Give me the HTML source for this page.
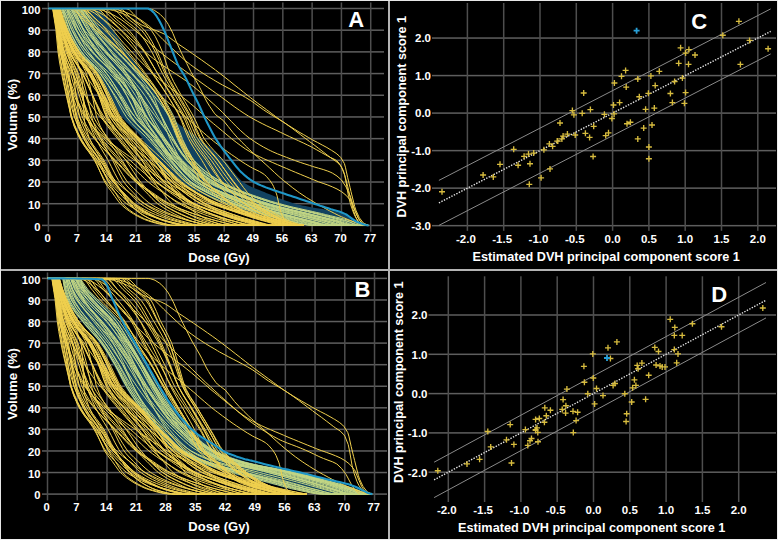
<!DOCTYPE html>
<html><head><meta charset="utf-8"><title>DVH PCA figure</title>
<style>
html,body{margin:0;padding:0;background:#000;width:778px;height:540px;overflow:hidden}
svg{display:block}
.t{font-family:"Liberation Sans",sans-serif;font-weight:bold;font-size:11.2px;fill:#fff}
.ts{font-family:"Liberation Sans",sans-serif;font-weight:bold;font-size:11.5px;fill:#fff}
.ti{font-family:"Liberation Sans",sans-serif;font-weight:bold;font-size:12.6px;fill:#fff}
.L{font-family:"Liberation Sans",sans-serif;font-weight:bold;font-size:22px;fill:#fff}
</style></head><body>
<svg width="778" height="540" viewBox="0 0 778 540">
<rect width="778" height="540" fill="#000"/>
<defs><clipPath id="ca"><rect x="0" y="0" width="388" height="269"/></clipPath><clipPath id="cb"><rect x="0" y="271" width="388" height="269"/></clipPath></defs>
<g clip-path="url(#ca)"><rect x="42" y="224.65" width="342.0" height="1.5" fill="#5e5e5e"/>
<rect x="42" y="202.96" width="342.0" height="1.5" fill="#5e5e5e"/>
<rect x="42" y="181.27" width="342.0" height="1.5" fill="#5e5e5e"/>
<rect x="42" y="159.58" width="342.0" height="1.5" fill="#5e5e5e"/>
<rect x="42" y="137.89" width="342.0" height="1.5" fill="#5e5e5e"/>
<rect x="42" y="116.20" width="342.0" height="1.5" fill="#5e5e5e"/>
<rect x="42" y="94.51" width="342.0" height="1.5" fill="#5e5e5e"/>
<rect x="42" y="72.82" width="342.0" height="1.5" fill="#5e5e5e"/>
<rect x="42" y="51.13" width="342.0" height="1.5" fill="#5e5e5e"/>
<rect x="42" y="29.44" width="342.0" height="1.5" fill="#5e5e5e"/>
<rect x="42" y="7.75" width="342.0" height="1.5" fill="#5e5e5e"/>
<rect x="47.65" y="2.5" width="1.5" height="229.2" fill="#4e4e4e"/>
<rect x="76.95" y="2.5" width="1.5" height="229.2" fill="#4e4e4e"/>
<rect x="106.25" y="2.5" width="1.5" height="229.2" fill="#4e4e4e"/>
<rect x="135.56" y="2.5" width="1.5" height="229.2" fill="#4e4e4e"/>
<rect x="164.86" y="2.5" width="1.5" height="229.2" fill="#4e4e4e"/>
<rect x="194.16" y="2.5" width="1.5" height="229.2" fill="#4e4e4e"/>
<rect x="223.46" y="2.5" width="1.5" height="229.2" fill="#4e4e4e"/>
<rect x="252.76" y="2.5" width="1.5" height="229.2" fill="#4e4e4e"/>
<rect x="282.07" y="2.5" width="1.5" height="229.2" fill="#4e4e4e"/>
<rect x="311.37" y="2.5" width="1.5" height="229.2" fill="#4e4e4e"/>
<rect x="340.67" y="2.5" width="1.5" height="229.2" fill="#4e4e4e"/>
<rect x="369.97" y="2.5" width="1.5" height="229.2" fill="#4e4e4e"/>
<path d="M61.0,8.5 L64.1,16.5 L65.1,19.3 L67.2,25.4 L68.9,30.2 L70.3,33.9 L73.5,42.0 L76.6,49.0 L78.1,51.9 L79.7,54.5 L82.8,58.9 L86.0,62.8 L89.1,66.4 L92.2,70.1 L94.9,73.6 L95.3,74.2 L98.5,78.8 L101.6,83.5 L104.7,88.3 L107.9,93.3 L109.1,95.3 L111.0,98.4 L114.1,103.9 L117.2,109.4 L120.4,114.5 L122.1,117.0 L123.5,118.7 L126.6,122.2 L129.7,125.1 L132.9,127.9 L136.0,130.8 L139.1,134.2 L142.2,138.1 L142.6,138.6 L145.4,143.9 L148.5,151.3 L151.6,158.1 L153.1,160.3 L154.7,162.4 L157.9,166.0 L161.0,169.2 L164.1,172.0 L167.3,174.5 L170.4,176.8 L173.5,179.0 L176.6,181.0 L178.2,182.0 L179.8,183.0 L182.9,184.8 L186.0,186.5 L189.1,188.1 L192.3,189.6 L195.4,191.1 L198.5,192.6 L199.1,192.9 L201.6,194.1 L204.8,195.6 L207.9,197.1 L211.0,198.5 L214.1,199.9 L217.3,201.3 L220.4,202.5 L223.4,203.7 L223.5,203.8 L226.6,204.9 L229.8,206.1 L232.9,207.1 L236.0,208.2 L239.2,209.2 L242.3,210.2 L245.4,211.2 L248.5,212.1 L251.7,213.1 L254.8,214.0 L256.9,214.6 L257.9,214.8 L261.0,215.7 L264.2,216.6 L267.3,217.4 L270.4,218.2 L273.5,219.0 L276.7,219.7 L279.8,220.4 L282.8,221.1 L282.9,221.1 L286.0,221.7 L289.2,222.3 L292.3,222.9 L295.4,223.5 L298.6,224.0 L301.7,224.5 L304.8,225.0 L307.9,225.4 L366.5,225.4 L363.1,223.6 L359.8,221.9 L358.2,221.1 L356.4,220.1 L353.0,218.1 L349.6,216.3 L346.2,214.8 L345.6,214.6 L342.8,213.7 L339.4,212.7 L336.0,211.8 L332.6,211.1 L329.2,210.4 L325.8,209.7 L322.5,209.1 L319.1,208.6 L315.7,208.0 L312.3,207.4 L308.9,206.8 L305.5,206.1 L302.1,205.4 L298.7,204.6 L295.4,203.7 L295.3,203.7 L291.9,202.7 L288.5,201.6 L285.1,200.4 L281.8,199.2 L278.4,197.9 L275.0,196.5 L271.6,195.1 L268.2,193.7 L266.1,192.9 L264.8,192.3 L261.4,191.0 L258.0,189.6 L254.6,188.2 L251.2,186.7 L247.8,184.9 L244.5,182.9 L243.0,182.0 L241.1,180.5 L237.7,177.0 L234.3,172.8 L230.9,168.3 L227.5,164.0 L224.2,160.3 L224.1,160.2 L220.7,157.0 L217.3,153.9 L213.9,150.9 L210.5,148.0 L207.2,145.2 L203.8,142.4 L200.4,139.7 L199.1,138.6 L197.0,137.0 L193.6,134.5 L190.2,132.1 L186.8,129.8 L183.4,127.4 L180.0,124.9 L176.6,122.1 L173.2,118.8 L171.5,117.0 L169.8,115.0 L166.5,109.7 L163.1,103.7 L159.7,97.8 L158.1,95.3 L156.3,92.6 L152.9,87.8 L149.5,83.2 L146.1,78.5 L142.7,73.8 L142.6,73.6 L139.3,68.8 L135.9,63.8 L132.5,58.7 L129.2,53.7 L127.9,51.9 L125.8,48.7 L122.4,43.8 L119.0,38.9 L115.6,33.8 L113.3,30.2 L112.2,28.4 L108.8,22.3 L107.0,19.3 L105.4,17.0 L102.0,12.4 L98.6,8.5Z" fill="#124260"/>
<g fill="none" stroke="#c2d684" stroke-width="1.0" stroke-linejoin="round">
<path d="M48.4,8.5 L53.0,8.5 L57.7,8.5 L62.3,8.5 L64.3,8.5 L66.9,13.0 L69.2,19.3 L71.5,25.3 L73.6,30.2 L76.2,35.2 L80.8,43.2 L85.4,50.1 L86.7,51.9 L90.1,56.0 L94.7,61.0 L99.3,65.7 L103.9,70.6 L106.4,73.6 L108.6,76.3 L113.2,82.9 L117.8,89.9 L121.3,95.3 L122.5,97.0 L127.1,104.7 L131.7,112.3 L134.9,117.0 L136.3,118.8 L141.0,124.1 L145.6,128.9 L150.2,133.6 L154.9,138.6 L154.9,138.6 L159.5,144.0 L164.1,149.6 L168.8,155.1 L173.4,160.1 L173.6,160.3 L178.0,164.8 L182.6,169.4 L187.3,173.8 L191.9,177.7 L196.5,181.2 L197.7,182.0 L201.2,184.2 L205.8,186.8 L210.4,189.2 L215.0,191.3 L218.4,192.9 L219.7,193.4 L224.3,195.4 L228.9,197.2 L233.6,199.0 L238.2,200.7 L242.8,202.3 L247.1,203.7 L247.4,203.8 L252.1,205.3 L256.7,206.6 L261.3,208.0 L266.0,209.2 L270.6,210.5 L275.2,211.7 L279.8,212.9 L284.5,214.1 L286.3,214.6 L289.1,215.3 L293.7,216.5 L298.4,217.7 L303.0,218.9 L307.6,220.0 L312.1,221.1 L312.2,221.1 L316.9,222.3 L321.5,223.6 L326.1,224.7 L330.8,225.4 L332.2,225.4 L335.4,225.4 L340.0,225.4 L344.6,225.4 L349.3,225.4 L353.9,225.4 L358.5,225.4 L363.2,225.4 L367.8,225.4"/>
<path d="M48.4,8.5 L53.0,8.5 L57.7,8.5 L62.3,8.5 L63.4,8.5 L66.9,16.9 L67.7,19.3 L71.5,29.6 L71.8,30.2 L76.2,38.9 L80.8,46.7 L84.4,51.9 L85.4,53.2 L90.1,58.6 L94.7,63.3 L99.3,67.9 L103.9,73.2 L104.2,73.6 L108.6,79.6 L113.2,86.6 L117.8,94.0 L118.6,95.3 L122.5,102.1 L127.1,110.7 L131.0,117.0 L131.7,117.9 L136.3,123.6 L141.0,128.5 L145.6,133.2 L150.2,138.1 L150.7,138.6 L154.9,143.6 L159.5,149.2 L164.1,154.8 L168.8,160.1 L169.0,160.3 L173.4,165.0 L178.0,170.0 L182.6,174.7 L187.3,178.9 L191.3,182.0 L191.9,182.4 L196.5,185.4 L201.2,188.0 L205.8,190.3 L210.4,192.5 L211.2,192.9 L215.0,194.6 L219.7,196.5 L224.3,198.4 L228.9,200.1 L233.6,201.7 L238.2,203.3 L239.5,203.7 L242.8,204.8 L247.4,206.2 L252.1,207.5 L256.7,208.8 L261.3,210.1 L266.0,211.3 L270.6,212.5 L275.2,213.7 L278.6,214.6 L279.8,214.9 L284.5,216.1 L289.1,217.2 L293.7,218.3 L298.4,219.4 L303.0,220.5 L305.5,221.1 L307.6,221.5 L312.2,222.7 L316.9,223.9 L321.5,224.9 L326.1,225.4 L327.3,225.4 L330.8,225.4 L335.4,225.4 L340.0,225.4 L344.6,225.4 L349.3,225.4 L353.9,225.4 L358.5,225.4 L363.2,225.4 L367.8,225.4"/>
<path d="M48.4,8.5 L53.0,8.5 L57.7,8.5 L62.3,8.5 L66.9,8.5 L71.5,8.5 L76.2,8.5 L78.2,8.5 L80.8,9.8 L85.4,16.0 L87.8,19.3 L90.1,22.3 L94.7,28.7 L95.9,30.2 L99.3,34.2 L103.9,39.2 L108.6,43.9 L113.2,48.6 L116.5,51.9 L117.8,53.3 L122.5,57.8 L127.1,62.4 L131.7,66.9 L136.3,71.6 L138.2,73.6 L141.0,76.5 L145.6,81.4 L150.2,86.5 L154.9,92.2 L157.1,95.3 L159.5,98.7 L164.1,106.5 L168.8,115.3 L169.5,117.0 L173.4,126.1 L178.0,137.5 L178.5,138.6 L182.6,146.7 L187.3,154.9 L191.3,160.3 L191.9,161.0 L196.5,165.8 L201.2,169.9 L205.8,173.5 L210.4,176.7 L215.0,179.6 L219.2,182.0 L219.7,182.3 L224.3,184.7 L228.9,186.9 L233.6,188.9 L238.2,190.8 L242.8,192.6 L243.5,192.9 L247.4,194.3 L252.1,196.0 L256.7,197.6 L261.3,199.1 L266.0,200.6 L270.6,202.0 L275.2,203.4 L276.4,203.7 L279.8,204.6 L284.5,205.8 L289.1,207.0 L293.7,208.1 L298.4,209.2 L303.0,210.2 L307.6,211.2 L312.2,212.3 L316.9,213.4 L321.5,214.5 L321.8,214.6 L326.1,215.6 L330.8,216.8 L335.4,217.9 L340.0,219.1 L344.6,220.3 L347.3,221.1 L349.3,221.7 L353.9,223.6 L358.5,225.1 L361.2,225.4 L363.2,225.4 L367.8,225.4"/>
<path d="M48.4,8.5 L53.0,8.5 L57.7,8.5 L62.3,8.5 L65.7,8.5 L66.9,9.3 L71.4,19.3 L71.5,19.7 L76.2,29.2 L76.7,30.2 L80.8,36.7 L85.4,43.2 L90.1,49.0 L92.5,51.9 L94.7,54.4 L99.3,59.1 L103.9,63.4 L108.6,67.7 L113.2,72.4 L114.3,73.6 L117.8,77.5 L122.5,83.1 L127.1,88.9 L131.7,95.1 L131.8,95.3 L136.3,101.9 L141.0,109.2 L145.6,116.2 L146.1,117.0 L150.2,122.5 L154.9,128.4 L159.5,134.1 L163.1,138.6 L164.1,139.9 L168.8,146.1 L173.4,152.2 L178.0,157.8 L180.4,160.3 L182.6,162.6 L187.3,166.9 L191.9,170.9 L196.5,174.6 L201.2,178.0 L205.8,181.0 L207.4,182.0 L210.4,183.7 L215.0,186.1 L219.7,188.2 L224.3,190.2 L228.9,192.1 L230.9,192.9 L233.6,193.9 L238.2,195.6 L242.8,197.3 L247.4,198.9 L252.1,200.4 L256.7,201.8 L261.3,203.2 L263.1,203.7 L266.0,204.5 L270.6,205.7 L275.2,206.9 L279.8,208.1 L284.5,209.2 L289.1,210.3 L293.7,211.3 L298.4,212.4 L303.0,213.5 L307.4,214.6 L307.6,214.6 L312.2,215.7 L316.9,216.9 L321.5,218.0 L326.1,219.1 L330.8,220.2 L334.0,221.1 L335.4,221.4 L340.0,223.0 L344.6,224.5 L349.3,225.3 L350.7,225.4 L353.9,225.4 L358.5,225.4 L363.2,225.4 L367.8,225.4"/>
<path d="M48.4,8.5 L53.0,8.5 L57.7,8.5 L62.3,8.5 L66.9,8.5 L69.8,8.5 L71.5,9.9 L76.1,19.3 L76.2,19.5 L80.8,29.1 L81.4,30.2 L85.4,36.8 L90.1,43.7 L94.7,49.9 L96.2,51.9 L99.3,55.6 L103.9,60.6 L108.6,65.4 L113.2,70.5 L115.8,73.6 L117.8,76.3 L122.5,82.7 L127.1,89.6 L130.6,95.3 L131.7,97.3 L136.3,106.4 L141.0,115.4 L141.9,117.0 L145.6,122.5 L150.2,128.8 L154.9,134.7 L157.8,138.6 L159.5,140.9 L164.1,147.3 L168.8,153.6 L173.4,159.4 L174.2,160.3 L178.0,164.6 L182.6,169.5 L187.3,174.0 L191.9,178.2 L196.5,181.7 L197.0,182.0 L201.2,184.7 L205.8,187.3 L210.4,189.7 L215.0,191.9 L217.2,192.9 L219.7,194.0 L224.3,195.9 L228.9,197.8 L233.6,199.5 L238.2,201.2 L242.8,202.8 L245.6,203.7 L247.4,204.3 L252.1,205.7 L256.7,207.1 L261.3,208.4 L266.0,209.7 L270.6,210.9 L275.2,212.1 L279.8,213.3 L284.5,214.5 L284.7,214.6 L289.1,215.7 L293.7,216.9 L298.4,218.1 L303.0,219.2 L307.6,220.3 L310.8,221.1 L312.2,221.4 L316.9,222.7 L321.5,223.9 L326.1,224.9 L330.8,225.4 L331.2,225.4 L335.4,225.4 L340.0,225.4 L344.6,225.4 L349.3,225.4 L353.9,225.4 L358.5,225.4 L363.2,225.4 L367.8,225.4"/>
<path d="M48.4,8.5 L53.0,8.5 L57.7,8.5 L62.3,8.5 L66.5,8.5 L66.9,8.6 L71.5,16.5 L73.0,19.3 L76.2,25.2 L79.2,30.2 L80.8,32.6 L85.4,38.8 L90.1,44.4 L94.7,49.6 L96.8,51.9 L99.3,54.5 L103.9,58.9 L108.6,63.0 L113.2,67.2 L117.8,71.5 L119.9,73.6 L122.5,76.2 L127.1,81.0 L131.7,86.1 L136.3,91.4 L139.6,95.3 L141.0,97.0 L145.6,103.0 L150.2,109.3 L154.9,115.6 L155.9,117.0 L159.5,121.8 L164.1,128.1 L168.8,134.4 L171.9,138.6 L173.4,140.6 L178.0,147.1 L182.6,153.5 L187.3,159.0 L188.6,160.3 L191.9,163.4 L196.5,167.4 L201.2,171.1 L205.8,174.4 L210.4,177.5 L215.0,180.3 L218.2,182.0 L219.7,182.8 L224.3,185.1 L228.9,187.2 L233.6,189.2 L238.2,191.0 L242.8,192.8 L243.1,192.9 L247.4,194.5 L252.1,196.1 L256.7,197.7 L261.3,199.3 L266.0,200.7 L270.6,202.1 L275.2,203.5 L276.1,203.7 L279.8,204.7 L284.5,205.9 L289.1,207.1 L293.7,208.2 L298.4,209.3 L303.0,210.3 L307.6,211.4 L312.2,212.4 L316.9,213.5 L321.0,214.6 L321.5,214.7 L326.1,215.8 L330.8,217.0 L335.4,218.2 L340.0,219.4 L344.6,220.6 L346.2,221.1 L349.3,222.1 L353.9,224.0 L358.5,225.3 L360.1,225.4 L363.2,225.4 L367.8,225.4"/>
<path d="M48.4,8.5 L53.0,8.5 L57.7,8.5 L62.3,8.5 L66.9,8.5 L68.9,8.5 L71.5,10.5 L76.2,18.3 L76.9,19.3 L80.8,25.1 L84.5,30.2 L85.4,31.3 L90.1,36.5 L94.7,41.3 L99.3,45.7 L103.9,50.1 L105.9,51.9 L108.6,54.3 L113.2,58.3 L117.8,62.2 L122.5,66.0 L127.1,69.8 L131.3,73.6 L131.7,73.9 L136.3,78.1 L141.0,82.4 L145.6,86.8 L150.2,91.6 L153.6,95.3 L154.9,96.8 L159.5,102.5 L164.1,108.8 L168.8,115.9 L169.4,117.0 L173.4,124.5 L178.0,134.4 L180.2,138.6 L182.6,143.2 L187.3,151.6 L191.9,158.7 L193.3,160.3 L196.5,163.7 L201.2,168.0 L205.8,171.7 L210.4,175.1 L215.0,178.1 L219.7,180.8 L221.9,182.0 L224.3,183.3 L228.9,185.6 L233.6,187.7 L238.2,189.6 L242.8,191.5 L246.5,192.9 L247.4,193.2 L252.1,194.9 L256.7,196.5 L261.3,198.1 L266.0,199.6 L270.6,201.1 L275.2,202.4 L279.7,203.7 L279.8,203.7 L284.5,205.0 L289.1,206.2 L293.7,207.3 L298.4,208.3 L303.0,209.4 L307.6,210.4 L312.2,211.4 L316.9,212.5 L321.5,213.5 L325.7,214.6 L326.1,214.7 L330.8,215.8 L335.4,216.9 L340.0,218.0 L344.6,219.2 L349.3,220.5 L351.4,221.1 L353.9,222.0 L358.5,223.9 L363.2,225.3 L364.7,225.4 L367.8,225.4"/>
<path d="M48.4,8.5 L53.0,8.5 L57.7,8.5 L61.4,8.5 L62.3,9.4 L65.4,19.3 L66.9,23.7 L69.3,30.2 L71.5,35.0 L76.2,43.6 L80.8,50.7 L81.7,51.9 L85.4,56.5 L90.1,61.3 L94.7,65.7 L99.3,70.2 L102.4,73.6 L103.9,75.5 L108.6,81.4 L113.2,87.6 L117.8,93.9 L118.9,95.3 L122.5,100.2 L127.1,106.8 L131.7,113.1 L134.9,117.0 L136.3,118.6 L141.0,123.5 L145.6,128.0 L150.2,132.4 L154.9,137.0 L156.5,138.6 L159.5,142.0 L164.1,147.3 L168.8,152.8 L173.4,157.9 L175.8,160.3 L178.0,162.5 L182.6,166.9 L187.3,171.1 L191.9,175.0 L196.5,178.6 L201.2,181.7 L201.6,182.0 L205.8,184.5 L210.4,186.9 L215.0,189.1 L219.7,191.1 L223.8,192.9 L224.3,193.1 L228.9,194.9 L233.6,196.7 L238.2,198.4 L242.8,200.0 L247.4,201.5 L252.1,203.0 L254.4,203.7 L256.7,204.4 L261.3,205.7 L266.0,207.0 L270.6,208.2 L275.2,209.3 L279.8,210.5 L284.5,211.6 L289.1,212.7 L293.7,213.8 L296.7,214.6 L298.4,215.0 L303.0,216.1 L307.6,217.2 L312.2,218.3 L316.9,219.5 L321.5,220.6 L323.7,221.1 L326.1,221.7 L330.8,223.1 L335.4,224.4 L340.0,225.3 L342.4,225.4 L344.6,225.4 L349.3,225.4 L353.9,225.4 L358.5,225.4 L363.2,225.4 L367.8,225.4"/>
<path d="M48.4,8.5 L53.0,8.5 L57.7,8.5 L62.3,8.5 L66.9,8.5 L71.5,8.5 L71.6,8.5 L76.2,15.2 L78.2,19.3 L80.8,24.7 L83.5,30.2 L85.4,33.5 L90.1,40.9 L94.7,47.5 L97.9,51.9 L99.3,53.6 L103.9,59.0 L108.6,64.0 L113.2,69.1 L116.9,73.6 L117.8,74.8 L122.5,81.1 L127.1,87.8 L131.7,95.1 L131.8,95.3 L136.3,103.7 L141.0,112.7 L143.4,117.0 L145.6,120.4 L150.2,127.1 L154.9,133.4 L158.7,138.6 L159.5,139.8 L164.1,146.6 L168.8,153.4 L173.4,159.6 L174.0,160.3 L178.0,165.2 L182.6,170.6 L187.3,175.5 L191.9,179.9 L194.6,182.0 L196.5,183.4 L201.2,186.5 L205.8,189.2 L210.4,191.6 L213.0,192.9 L215.0,193.9 L219.7,196.0 L224.3,198.0 L228.9,199.9 L233.6,201.7 L238.2,203.4 L239.2,203.7 L242.8,205.0 L247.4,206.5 L252.1,207.9 L256.7,209.3 L261.3,210.6 L266.0,211.9 L270.6,213.2 L275.2,214.4 L275.7,214.6 L279.8,215.7 L284.5,216.9 L289.1,218.1 L293.7,219.3 L298.4,220.4 L301.5,221.1 L303.0,221.4 L307.6,222.6 L312.2,223.8 L316.9,224.8 L321.5,225.3 L323.4,225.4 L326.1,225.4 L330.8,225.4 L335.4,225.4 L340.0,225.4 L344.6,225.4 L349.3,225.4 L353.9,225.4 L358.5,225.4 L363.2,225.4 L367.8,225.4"/>
<path d="M48.4,8.5 L53.0,8.5 L57.7,8.5 L62.3,8.5 L62.7,8.5 L66.9,18.1 L67.4,19.3 L71.5,29.1 L72.1,30.2 L76.2,37.2 L80.8,44.2 L85.4,50.1 L86.9,51.9 L90.1,55.4 L94.7,59.9 L99.3,64.0 L103.9,68.0 L108.6,72.3 L109.8,73.6 L113.2,77.1 L117.8,82.2 L122.5,87.4 L127.1,92.8 L129.1,95.3 L131.7,98.4 L136.3,104.3 L141.0,110.3 L145.6,116.2 L146.2,117.0 L150.2,121.7 L154.9,127.0 L159.5,132.3 L164.1,137.7 L164.9,138.6 L168.8,143.5 L173.4,149.6 L178.0,155.4 L182.5,160.3 L182.6,160.5 L187.3,164.9 L191.9,168.9 L196.5,172.7 L201.2,176.2 L205.8,179.3 L210.2,182.0 L210.4,182.1 L215.0,184.6 L219.7,186.9 L224.3,188.9 L228.9,190.8 L233.6,192.6 L234.1,192.9 L238.2,194.4 L242.8,196.1 L247.4,197.7 L252.1,199.2 L256.7,200.7 L261.3,202.1 L266.0,203.4 L266.9,203.7 L270.6,204.7 L275.2,205.9 L279.8,207.1 L284.5,208.2 L289.1,209.3 L293.7,210.3 L298.4,211.4 L303.0,212.4 L307.6,213.5 L312.2,214.6 L312.2,214.6 L316.9,215.7 L321.5,216.8 L326.1,217.9 L330.8,219.0 L335.4,220.1 L339.2,221.1 L340.0,221.3 L344.6,222.8 L349.3,224.4 L353.9,225.3 L355.3,225.4 L358.5,225.4 L363.2,225.4 L367.8,225.4"/>
<path d="M48.4,8.5 L53.0,8.5 L57.7,8.5 L62.3,8.5 L66.9,8.5 L71.5,8.5 L76.2,8.5 L76.7,8.5 L80.8,11.9 L85.4,19.1 L85.6,19.3 L90.1,26.0 L92.9,30.2 L94.7,32.6 L99.3,38.3 L103.9,43.6 L108.6,48.8 L111.3,51.9 L113.2,54.0 L117.8,58.9 L122.5,63.7 L127.1,68.6 L131.5,73.6 L131.7,73.8 L136.3,79.2 L141.0,84.8 L145.6,90.8 L148.8,95.3 L150.2,97.4 L154.9,105.1 L159.5,113.4 L161.5,117.0 L164.1,121.8 L168.8,130.5 L173.3,138.6 L173.4,138.8 L178.0,146.7 L182.6,154.2 L187.2,160.3 L187.3,160.4 L191.9,165.3 L196.5,169.8 L201.2,173.7 L205.8,177.3 L210.4,180.5 L212.9,182.0 L215.0,183.3 L219.7,185.9 L224.3,188.2 L228.9,190.4 L233.6,192.4 L234.6,192.9 L238.2,194.4 L242.8,196.2 L247.4,198.0 L252.1,199.7 L256.7,201.3 L261.3,202.9 L263.9,203.7 L266.0,204.3 L270.6,205.7 L275.2,207.0 L279.8,208.3 L284.5,209.5 L289.1,210.7 L293.7,211.9 L298.4,213.1 L303.0,214.3 L304.0,214.6 L307.6,215.5 L312.2,216.8 L316.9,218.0 L321.5,219.3 L326.1,220.5 L328.2,221.1 L330.8,221.8 L335.4,223.4 L340.0,224.8 L344.6,225.4 L344.7,225.4 L349.3,225.4 L353.9,225.4 L358.5,225.4 L363.2,225.4 L367.8,225.4"/>
<path d="M48.4,8.5 L53.0,8.5 L57.7,8.5 L62.3,8.5 L66.9,8.5 L71.5,8.5 L72.9,8.5 L76.2,11.3 L80.8,19.2 L80.9,19.3 L85.4,26.6 L87.8,30.2 L90.1,33.2 L94.7,39.0 L99.3,44.4 L103.9,49.6 L106.1,51.9 L108.6,54.6 L113.2,59.3 L117.8,63.9 L122.5,68.6 L127.1,73.5 L127.1,73.6 L131.7,78.8 L136.3,84.4 L141.0,90.2 L144.6,95.3 L145.6,96.6 L150.2,104.0 L154.9,111.8 L157.9,117.0 L159.5,119.5 L164.1,127.1 L168.8,134.5 L171.4,138.6 L173.4,141.6 L178.0,148.8 L182.6,155.4 L186.8,160.3 L187.3,160.8 L191.9,165.4 L196.5,169.5 L201.2,173.2 L205.8,176.6 L210.4,179.6 L214.4,182.0 L215.0,182.4 L219.7,184.9 L224.3,187.1 L228.9,189.2 L233.6,191.1 L237.9,192.9 L238.2,193.0 L242.8,194.8 L247.4,196.5 L252.1,198.2 L256.7,199.7 L261.3,201.3 L266.0,202.7 L269.3,203.7 L270.6,204.1 L275.2,205.4 L279.8,206.6 L284.5,207.8 L289.1,208.9 L293.7,210.1 L298.4,211.2 L303.0,212.3 L307.6,213.4 L312.1,214.6 L312.2,214.6 L316.9,215.8 L321.5,217.0 L326.1,218.2 L330.8,219.4 L335.4,220.6 L336.9,221.1 L340.0,222.1 L344.6,223.8 L349.3,225.1 L352.2,225.4 L353.9,225.4 L358.5,225.4 L363.2,225.4 L367.8,225.4"/>
<path d="M48.4,8.5 L53.0,8.5 L57.7,8.5 L62.3,8.5 L66.9,8.5 L71.5,8.5 L73.7,8.5 L76.2,10.3 L80.8,18.4 L81.4,19.3 L85.4,26.5 L87.7,30.2 L90.1,33.7 L94.7,40.0 L99.3,45.8 L103.9,51.3 L104.5,51.9 L108.6,56.5 L113.2,61.3 L117.8,66.1 L122.5,71.1 L124.6,73.6 L127.1,76.6 L131.7,82.4 L136.3,88.6 L140.8,95.3 L141.0,95.5 L145.6,103.9 L150.2,113.1 L152.3,117.0 L154.9,121.4 L159.5,129.4 L164.1,137.0 L165.2,138.6 L168.8,144.5 L173.4,151.9 L178.0,158.5 L179.5,160.3 L182.6,163.9 L187.3,168.9 L191.9,173.4 L196.5,177.4 L201.2,181.0 L202.7,182.0 L205.8,184.0 L210.4,186.7 L215.0,189.0 L219.7,191.2 L223.3,192.9 L224.3,193.3 L228.9,195.3 L233.6,197.2 L238.2,198.9 L242.8,200.6 L247.4,202.2 L252.0,203.7 L252.1,203.7 L256.7,205.2 L261.3,206.5 L266.0,207.8 L270.6,209.1 L275.2,210.3 L279.8,211.5 L284.5,212.6 L289.1,213.8 L291.9,214.6 L293.7,215.0 L298.4,216.2 L303.0,217.4 L307.6,218.6 L312.2,219.7 L316.9,220.9 L317.7,221.1 L321.5,222.1 L326.1,223.5 L330.8,224.7 L335.4,225.4 L336.8,225.4 L340.0,225.4 L344.6,225.4 L349.3,225.4 L353.9,225.4 L358.5,225.4 L363.2,225.4 L367.8,225.4"/>
<path d="M48.4,8.5 L53.0,8.5 L57.7,8.5 L62.3,8.5 L66.9,8.5 L71.5,8.5 L76.2,8.5 L80.1,8.5 L80.8,8.6 L85.4,12.9 L90.0,19.3 L90.1,19.5 L94.7,25.9 L97.9,30.2 L99.3,32.0 L103.9,37.3 L108.6,42.2 L113.2,47.0 L117.8,51.8 L117.9,51.9 L122.5,56.7 L127.1,61.4 L131.7,66.1 L136.3,71.0 L138.7,73.6 L141.0,76.0 L145.6,81.1 L150.2,86.3 L154.9,92.2 L157.0,95.3 L159.5,99.1 L164.1,107.3 L168.8,116.7 L168.9,117.0 L173.4,128.5 L177.4,138.6 L178.0,140.1 L182.6,149.6 L187.3,157.7 L189.2,160.3 L191.9,163.5 L196.5,168.3 L201.2,172.5 L205.8,176.2 L210.4,179.4 L214.5,182.0 L215.0,182.4 L219.7,185.1 L224.3,187.4 L228.9,189.6 L233.6,191.6 L236.5,192.9 L238.2,193.6 L242.8,195.5 L247.4,197.2 L252.1,198.9 L256.7,200.6 L261.3,202.1 L266.0,203.6 L266.4,203.7 L270.6,205.0 L275.2,206.3 L279.8,207.5 L284.5,208.7 L289.1,209.9 L293.7,211.0 L298.4,212.2 L303.0,213.3 L307.6,214.5 L307.8,214.6 L312.2,215.7 L316.9,216.9 L321.5,218.2 L326.1,219.4 L330.8,220.6 L332.5,221.1 L335.4,222.0 L340.0,223.6 L344.6,225.0 L348.5,225.4 L349.3,225.4 L353.9,225.4 L358.5,225.4 L363.2,225.4 L367.8,225.4"/>
<path d="M48.4,8.5 L53.0,8.5 L57.7,8.5 L62.3,8.5 L65.1,8.5 L66.9,10.4 L70.6,19.3 L71.5,21.2 L75.9,30.2 L76.2,30.6 L80.8,37.9 L85.4,44.2 L90.1,50.0 L91.7,51.9 L94.7,55.1 L99.3,59.7 L103.9,63.9 L108.6,68.2 L113.2,72.8 L113.9,73.6 L117.8,77.9 L122.5,83.4 L127.1,89.1 L131.7,95.1 L131.8,95.3 L136.3,101.7 L141.0,108.8 L145.6,115.6 L146.6,117.0 L150.2,121.8 L154.9,127.6 L159.5,133.3 L163.8,138.6 L164.1,139.0 L168.8,145.1 L173.4,151.3 L178.0,157.0 L181.1,160.3 L182.6,161.8 L187.3,166.1 L191.9,170.1 L196.5,173.8 L201.2,177.2 L205.8,180.3 L208.7,182.0 L210.4,183.0 L215.0,185.4 L219.7,187.6 L224.3,189.6 L228.9,191.4 L232.6,192.9 L233.6,193.2 L238.2,195.0 L242.8,196.6 L247.4,198.2 L252.1,199.7 L256.7,201.2 L261.3,202.6 L265.3,203.7 L266.0,203.9 L270.6,205.2 L275.2,206.4 L279.8,207.5 L284.5,208.6 L289.1,209.7 L293.7,210.7 L298.4,211.8 L303.0,212.9 L307.6,213.9 L310.1,214.6 L312.2,215.1 L316.9,216.2 L321.5,217.3 L326.1,218.4 L330.8,219.5 L335.4,220.7 L336.8,221.1 L340.0,222.0 L344.6,223.6 L349.3,225.0 L353.1,225.4 L353.9,225.4 L358.5,225.4 L363.2,225.4 L367.8,225.4"/>
<path d="M48.4,8.5 L53.0,8.5 L57.7,8.5 L62.3,8.5 L66.9,8.5 L67.7,8.5 L71.5,16.1 L72.7,19.3 L76.2,28.7 L76.8,30.2 L80.8,38.6 L85.4,46.9 L88.7,51.9 L90.1,53.8 L94.7,59.5 L99.3,64.5 L103.9,69.7 L106.9,73.6 L108.6,75.9 L113.2,83.1 L117.8,90.9 L120.3,95.3 L122.5,99.3 L127.1,108.8 L131.6,117.0 L131.7,117.1 L136.3,123.3 L141.0,128.6 L145.6,133.7 L149.9,138.6 L150.2,139.0 L154.9,144.9 L159.5,151.0 L164.1,157.0 L166.8,160.3 L168.8,162.7 L173.4,168.6 L178.0,174.2 L182.6,179.3 L185.7,182.0 L187.3,183.3 L191.9,186.6 L196.5,189.4 L201.2,192.0 L202.8,192.9 L205.8,194.4 L210.4,196.6 L215.0,198.6 L219.7,200.6 L224.3,202.4 L227.9,203.7 L228.9,204.1 L233.6,205.7 L238.2,207.3 L242.8,208.7 L247.4,210.1 L252.1,211.5 L256.7,212.8 L261.3,214.1 L262.9,214.6 L266.0,215.4 L270.6,216.6 L275.2,217.8 L279.8,218.9 L284.5,220.0 L289.1,221.0 L289.3,221.1 L293.7,222.1 L298.4,223.2 L303.0,224.2 L307.6,225.0 L312.2,225.4 L313.6,225.4 L316.9,225.4 L321.5,225.4 L326.1,225.4 L330.8,225.4 L335.4,225.4 L340.0,225.4 L344.6,225.4 L349.3,225.4 L353.9,225.4 L358.5,225.4 L363.2,225.4 L367.8,225.4"/>
<path d="M48.4,8.5 L53.0,8.5 L57.7,8.5 L60.7,8.5 L62.3,11.8 L64.3,19.3 L66.9,27.1 L68.1,30.2 L71.5,37.7 L76.2,46.1 L80.0,51.9 L80.8,53.0 L85.4,58.5 L90.1,63.1 L94.7,67.6 L99.3,72.7 L100.1,73.6 L103.9,78.8 L108.6,85.6 L113.2,92.6 L115.0,95.3 L117.8,99.6 L122.5,106.8 L127.1,113.6 L129.7,117.0 L131.7,119.3 L136.3,124.0 L141.0,128.2 L145.6,132.3 L150.2,136.5 L152.4,138.6 L154.9,141.1 L159.5,146.1 L164.1,151.1 L168.8,156.0 L173.2,160.3 L173.4,160.5 L178.0,164.6 L182.6,168.7 L187.3,172.6 L191.9,176.3 L196.5,179.6 L200.4,182.0 L201.2,182.4 L205.8,184.9 L210.4,187.2 L215.0,189.3 L219.7,191.2 L223.8,192.9 L224.3,193.0 L228.9,194.8 L233.6,196.5 L238.2,198.1 L242.8,199.7 L247.4,201.1 L252.1,202.5 L256.1,203.7 L256.7,203.9 L261.3,205.2 L266.0,206.4 L270.6,207.6 L275.2,208.7 L279.8,209.8 L284.5,210.9 L289.1,212.0 L293.7,213.0 L298.4,214.1 L300.1,214.6 L303.0,215.2 L307.6,216.3 L312.2,217.4 L316.9,218.5 L321.5,219.6 L326.1,220.7 L327.5,221.1 L330.8,221.9 L335.4,223.4 L340.0,224.7 L344.6,225.4 L345.7,225.4 L349.3,225.4 L353.9,225.4 L358.5,225.4 L363.2,225.4 L367.8,225.4"/>
<path d="M48.4,8.5 L53.0,8.5 L57.7,8.5 L62.3,8.5 L66.9,8.5 L71.5,8.5 L76.2,8.5 L80.6,8.5 L80.8,8.5 L85.4,12.3 L90.1,18.9 L90.4,19.3 L94.7,25.4 L98.1,30.2 L99.3,31.7 L103.9,37.2 L108.6,42.3 L113.2,47.3 L117.4,51.9 L117.8,52.4 L122.5,57.4 L127.1,62.4 L131.7,67.5 L136.3,72.9 L136.9,73.6 L141.0,78.6 L145.6,84.4 L150.2,91.1 L152.7,95.3 L154.9,99.7 L159.5,111.3 L161.7,117.0 L164.1,123.6 L168.8,136.1 L169.8,138.6 L173.4,146.3 L178.0,155.1 L181.4,160.3 L182.6,162.0 L187.3,167.8 L191.9,172.8 L196.5,177.2 L201.2,181.0 L202.5,182.0 L205.8,184.3 L210.4,187.2 L215.0,189.7 L219.7,192.1 L221.3,192.9 L224.3,194.3 L228.9,196.4 L233.6,198.3 L238.2,200.2 L242.8,202.0 L247.4,203.6 L247.7,203.7 L252.1,205.2 L256.7,206.7 L261.3,208.1 L266.0,209.5 L270.6,210.8 L275.2,212.1 L279.8,213.3 L284.2,214.6 L284.5,214.6 L289.1,215.9 L293.7,217.2 L298.4,218.5 L303.0,219.7 L307.6,220.8 L308.7,221.1 L312.2,222.0 L316.9,223.3 L321.5,224.5 L326.1,225.3 L328.6,225.4 L330.8,225.4 L335.4,225.4 L340.0,225.4 L344.6,225.4 L349.3,225.4 L353.9,225.4 L358.5,225.4 L363.2,225.4 L367.8,225.4"/>
<path d="M48.4,8.5 L53.0,8.5 L57.7,8.5 L62.3,8.5 L66.9,8.5 L71.5,8.5 L76.2,8.5 L80.8,8.5 L81.7,8.5 L85.4,10.7 L90.1,16.8 L92.1,19.3 L94.7,22.7 L99.3,29.0 L100.3,30.2 L103.9,34.3 L108.6,39.3 L113.2,44.0 L117.8,48.7 L120.9,51.9 L122.5,53.5 L127.1,58.2 L131.7,62.9 L136.3,67.7 L141.0,72.6 L141.9,73.6 L145.6,77.5 L150.2,82.4 L154.9,87.5 L159.5,93.1 L161.1,95.3 L164.1,99.6 L168.8,107.0 L173.4,115.7 L174.0,117.0 L178.0,127.3 L182.4,138.6 L182.6,139.3 L187.3,149.0 L191.9,157.2 L194.2,160.3 L196.5,162.9 L201.2,167.6 L205.8,171.5 L210.4,175.0 L215.0,178.1 L219.7,180.9 L221.5,182.0 L224.3,183.6 L228.9,186.0 L233.6,188.1 L238.2,190.1 L242.8,192.0 L244.8,192.9 L247.4,193.9 L252.1,195.7 L256.7,197.4 L261.3,199.0 L266.0,200.6 L270.6,202.1 L275.2,203.5 L275.9,203.7 L279.8,204.8 L284.5,206.1 L289.1,207.3 L293.7,208.5 L298.4,209.6 L303.0,210.7 L307.6,211.8 L312.2,212.9 L316.9,214.1 L318.6,214.6 L321.5,215.3 L326.1,216.5 L330.8,217.7 L335.4,219.0 L340.0,220.3 L342.8,221.1 L344.6,221.7 L349.3,223.6 L353.9,225.1 L356.7,225.4 L358.5,225.4 L363.2,225.4 L367.8,225.4"/>
<path d="M48.4,8.5 L53.0,8.5 L57.7,8.5 L62.3,8.5 L66.9,8.5 L71.5,8.5 L74.6,8.5 L76.2,9.4 L80.8,17.5 L81.8,19.3 L85.4,26.5 L87.3,30.2 L90.1,34.8 L94.7,41.9 L99.3,48.6 L101.7,51.9 L103.9,54.9 L108.6,60.5 L113.2,66.0 L117.8,72.0 L118.9,73.6 L122.5,79.1 L127.1,87.1 L131.2,95.3 L131.7,96.3 L136.3,108.4 L139.9,117.0 L141.0,118.9 L145.6,126.3 L150.2,132.6 L154.6,138.6 L154.9,139.0 L159.5,145.7 L164.1,152.3 L168.8,158.4 L170.3,160.3 L173.4,164.1 L178.0,169.7 L182.6,174.9 L187.3,179.5 L190.3,182.0 L191.9,183.2 L196.5,186.3 L201.2,189.1 L205.8,191.5 L208.4,192.9 L210.4,193.8 L215.0,196.0 L219.7,198.0 L224.3,199.9 L228.9,201.7 L233.6,203.4 L234.3,203.7 L238.2,205.1 L242.8,206.6 L247.4,208.1 L252.1,209.5 L256.7,210.8 L261.3,212.1 L266.0,213.4 L270.0,214.6 L270.6,214.7 L275.2,216.0 L279.8,217.2 L284.5,218.4 L289.1,219.6 L293.7,220.6 L295.7,221.1 L298.4,221.7 L303.0,222.8 L307.6,224.0 L312.2,224.9 L316.9,225.4 L318.4,225.4 L321.5,225.4 L326.1,225.4 L330.8,225.4 L335.4,225.4 L340.0,225.4 L344.6,225.4 L349.3,225.4 L353.9,225.4 L358.5,225.4 L363.2,225.4 L367.8,225.4"/>
<path d="M48.4,8.5 L53.0,8.5 L57.7,8.5 L62.3,8.5 L66.9,8.5 L71.5,8.5 L72.3,8.5 L76.2,13.6 L78.8,19.3 L80.8,23.6 L83.8,30.2 L85.4,33.3 L90.1,41.4 L94.7,48.8 L96.8,51.9 L99.3,55.4 L103.9,61.1 L108.6,66.6 L113.2,72.6 L113.9,73.6 L117.8,79.7 L122.5,87.6 L126.7,95.3 L127.1,96.0 L131.7,105.7 L136.3,115.1 L137.4,117.0 L141.0,122.1 L145.6,128.0 L150.2,133.5 L154.4,138.6 L154.9,139.2 L159.5,145.4 L164.1,151.7 L168.8,157.8 L170.8,160.3 L173.4,163.4 L178.0,169.1 L182.6,174.4 L187.3,179.2 L190.5,182.0 L191.9,183.1 L196.5,186.4 L201.2,189.2 L205.8,191.8 L207.8,192.9 L210.4,194.2 L215.0,196.5 L219.7,198.6 L224.3,200.6 L228.9,202.5 L232.2,203.7 L233.6,204.2 L238.2,205.9 L242.8,207.5 L247.4,209.0 L252.1,210.5 L256.7,211.9 L261.3,213.2 L265.9,214.6 L266.0,214.6 L270.6,215.9 L275.2,217.2 L279.8,218.4 L284.5,219.6 L289.1,220.7 L290.8,221.1 L293.7,221.7 L298.4,222.9 L303.0,224.0 L307.6,224.9 L312.2,225.4 L314.1,225.4 L316.9,225.4 L321.5,225.4 L326.1,225.4 L330.8,225.4 L335.4,225.4 L340.0,225.4 L344.6,225.4 L349.3,225.4 L353.9,225.4 L358.5,225.4 L363.2,225.4 L367.8,225.4"/>
<path d="M48.4,8.5 L53.0,8.5 L57.7,8.5 L62.3,8.5 L66.9,8.5 L71.5,8.5 L76.2,8.5 L77.8,8.5 L80.8,10.4 L85.4,17.2 L86.9,19.3 L90.1,24.0 L94.2,30.2 L94.7,30.8 L99.3,36.6 L103.9,42.0 L108.6,47.2 L112.7,51.9 L113.2,52.4 L117.8,57.5 L122.5,62.4 L127.1,67.3 L131.7,72.5 L132.7,73.6 L136.3,77.9 L141.0,83.4 L145.6,89.4 L149.8,95.3 L150.2,95.9 L154.9,103.6 L159.5,112.1 L162.1,117.0 L164.1,120.8 L168.8,130.0 L173.3,138.6 L173.4,138.8 L178.0,147.0 L182.6,154.8 L186.7,160.3 L187.3,161.0 L191.9,166.0 L196.5,170.5 L201.2,174.5 L205.8,178.1 L210.4,181.3 L211.5,182.0 L215.0,184.2 L219.7,186.8 L224.3,189.1 L228.9,191.2 L232.6,192.9 L233.6,193.3 L238.2,195.3 L242.8,197.1 L247.4,198.9 L252.1,200.6 L256.7,202.3 L261.1,203.7 L261.3,203.8 L266.0,205.2 L270.6,206.6 L275.2,207.9 L279.8,209.2 L284.5,210.4 L289.1,211.6 L293.7,212.8 L298.4,214.1 L300.2,214.6 L303.0,215.3 L307.6,216.6 L312.2,217.9 L316.9,219.1 L321.5,220.3 L324.3,221.1 L326.1,221.6 L330.8,223.1 L335.4,224.5 L340.0,225.4 L341.3,225.4 L344.6,225.4 L349.3,225.4 L353.9,225.4 L358.5,225.4 L363.2,225.4 L367.8,225.4"/>
<path d="M48.4,8.5 L53.0,8.5 L57.7,8.5 L62.3,8.5 L66.9,8.5 L70.8,8.5 L71.5,8.7 L76.2,16.5 L77.6,19.3 L80.8,25.3 L83.5,30.2 L85.4,33.3 L90.1,40.0 L94.7,46.0 L99.3,51.7 L99.4,51.9 L103.9,57.0 L108.6,61.8 L113.2,66.5 L117.8,71.5 L119.6,73.6 L122.5,77.1 L127.1,83.2 L131.7,89.7 L135.3,95.3 L136.3,96.9 L141.0,105.6 L145.6,114.4 L147.1,117.0 L150.2,121.9 L154.9,128.7 L159.5,135.2 L161.9,138.6 L164.1,141.8 L168.8,148.6 L173.4,155.0 L177.7,160.3 L178.0,160.6 L182.6,165.6 L187.3,170.2 L191.9,174.4 L196.5,178.3 L201.2,181.6 L201.8,182.0 L205.8,184.5 L210.4,187.0 L215.0,189.3 L219.7,191.4 L223.0,192.9 L224.3,193.4 L228.9,195.3 L233.6,197.1 L238.2,198.9 L242.8,200.5 L247.4,202.1 L252.1,203.6 L252.5,203.7 L256.7,205.0 L261.3,206.3 L266.0,207.6 L270.6,208.8 L275.2,210.0 L279.8,211.2 L284.5,212.4 L289.1,213.5 L293.1,214.6 L293.7,214.7 L298.4,215.9 L303.0,217.1 L307.6,218.2 L312.2,219.4 L316.9,220.5 L319.1,221.1 L321.5,221.7 L326.1,223.1 L330.8,224.4 L335.4,225.2 L338.0,225.4 L340.0,225.4 L344.6,225.4 L349.3,225.4 L353.9,225.4 L358.5,225.4 L363.2,225.4 L367.8,225.4"/>
<path d="M48.4,8.5 L53.0,8.5 L57.7,8.5 L62.3,8.5 L66.9,8.5 L71.5,8.5 L75.1,8.5 L76.2,8.9 L80.8,15.5 L83.0,19.3 L85.4,23.4 L89.3,30.2 L90.1,31.3 L94.7,38.0 L99.3,44.2 L103.9,50.0 L105.4,51.9 L108.6,55.7 L113.2,60.9 L117.8,66.1 L122.5,71.6 L124.0,73.6 L127.1,77.7 L131.7,84.2 L136.3,91.3 L138.8,95.3 L141.0,99.2 L145.6,108.5 L150.0,117.0 L150.2,117.4 L154.9,124.9 L159.5,132.0 L164.0,138.6 L164.1,138.9 L168.8,146.0 L173.4,152.9 L178.0,159.2 L179.0,160.3 L182.6,164.5 L187.3,169.5 L191.9,174.1 L196.5,178.2 L201.2,181.7 L201.6,182.0 L205.8,184.8 L210.4,187.5 L215.0,190.0 L219.7,192.2 L221.0,192.9 L224.3,194.4 L228.9,196.5 L233.6,198.4 L238.2,200.3 L242.8,202.0 L247.4,203.6 L247.6,203.7 L252.1,205.2 L256.7,206.7 L261.3,208.1 L266.0,209.5 L270.6,210.8 L275.2,212.1 L279.8,213.4 L284.1,214.6 L284.5,214.7 L289.1,216.0 L293.7,217.2 L298.4,218.5 L303.0,219.7 L307.6,220.9 L308.4,221.1 L312.2,222.1 L316.9,223.4 L321.5,224.6 L326.1,225.3 L328.3,225.4 L330.8,225.4 L335.4,225.4 L340.0,225.4 L344.6,225.4 L349.3,225.4 L353.9,225.4 L358.5,225.4 L363.2,225.4 L367.8,225.4"/>
<path d="M48.4,8.5 L53.0,8.5 L57.7,8.5 L62.3,8.5 L66.9,8.5 L71.5,8.5 L76.2,8.5 L79.3,8.5 L80.8,9.1 L85.4,15.1 L88.2,19.3 L90.1,22.2 L94.7,29.9 L94.9,30.2 L99.3,36.6 L103.9,42.8 L108.6,48.9 L110.8,51.9 L113.2,55.0 L117.8,60.9 L122.5,67.0 L126.8,73.6 L127.1,74.0 L131.7,82.0 L136.3,91.4 L138.0,95.3 L141.0,104.8 L144.8,117.0 L145.6,118.8 L150.2,127.6 L154.9,134.9 L157.2,138.6 L159.5,142.2 L164.1,149.5 L168.8,156.3 L171.7,160.3 L173.4,162.4 L178.0,168.3 L182.6,173.8 L187.3,178.7 L191.0,182.0 L191.9,182.7 L196.5,186.1 L201.2,189.0 L205.8,191.6 L208.2,192.9 L210.4,194.0 L215.0,196.3 L219.7,198.4 L224.3,200.4 L228.9,202.3 L232.6,203.7 L233.6,204.1 L238.2,205.8 L242.8,207.4 L247.4,208.9 L252.1,210.4 L256.7,211.8 L261.3,213.2 L266.0,214.5 L266.0,214.6 L270.6,215.9 L275.2,217.2 L279.8,218.4 L284.5,219.6 L289.1,220.7 L290.7,221.1 L293.7,221.8 L298.4,222.9 L303.0,224.0 L307.6,224.9 L312.2,225.4 L313.7,225.4 L316.9,225.4 L321.5,225.4 L326.1,225.4 L330.8,225.4 L335.4,225.4 L340.0,225.4 L344.6,225.4 L349.3,225.4 L353.9,225.4 L358.5,225.4 L363.2,225.4 L367.8,225.4"/>
<path d="M48.4,8.5 L53.0,8.5 L57.7,8.5 L62.3,8.5 L66.9,8.5 L68.4,8.5 L71.5,13.1 L74.2,19.3 L76.2,23.6 L79.2,30.2 L80.8,33.0 L85.4,40.7 L90.1,47.6 L93.2,51.9 L94.7,53.7 L99.3,59.1 L103.9,64.0 L108.6,69.0 L112.3,73.6 L113.2,74.8 L117.8,81.4 L122.5,88.7 L126.5,95.3 L127.1,96.3 L131.7,104.9 L136.3,113.6 L138.4,117.0 L141.0,120.5 L145.6,126.3 L150.2,131.6 L154.9,137.0 L156.2,138.6 L159.5,142.7 L164.1,148.7 L168.8,154.6 L173.4,160.0 L173.7,160.3 L178.0,164.9 L182.6,169.7 L187.3,174.2 L191.9,178.2 L196.5,181.7 L196.9,182.0 L201.2,184.7 L205.8,187.4 L210.4,189.7 L215.0,192.0 L217.0,192.9 L219.7,194.1 L224.3,196.0 L228.9,197.9 L233.6,199.7 L238.2,201.4 L242.8,203.0 L244.9,203.7 L247.4,204.6 L252.1,206.0 L256.7,207.4 L261.3,208.7 L266.0,210.0 L270.6,211.3 L275.2,212.5 L279.8,213.8 L282.8,214.6 L284.5,215.0 L289.1,216.2 L293.7,217.5 L298.4,218.6 L303.0,219.8 L307.6,220.9 L308.3,221.1 L312.2,222.1 L316.9,223.4 L321.5,224.5 L326.1,225.3 L328.8,225.4 L330.8,225.4 L335.4,225.4 L340.0,225.4 L344.6,225.4 L349.3,225.4 L353.9,225.4 L358.5,225.4 L363.2,225.4 L367.8,225.4"/>
<path d="M48.4,8.5 L53.0,8.5 L57.7,8.5 L62.1,8.5 L62.3,8.6 L66.0,19.3 L66.9,22.1 L69.7,30.2 L71.5,34.3 L76.2,43.4 L80.8,50.9 L81.5,51.9 L85.4,57.0 L90.1,61.9 L94.7,66.6 L99.3,71.8 L100.7,73.6 L103.9,78.3 L108.6,85.8 L113.2,93.7 L114.1,95.3 L117.8,102.0 L122.5,110.7 L126.4,117.0 L127.1,117.9 L131.7,123.3 L136.3,127.9 L141.0,132.2 L145.6,136.6 L147.5,138.6 L150.2,141.6 L154.9,146.9 L159.5,152.2 L164.1,157.5 L166.8,160.3 L168.8,162.5 L173.4,167.5 L178.0,172.5 L182.6,177.1 L187.3,181.1 L188.5,182.0 L191.9,184.3 L196.5,187.1 L201.2,189.6 L205.8,191.9 L207.7,192.9 L210.4,194.1 L215.0,196.2 L219.7,198.1 L224.3,199.9 L228.9,201.6 L233.6,203.2 L235.0,203.7 L238.2,204.8 L242.8,206.3 L247.4,207.7 L252.1,209.0 L256.7,210.3 L261.3,211.6 L266.0,212.9 L270.6,214.1 L272.4,214.6 L275.2,215.3 L279.8,216.5 L284.5,217.7 L289.1,218.8 L293.7,219.9 L298.4,221.0 L298.9,221.1 L303.0,222.0 L307.6,223.2 L312.2,224.3 L316.9,225.1 L321.5,225.4 L321.5,225.4 L326.1,225.4 L330.8,225.4 L335.4,225.4 L340.0,225.4 L344.6,225.4 L349.3,225.4 L353.9,225.4 L358.5,225.4 L363.2,225.4 L367.8,225.4"/>
<path d="M48.4,8.5 L53.0,8.5 L57.7,8.5 L62.3,8.5 L66.9,8.5 L71.5,8.5 L76.1,8.5 L76.2,8.5 L80.8,13.5 L84.2,19.3 L85.4,21.4 L90.1,29.4 L90.6,30.2 L94.7,36.1 L99.3,42.3 L103.9,48.1 L107.1,51.9 L108.6,53.7 L113.2,59.0 L117.8,64.0 L122.5,69.3 L125.9,73.6 L127.1,75.1 L131.7,81.3 L136.3,88.1 L140.6,95.3 L141.0,95.9 L145.6,106.1 L150.2,116.7 L150.4,117.0 L154.9,125.5 L159.5,133.6 L162.5,138.6 L164.1,141.4 L168.8,149.1 L173.4,156.3 L176.4,160.3 L178.0,162.3 L182.6,167.8 L187.3,172.9 L191.9,177.4 L196.5,181.2 L197.6,182.0 L201.2,184.5 L205.8,187.3 L210.4,189.8 L215.0,192.1 L216.6,192.9 L219.7,194.3 L224.3,196.4 L228.9,198.3 L233.6,200.1 L238.2,201.8 L242.8,203.5 L243.5,203.7 L247.4,205.0 L252.1,206.5 L256.7,207.9 L261.3,209.2 L266.0,210.5 L270.6,211.8 L275.2,213.0 L279.8,214.3 L280.9,214.6 L284.5,215.5 L289.1,216.8 L293.7,218.0 L298.4,219.1 L303.0,220.3 L306.4,221.1 L307.6,221.4 L312.2,222.6 L316.9,223.8 L321.5,224.9 L326.1,225.4 L327.3,225.4 L330.8,225.4 L335.4,225.4 L340.0,225.4 L344.6,225.4 L349.3,225.4 L353.9,225.4 L358.5,225.4 L363.2,225.4 L367.8,225.4"/>
</g>
<g fill="none" stroke="#f0d04e" stroke-width="1.0" stroke-linejoin="round">
<path d="M48.4,8.5 L52.1,8.5 L55.8,8.5 L56.3,8.5 L59.3,19.3 L59.5,20.1 L63.0,30.2 L63.2,30.8 L66.9,39.4 L70.6,47.0 L73.5,51.9 L74.3,53.2 L78.0,58.1 L81.7,62.3 L85.4,66.3 L89.1,70.6 L91.3,73.6 L92.8,75.8 L96.5,81.6 L100.2,87.9 L103.9,94.4 L104.4,95.3 L107.6,101.2 L111.3,108.4 L115.0,115.0 L116.3,117.0 L118.7,120.1 L122.4,124.4 L126.1,128.4 L129.8,132.1 L133.5,135.7 L136.3,138.6 L137.2,139.6 L140.9,143.7 L144.6,147.7 L148.3,151.7 L152.0,155.7 L155.7,159.5 L156.5,160.3 L159.4,163.2 L163.1,167.0 L166.8,170.7 L170.5,174.2 L174.2,177.6 L177.9,180.7 L179.7,182.0 L181.6,183.4 L185.3,185.9 L189.0,188.2 L192.7,190.4 L196.4,192.4 L197.2,192.9 L200.1,194.5 L203.8,196.4 L207.5,198.3 L211.2,200.2 L214.9,201.8 L218.6,203.4 L219.4,203.7 L222.3,204.8 L226.0,206.1 L229.7,207.3 L233.4,208.5 L237.1,209.6 L240.8,210.7 L244.5,211.7 L248.2,212.7 L251.9,213.7 L254.9,214.6 L255.6,214.7 L259.3,215.7 L263.0,216.7 L266.7,217.6 L270.4,218.5 L274.1,219.4 L277.8,220.2 L281.5,221.0 L281.6,221.1 L285.2,221.8 L288.9,222.6 L292.6,223.3 L296.3,224.1 L300.0,224.7 L303.7,225.4"/>
<path d="M48.4,8.5 L52.1,8.5 L55.6,8.5 L55.8,8.6 L58.3,19.3 L59.5,23.9 L61.4,30.2 L63.2,35.9 L66.9,46.4 L69.2,51.9 L70.6,54.7 L74.3,61.0 L78.0,66.6 L81.7,72.7 L82.2,73.6 L85.4,80.0 L89.1,88.1 L92.6,95.3 L92.8,95.8 L96.5,103.3 L100.2,110.6 L103.9,116.6 L104.1,117.0 L107.6,121.4 L111.3,125.5 L115.0,129.2 L118.7,132.6 L122.4,136.0 L125.2,138.6 L126.1,139.5 L129.8,143.1 L133.5,146.5 L137.2,149.9 L140.9,153.3 L144.6,156.7 L148.3,160.1 L148.6,160.3 L152.0,163.6 L155.7,167.2 L159.4,170.8 L163.1,174.3 L166.8,177.7 L170.5,180.9 L171.9,182.0 L174.2,183.8 L177.9,186.5 L181.6,189.1 L185.3,191.5 L187.3,192.9 L189.0,194.0 L192.7,196.4 L196.4,198.7 L200.1,201.0 L203.8,203.0 L205.3,203.7 L207.5,204.7 L211.2,206.4 L214.9,207.9 L218.6,209.3 L222.3,210.7 L226.0,212.0 L229.7,213.2 L233.4,214.5 L233.7,214.6 L237.1,215.7 L240.8,216.9 L244.5,218.1 L248.2,219.1 L251.9,220.2 L255.3,221.1 L255.6,221.1 L259.3,222.2 L263.0,223.2 L266.7,224.2 L270.4,225.0 L274.1,225.4 L275.3,225.4 L277.8,225.4 L281.5,225.4 L285.2,225.4 L288.9,225.4 L292.6,225.4 L296.3,225.4 L300.0,225.4 L303.7,225.4"/>
<path d="M48.4,8.5 L52.1,8.5 L55.3,8.5 L55.8,9.5 L57.6,19.3 L59.5,27.5 L60.2,30.2 L63.2,42.2 L66.0,51.9 L66.9,54.3 L70.6,62.7 L74.3,70.9 L75.3,73.6 L78.0,82.0 L81.7,94.9 L81.8,95.3 L85.4,108.7 L88.0,117.0 L89.1,119.5 L92.8,126.8 L96.5,132.8 L100.2,138.2 L100.5,138.6 L103.9,143.2 L107.6,147.8 L111.3,152.1 L115.0,156.2 L118.7,160.3 L118.7,160.4 L122.4,164.7 L126.1,169.1 L129.8,173.4 L133.5,177.4 L137.2,181.1 L138.3,182.0 L140.9,184.3 L144.6,187.1 L148.3,189.8 L152.0,192.4 L152.8,192.9 L155.7,194.9 L159.4,197.5 L163.1,200.0 L166.8,202.2 L169.6,203.7 L170.5,204.2 L174.2,206.0 L177.9,207.6 L181.6,209.2 L185.3,210.6 L189.0,212.0 L192.7,213.3 L196.3,214.6 L196.4,214.6 L200.1,215.9 L203.8,217.1 L207.5,218.2 L211.2,219.3 L214.9,220.3 L217.8,221.1 L218.6,221.3 L222.3,222.2 L226.0,223.2 L229.7,224.1 L233.4,224.8 L237.1,225.3 L239.7,225.4 L240.8,225.4 L244.5,225.4 L248.2,225.4 L251.9,225.4 L255.6,225.4 L259.3,225.4 L263.0,225.4 L266.7,225.4 L270.4,225.4 L274.1,225.4 L277.8,225.4 L281.5,225.4 L285.2,225.4 L288.9,225.4 L292.6,225.4 L296.3,225.4 L300.0,225.4 L303.7,225.4"/>
<path d="M48.4,8.5 L52.1,8.5 L55.8,8.5 L57.4,8.5 L59.5,15.4 L60.5,19.3 L63.2,27.5 L64.2,30.2 L66.9,36.6 L70.6,44.7 L74.3,51.5 L74.5,51.9 L78.0,57.1 L81.7,61.7 L85.4,66.1 L89.1,70.9 L90.9,73.6 L92.8,76.7 L96.5,83.6 L100.2,90.9 L102.5,95.3 L103.9,97.9 L107.6,105.1 L111.3,111.9 L114.6,117.0 L115.0,117.5 L118.7,121.9 L122.4,125.7 L126.1,129.1 L129.8,132.4 L133.5,135.7 L136.7,138.6 L137.2,139.2 L140.9,142.8 L144.6,146.3 L148.3,149.9 L152.0,153.4 L155.7,156.9 L159.3,160.3 L159.4,160.5 L163.1,164.1 L166.8,167.8 L170.5,171.5 L174.2,175.1 L177.9,178.6 L181.6,181.8 L181.9,182.0 L185.3,184.7 L189.0,187.4 L192.7,189.9 L196.4,192.4 L197.2,192.9 L200.1,194.8 L203.8,197.2 L207.5,199.5 L211.2,201.6 L214.9,203.5 L215.3,203.7 L218.6,205.2 L222.3,206.8 L226.0,208.3 L229.7,209.6 L233.4,211.0 L237.1,212.2 L240.8,213.5 L244.1,214.6 L244.5,214.7 L248.2,215.9 L251.9,217.1 L255.6,218.2 L259.3,219.3 L263.0,220.3 L265.9,221.1 L266.7,221.3 L270.4,222.3 L274.1,223.4 L277.8,224.4 L281.5,225.1 L285.2,225.4 L285.4,225.4 L288.9,225.4 L292.6,225.4 L296.3,225.4 L300.0,225.4 L303.7,225.4"/>
<path d="M48.4,8.5 L52.1,8.5 L55.8,8.5 L59.5,8.5 L59.7,8.5 L63.0,19.3 L63.2,19.9 L66.9,29.7 L67.1,30.2 L70.6,37.6 L74.3,44.6 L78.0,50.8 L78.7,51.9 L81.7,56.0 L85.4,60.3 L89.1,64.4 L92.8,68.7 L96.3,73.6 L96.5,73.9 L100.2,80.8 L103.9,88.7 L107.0,95.3 L107.6,96.5 L111.3,104.5 L115.0,112.2 L117.8,117.0 L118.7,118.2 L122.4,122.9 L126.1,126.9 L129.8,130.4 L133.5,133.9 L137.2,137.6 L138.3,138.6 L140.9,141.5 L144.6,145.4 L148.3,149.3 L152.0,153.3 L155.7,157.3 L158.5,160.3 L159.4,161.3 L163.1,165.6 L166.8,169.9 L170.5,174.3 L174.2,178.4 L177.8,182.0 L177.9,182.2 L181.6,185.6 L185.3,188.7 L189.0,191.8 L190.4,192.9 L192.7,194.8 L196.4,197.8 L200.1,200.7 L203.8,203.2 L204.6,203.7 L207.5,205.4 L211.2,207.3 L214.9,209.1 L218.6,210.8 L222.3,212.4 L226.0,214.0 L227.5,214.6 L229.7,215.5 L233.4,217.0 L237.1,218.4 L240.8,219.8 L244.5,221.0 L244.9,221.1 L248.2,222.1 L251.9,223.4 L255.6,224.4 L259.3,225.2 L262.4,225.4 L263.0,225.4 L266.7,225.4 L270.4,225.4 L274.1,225.4 L277.8,225.4 L281.5,225.4 L285.2,225.4 L288.9,225.4 L292.6,225.4 L296.3,225.4 L300.0,225.4 L303.7,225.4"/>
<path d="M48.4,8.5 L52.1,8.5 L55.8,8.5 L58.7,8.5 L59.5,10.2 L61.4,19.3 L63.2,25.7 L64.6,30.2 L66.9,37.3 L70.6,47.9 L72.1,51.9 L74.3,56.6 L78.0,63.4 L81.2,73.6 L81.7,76.0 L83.4,95.3 L84.0,117.0 L85.4,126.8 L89.1,137.4 L89.7,138.6 L92.8,145.6 L96.5,152.0 L100.2,157.8 L101.7,160.3 L103.9,164.4 L107.6,171.5 L111.3,178.2 L113.8,182.0 L115.0,183.6 L118.7,187.9 L122.4,191.9 L123.3,192.9 L126.1,196.2 L129.8,200.6 L133.0,203.7 L133.5,204.2 L137.2,207.1 L140.9,209.6 L144.6,211.9 L148.3,214.0 L149.4,214.6 L152.0,215.9 L155.7,217.7 L159.4,219.3 L163.1,220.6 L164.5,221.1 L166.8,221.7 L170.5,222.8 L174.2,223.9 L177.9,224.7 L181.6,225.2 L184.9,225.4 L185.3,225.4 L189.0,225.4 L192.7,225.4 L196.4,225.4 L200.1,225.4 L203.8,225.4 L207.5,225.4 L211.2,225.4 L214.9,225.4 L218.6,225.4 L222.3,225.4 L226.0,225.4 L229.7,225.4 L233.4,225.4 L237.1,225.4 L240.8,225.4 L244.5,225.4 L248.2,225.4 L251.9,225.4 L255.6,225.4 L259.3,225.4 L263.0,225.4 L266.7,225.4 L270.4,225.4 L274.1,225.4 L277.8,225.4 L281.5,225.4 L285.2,225.4 L288.9,225.4 L292.6,225.4 L296.3,225.4 L300.0,225.4 L303.7,225.4"/>
<path d="M48.4,8.5 L52.1,8.5 L55.8,8.5 L55.8,8.5 L57.8,19.3 L59.5,27.7 L60.0,30.2 L63.2,48.4 L63.9,51.9 L66.9,64.4 L69.0,73.6 L70.6,83.1 L72.6,95.3 L74.3,104.5 L77.2,117.0 L78.0,119.4 L81.7,128.3 L85.4,135.1 L87.5,138.6 L89.1,141.3 L92.8,146.6 L96.5,151.4 L100.2,156.4 L102.8,160.3 L103.9,162.3 L107.6,169.4 L111.3,176.8 L114.2,182.0 L115.0,183.2 L118.7,188.4 L121.9,192.9 L122.4,193.6 L126.1,199.6 L129.0,203.7 L129.8,204.6 L133.5,208.1 L137.2,211.1 L140.9,213.7 L142.3,214.6 L144.6,215.9 L148.3,217.9 L152.0,219.7 L155.7,221.0 L155.8,221.1 L159.4,222.2 L163.1,223.3 L166.8,224.2 L170.5,225.0 L174.2,225.4 L175.9,225.4 L177.9,225.4 L181.6,225.4 L185.3,225.4 L189.0,225.4 L192.7,225.4 L196.4,225.4 L200.1,225.4 L203.8,225.4 L207.5,225.4 L211.2,225.4 L214.9,225.4 L218.6,225.4 L222.3,225.4 L226.0,225.4 L229.7,225.4 L233.4,225.4 L237.1,225.4 L240.8,225.4 L244.5,225.4 L248.2,225.4 L251.9,225.4 L255.6,225.4 L259.3,225.4 L263.0,225.4 L266.7,225.4 L270.4,225.4 L274.1,225.4 L277.8,225.4 L281.5,225.4 L285.2,225.4 L288.9,225.4 L292.6,225.4 L296.3,225.4 L300.0,225.4 L303.7,225.4"/>
<path d="M48.4,8.5 L52.1,8.5 L55.8,8.5 L59.4,8.5 L59.5,8.5 L62.7,19.3 L63.2,20.8 L66.8,30.2 L66.9,30.3 L70.6,37.9 L74.3,44.7 L78.0,50.6 L78.9,51.9 L81.7,55.5 L85.4,59.6 L89.1,63.4 L92.8,67.2 L96.5,71.5 L98.0,73.6 L100.2,76.9 L103.9,83.5 L107.6,90.6 L110.0,95.3 L111.3,97.9 L115.0,105.9 L118.7,113.6 L120.7,117.0 L122.4,119.5 L126.1,124.2 L129.8,128.3 L133.5,132.1 L137.2,135.9 L139.7,138.6 L140.9,140.0 L144.6,144.3 L148.3,148.7 L152.0,153.0 L155.7,157.1 L158.7,160.3 L159.4,161.1 L163.1,165.1 L166.8,169.1 L170.5,172.9 L174.2,176.6 L177.9,179.9 L180.5,182.0 L181.6,182.9 L185.3,185.5 L189.0,188.0 L192.7,190.2 L196.4,192.4 L197.3,192.9 L200.1,194.5 L203.8,196.6 L207.5,198.6 L211.2,200.5 L214.9,202.2 L218.5,203.7 L218.6,203.8 L222.3,205.2 L226.0,206.5 L229.7,207.8 L233.4,209.0 L237.1,210.1 L240.8,211.2 L244.5,212.3 L248.2,213.4 L251.9,214.4 L252.5,214.6 L255.6,215.4 L259.3,216.4 L263.0,217.4 L266.7,218.3 L270.4,219.3 L274.1,220.1 L277.8,221.0 L278.1,221.1 L281.5,221.9 L285.2,222.9 L288.9,223.9 L292.6,224.7 L296.3,225.2 L299.6,225.4 L300.0,225.4 L303.7,225.4"/>
<path d="M48.4,8.5 L52.1,8.5 L53.6,8.5 L55.2,19.3 L55.8,22.9 L56.9,30.2 L59.0,51.9 L59.5,55.8 L62.4,73.6 L63.2,77.9 L66.6,95.3 L66.9,96.4 L70.6,112.8 L71.8,117.0 L74.3,124.0 L78.0,132.5 L81.1,138.6 L81.7,139.7 L85.4,145.7 L89.1,150.9 L92.8,156.4 L95.1,160.3 L96.5,163.2 L100.2,172.1 L103.9,180.6 L104.7,182.0 L107.6,186.5 L111.3,191.3 L112.4,192.9 L115.0,196.6 L118.7,201.8 L120.4,203.7 L122.4,205.7 L126.1,208.8 L129.8,211.5 L133.5,213.9 L134.6,214.6 L137.2,216.0 L140.9,217.9 L144.6,219.6 L148.3,220.9 L148.9,221.1 L152.0,222.0 L155.7,223.1 L159.4,224.0 L163.1,224.8 L166.8,225.3 L169.8,225.4 L170.5,225.4 L174.2,225.4 L177.9,225.4 L181.6,225.4 L185.3,225.4 L189.0,225.4 L192.7,225.4 L196.4,225.4 L200.1,225.4 L203.8,225.4 L207.5,225.4 L211.2,225.4 L214.9,225.4 L218.6,225.4 L222.3,225.4 L226.0,225.4 L229.7,225.4 L233.4,225.4 L237.1,225.4 L240.8,225.4 L244.5,225.4 L248.2,225.4 L251.9,225.4 L255.6,225.4 L259.3,225.4 L263.0,225.4 L266.7,225.4 L270.4,225.4 L274.1,225.4 L277.8,225.4 L281.5,225.4 L285.2,225.4 L288.9,225.4 L292.6,225.4 L296.3,225.4 L300.0,225.4 L303.7,225.4"/>
<path d="M48.4,8.5 L52.1,8.5 L55.8,8.5 L59.5,8.5 L59.5,8.5 L62.8,19.3 L63.2,20.6 L66.8,30.2 L66.9,30.4 L70.6,38.3 L74.3,45.2 L78.0,51.3 L78.4,51.9 L81.7,56.3 L85.4,60.5 L89.1,64.3 L92.8,68.4 L96.5,73.2 L96.8,73.6 L100.2,79.1 L103.9,86.0 L107.6,93.2 L108.7,95.3 L111.3,100.6 L115.0,108.5 L118.7,115.6 L119.6,117.0 L122.4,120.9 L126.1,125.4 L129.8,129.4 L133.5,133.3 L137.2,137.5 L138.2,138.6 L140.9,142.0 L144.6,146.7 L148.3,151.6 L152.0,156.4 L155.0,160.3 L155.7,161.2 L159.4,166.2 L163.1,171.4 L166.8,176.3 L170.5,180.7 L171.8,182.0 L174.2,184.4 L177.9,187.6 L181.6,190.6 L184.6,192.9 L185.3,193.4 L189.0,196.2 L192.7,198.9 L196.4,201.4 L200.1,203.5 L200.4,203.7 L203.8,205.4 L207.5,207.1 L211.2,208.7 L214.9,210.1 L218.6,211.5 L222.3,212.8 L226.0,214.1 L227.3,214.6 L229.7,215.4 L233.4,216.6 L237.1,217.8 L240.8,219.0 L244.5,220.0 L248.2,221.0 L248.5,221.1 L251.9,222.0 L255.6,223.1 L259.3,224.1 L263.0,224.9 L266.7,225.3 L268.6,225.4 L270.4,225.4 L274.1,225.4 L277.8,225.4 L281.5,225.4 L285.2,225.4 L288.9,225.4 L292.6,225.4 L296.3,225.4 L300.0,225.4 L303.7,225.4"/>
<path d="M48.4,8.5 L52.1,8.5 L55.8,8.5 L57.9,8.5 L59.5,13.5 L60.8,19.3 L63.2,26.8 L64.4,30.2 L66.9,36.4 L70.6,44.8 L74.3,51.9 L74.3,51.9 L78.0,57.6 L81.7,62.3 L85.4,66.9 L89.1,72.4 L89.8,73.6 L92.8,79.5 L96.5,88.0 L99.5,95.3 L100.2,96.9 L103.9,107.1 L107.6,116.2 L108.0,117.0 L111.3,122.5 L115.0,127.7 L118.7,132.4 L122.4,136.9 L123.8,138.6 L126.1,141.6 L129.8,146.3 L133.5,150.8 L137.2,155.3 L140.9,159.6 L141.5,160.3 L144.6,164.0 L148.3,168.4 L152.0,172.7 L155.7,176.7 L159.4,180.4 L161.2,182.0 L163.1,183.7 L166.8,186.5 L170.5,189.2 L174.2,191.7 L176.0,192.9 L177.9,194.1 L181.6,196.6 L185.3,198.9 L189.0,201.1 L192.7,203.1 L193.9,203.7 L196.4,204.9 L200.1,206.5 L203.8,208.0 L207.5,209.4 L211.2,210.7 L214.9,212.0 L218.6,213.2 L222.3,214.4 L222.7,214.6 L226.0,215.6 L229.7,216.8 L233.4,217.9 L237.1,219.0 L240.8,220.0 L244.5,221.0 L244.9,221.1 L248.2,221.9 L251.9,222.9 L255.6,223.9 L259.3,224.7 L263.0,225.3 L265.8,225.4 L266.7,225.4 L270.4,225.4 L274.1,225.4 L277.8,225.4 L281.5,225.4 L285.2,225.4 L288.9,225.4 L292.6,225.4 L296.3,225.4 L300.0,225.4 L303.7,225.4"/>
<path d="M48.4,8.5 L52.1,8.5 L55.8,8.5 L56.6,8.5 L59.2,19.3 L59.5,20.5 L62.3,30.2 L63.2,33.0 L66.9,43.9 L70.2,51.9 L70.6,52.8 L74.3,59.5 L78.0,65.2 L81.7,71.2 L83.0,73.6 L85.4,78.5 L89.1,86.9 L92.8,95.3 L92.8,95.4 L96.5,104.1 L100.2,112.5 L102.5,117.0 L103.9,119.2 L107.6,124.6 L111.3,129.2 L115.0,133.7 L118.7,138.2 L119.1,138.6 L122.4,142.9 L126.1,147.5 L129.8,152.1 L133.5,156.8 L136.3,160.3 L137.2,161.5 L140.9,166.7 L144.6,172.0 L148.3,177.1 L152.0,181.6 L152.4,182.0 L155.7,185.3 L159.4,188.6 L163.1,191.7 L164.5,192.9 L166.8,194.7 L170.5,197.7 L174.2,200.5 L177.9,203.0 L179.2,203.7 L181.6,205.0 L185.3,206.9 L189.0,208.6 L192.7,210.2 L196.4,211.6 L200.1,213.0 L203.8,214.4 L204.3,214.6 L207.5,215.7 L211.2,217.0 L214.9,218.2 L218.6,219.3 L222.3,220.3 L225.3,221.1 L226.0,221.3 L229.7,222.2 L233.4,223.2 L237.1,224.2 L240.8,224.9 L244.5,225.3 L246.8,225.4 L248.2,225.4 L251.9,225.4 L255.6,225.4 L259.3,225.4 L263.0,225.4 L266.7,225.4 L270.4,225.4 L274.1,225.4 L277.8,225.4 L281.5,225.4 L285.2,225.4 L288.9,225.4 L292.6,225.4 L296.3,225.4 L300.0,225.4 L303.7,225.4"/>
<path d="M48.4,8.5 L52.1,8.5 L55.8,8.5 L56.4,8.5 L58.9,19.3 L59.5,21.8 L61.7,30.2 L63.2,35.4 L66.9,47.8 L68.3,51.9 L70.6,57.3 L74.3,64.7 L78.0,72.7 L78.4,73.6 L81.7,83.2 L85.4,94.7 L85.6,95.3 L89.1,105.7 L92.8,115.4 L93.5,117.0 L96.5,122.3 L100.2,127.8 L103.9,132.7 L107.6,137.5 L108.5,138.6 L111.3,142.3 L115.0,146.9 L118.7,151.3 L122.4,155.8 L125.9,160.3 L126.1,160.7 L129.8,166.1 L133.5,171.8 L137.2,177.4 L140.6,182.0 L140.9,182.4 L144.6,186.6 L148.3,190.4 L150.8,192.9 L152.0,194.1 L155.7,198.1 L159.4,201.7 L161.9,203.7 L163.1,204.6 L166.8,207.1 L170.5,209.2 L174.2,211.2 L177.9,213.0 L181.2,214.6 L181.6,214.7 L185.3,216.4 L189.0,217.9 L192.7,219.3 L196.4,220.5 L198.2,221.1 L200.1,221.6 L203.8,222.7 L207.5,223.7 L211.2,224.6 L214.9,225.2 L218.4,225.4 L218.6,225.4 L222.3,225.4 L226.0,225.4 L229.7,225.4 L233.4,225.4 L237.1,225.4 L240.8,225.4 L244.5,225.4 L248.2,225.4 L251.9,225.4 L255.6,225.4 L259.3,225.4 L263.0,225.4 L266.7,225.4 L270.4,225.4 L274.1,225.4 L277.8,225.4 L281.5,225.4 L285.2,225.4 L288.9,225.4 L292.6,225.4 L296.3,225.4 L300.0,225.4 L303.7,225.4"/>
<path d="M48.4,8.5 L52.1,8.5 L55.8,8.5 L58.9,8.5 L59.5,9.2 L62.1,19.3 L63.2,22.8 L65.9,30.2 L66.9,32.4 L70.6,40.5 L74.3,47.5 L76.9,51.9 L78.0,53.5 L81.7,58.4 L85.4,62.6 L89.1,66.8 L92.8,71.7 L94.0,73.6 L96.5,78.1 L100.2,85.9 L103.9,94.4 L104.3,95.3 L107.6,103.9 L111.3,113.5 L112.9,117.0 L115.0,120.5 L118.7,125.9 L122.4,130.6 L126.1,135.1 L128.9,138.6 L129.8,139.9 L133.5,144.8 L137.2,149.7 L140.9,154.5 L144.6,159.2 L145.5,160.3 L148.3,163.9 L152.0,168.7 L155.7,173.3 L159.4,177.7 L163.1,181.6 L163.6,182.0 L166.8,184.9 L170.5,187.8 L174.2,190.6 L177.5,192.9 L177.9,193.2 L181.6,195.8 L185.3,198.4 L189.0,200.7 L192.7,202.9 L194.3,203.7 L196.4,204.7 L200.1,206.4 L203.8,208.0 L207.5,209.5 L211.2,210.9 L214.9,212.2 L218.6,213.5 L221.7,214.6 L222.3,214.8 L226.0,216.0 L229.7,217.2 L233.4,218.4 L237.1,219.5 L240.8,220.5 L243.0,221.1 L244.5,221.5 L248.2,222.5 L251.9,223.6 L255.6,224.5 L259.3,225.1 L263.0,225.4 L263.3,225.4 L266.7,225.4 L270.4,225.4 L274.1,225.4 L277.8,225.4 L281.5,225.4 L285.2,225.4 L288.9,225.4 L292.6,225.4 L296.3,225.4 L300.0,225.4 L303.7,225.4"/>
<path d="M48.4,8.5 L52.1,8.5 L54.3,8.5 L55.8,16.0 L56.3,19.3 L58.6,30.2 L59.5,34.4 L63.2,51.6 L63.3,51.9 L66.9,62.9 L70.6,73.5 L70.6,73.6 L74.3,87.3 L76.4,95.3 L78.0,101.5 L81.7,115.0 L82.4,117.0 L85.4,123.5 L89.1,130.0 L92.8,135.5 L95.1,138.6 L96.5,140.6 L100.2,145.1 L103.9,149.2 L107.6,153.1 L111.3,156.8 L114.7,160.3 L115.0,160.7 L118.7,164.7 L122.4,168.7 L126.1,172.7 L129.8,176.5 L133.5,180.0 L135.8,182.0 L137.2,183.2 L140.9,186.0 L144.6,188.6 L148.3,191.1 L151.0,192.9 L152.0,193.5 L155.7,196.0 L159.4,198.5 L163.1,200.8 L166.8,202.9 L168.4,203.7 L170.5,204.7 L174.2,206.4 L177.9,208.0 L181.6,209.5 L185.3,210.9 L189.0,212.3 L192.7,213.5 L195.7,214.6 L196.4,214.8 L200.1,216.0 L203.8,217.2 L207.5,218.4 L211.2,219.4 L214.9,220.4 L217.5,221.1 L218.6,221.3 L222.3,222.3 L226.0,223.3 L229.7,224.2 L233.4,224.9 L237.1,225.3 L239.6,225.4 L240.8,225.4 L244.5,225.4 L248.2,225.4 L251.9,225.4 L255.6,225.4 L259.3,225.4 L263.0,225.4 L266.7,225.4 L270.4,225.4 L274.1,225.4 L277.8,225.4 L281.5,225.4 L285.2,225.4 L288.9,225.4 L292.6,225.4 L296.3,225.4 L300.0,225.4 L303.7,225.4"/>
<path d="M48.4,8.5 L52.1,8.5 L54.0,8.5 L55.8,19.3 L55.8,19.3 L57.7,30.2 L59.5,44.2 L60.5,51.9 L63.2,66.5 L64.4,73.6 L66.9,91.5 L67.5,95.3 L70.6,114.8 L71.1,117.0 L74.3,126.6 L78.0,134.5 L80.4,138.6 L81.7,140.8 L85.4,146.0 L89.1,150.5 L92.8,154.7 L96.5,159.1 L97.4,160.3 L100.2,164.2 L103.9,169.5 L107.6,174.9 L111.3,179.9 L113.0,182.0 L115.0,184.2 L118.7,188.0 L122.4,191.6 L123.7,192.9 L126.1,195.5 L129.8,199.6 L133.5,203.2 L134.1,203.7 L137.2,206.1 L140.9,208.6 L144.6,211.0 L148.3,213.1 L151.2,214.6 L152.0,215.0 L155.7,216.8 L159.4,218.4 L163.1,219.9 L166.7,221.1 L166.8,221.1 L170.5,222.2 L174.2,223.2 L177.9,224.2 L181.6,224.9 L185.3,225.3 L187.3,225.4 L189.0,225.4 L192.7,225.4 L196.4,225.4 L200.1,225.4 L203.8,225.4 L207.5,225.4 L211.2,225.4 L214.9,225.4 L218.6,225.4 L222.3,225.4 L226.0,225.4 L229.7,225.4 L233.4,225.4 L237.1,225.4 L240.8,225.4 L244.5,225.4 L248.2,225.4 L251.9,225.4 L255.6,225.4 L259.3,225.4 L263.0,225.4 L266.7,225.4 L270.4,225.4 L274.1,225.4 L277.8,225.4 L281.5,225.4 L285.2,225.4 L288.9,225.4 L292.6,225.4 L296.3,225.4 L300.0,225.4 L303.7,225.4"/>
<path d="M48.4,8.5 L52.1,8.5 L52.8,8.5 L54.7,19.3 L55.8,25.6 L56.6,30.2 L59.5,49.3 L60.0,51.9 L63.2,63.9 L66.4,73.6 L66.9,75.2 L70.6,86.1 L74.1,95.3 L74.3,95.8 L78.0,104.3 L81.7,111.8 L84.8,117.0 L85.4,117.7 L89.1,122.5 L92.8,126.6 L96.5,130.3 L100.2,133.7 L103.9,136.9 L105.9,138.6 L107.6,140.1 L111.3,143.1 L115.0,146.0 L118.7,148.8 L122.4,151.5 L126.1,154.1 L129.8,156.7 L133.5,159.3 L135.0,160.3 L137.2,161.9 L140.9,164.6 L144.6,167.3 L148.3,170.0 L152.0,172.6 L155.7,175.2 L159.4,177.6 L163.1,180.0 L166.4,182.0 L166.8,182.3 L170.5,184.4 L174.2,186.4 L177.9,188.3 L181.6,190.2 L185.3,192.1 L187.0,192.9 L189.0,193.9 L192.7,195.7 L196.4,197.5 L200.1,199.2 L203.8,200.9 L207.5,202.5 L210.8,203.7 L211.2,203.9 L214.9,205.2 L218.6,206.5 L222.3,207.7 L226.0,208.8 L229.7,210.0 L233.4,211.0 L237.1,212.1 L240.8,213.1 L244.5,214.2 L246.0,214.6 L248.2,215.2 L251.9,216.2 L255.6,217.1 L259.3,218.1 L263.0,219.0 L266.7,219.9 L270.4,220.8 L271.8,221.1 L274.1,221.6 L277.8,222.6 L281.5,223.6 L285.2,224.4 L288.9,225.1 L292.6,225.4 L293.5,225.4 L296.3,225.4 L300.0,225.4 L303.7,225.4"/>
<path d="M48.4,8.5 L52.1,8.5 L55.8,8.5 L57.1,8.5 L59.4,19.3 L59.5,19.8 L61.9,30.2 L63.2,35.7 L66.9,51.4 L67.0,51.9 L70.6,63.3 L73.2,73.6 L74.3,80.8 L76.1,95.3 L78.0,108.1 L79.7,117.0 L81.7,123.2 L85.4,131.7 L89.1,138.4 L89.2,138.6 L92.8,144.4 L96.5,149.6 L100.2,154.6 L103.9,160.2 L104.0,160.3 L107.6,167.1 L111.3,174.6 L115.0,181.5 L115.3,182.0 L118.7,187.0 L122.4,192.2 L122.9,192.9 L126.1,198.3 L129.7,203.7 L129.8,203.8 L133.5,207.7 L137.2,210.9 L140.9,213.6 L142.4,214.6 L144.6,216.0 L148.3,218.1 L152.0,219.9 L155.2,221.1 L155.7,221.2 L159.4,222.4 L163.1,223.5 L166.8,224.4 L170.5,225.1 L174.2,225.4 L174.8,225.4 L177.9,225.4 L181.6,225.4 L185.3,225.4 L189.0,225.4 L192.7,225.4 L196.4,225.4 L200.1,225.4 L203.8,225.4 L207.5,225.4 L211.2,225.4 L214.9,225.4 L218.6,225.4 L222.3,225.4 L226.0,225.4 L229.7,225.4 L233.4,225.4 L237.1,225.4 L240.8,225.4 L244.5,225.4 L248.2,225.4 L251.9,225.4 L255.6,225.4 L259.3,225.4 L263.0,225.4 L266.7,225.4 L270.4,225.4 L274.1,225.4 L277.8,225.4 L281.5,225.4 L285.2,225.4 L288.9,225.4 L292.6,225.4 L296.3,225.4 L300.0,225.4 L303.7,225.4"/>
<path d="M48.4,8.5 L52.1,8.5 L55.8,8.5 L56.0,8.5 L58.6,19.3 L59.5,22.9 L61.6,30.2 L63.2,35.1 L66.9,45.7 L69.5,51.9 L70.6,54.1 L74.3,60.4 L78.0,65.9 L81.7,71.8 L82.6,73.6 L85.4,79.2 L89.1,87.7 L92.4,95.3 L92.8,96.3 L96.5,105.6 L100.2,114.5 L101.5,117.0 L103.9,121.0 L107.6,126.3 L111.3,131.0 L115.0,135.5 L117.6,138.6 L118.7,140.0 L122.4,144.5 L126.1,148.8 L129.8,153.0 L133.5,157.1 L136.5,160.3 L137.2,161.2 L140.9,165.3 L144.6,169.4 L148.3,173.5 L152.0,177.3 L155.7,180.7 L157.2,182.0 L159.4,183.8 L163.1,186.5 L166.8,189.0 L170.5,191.3 L173.0,192.9 L174.2,193.7 L177.9,195.9 L181.6,198.2 L185.3,200.3 L189.0,202.2 L192.2,203.7 L192.7,203.9 L196.4,205.5 L200.1,207.0 L203.8,208.3 L207.5,209.6 L211.2,210.9 L214.9,212.1 L218.6,213.2 L222.3,214.3 L223.1,214.6 L226.0,215.5 L229.7,216.5 L233.4,217.6 L237.1,218.6 L240.8,219.5 L244.5,220.5 L247.2,221.1 L248.2,221.3 L251.9,222.2 L255.6,223.2 L259.3,224.1 L263.0,224.8 L266.7,225.3 L269.3,225.4 L270.4,225.4 L274.1,225.4 L277.8,225.4 L281.5,225.4 L285.2,225.4 L288.9,225.4 L292.6,225.4 L296.3,225.4 L300.0,225.4 L303.7,225.4"/>
<path d="M48.4,8.5 L52.1,8.5 L55.8,8.5 L59.5,8.5 L59.9,8.5 L63.2,19.2 L63.2,19.3 L66.9,29.1 L67.4,30.2 L70.6,36.9 L74.3,43.9 L78.0,50.0 L79.2,51.9 L81.7,55.3 L85.4,59.6 L89.1,63.5 L92.8,67.7 L96.5,72.8 L97.0,73.6 L100.2,79.7 L103.9,88.2 L106.9,95.3 L107.6,96.9 L111.3,106.5 L115.0,115.3 L115.9,117.0 L118.7,121.3 L122.4,126.1 L126.1,130.3 L129.8,134.3 L133.5,138.5 L133.6,138.6 L137.2,143.0 L140.9,147.4 L144.6,151.9 L148.3,156.3 L151.6,160.3 L152.0,160.9 L155.7,165.6 L159.4,170.6 L163.1,175.4 L166.8,179.9 L168.7,182.0 L170.5,183.9 L174.2,187.5 L177.9,190.9 L180.1,192.9 L181.6,194.3 L185.3,197.7 L189.0,201.1 L192.5,203.7 L192.7,203.9 L196.4,206.3 L200.1,208.4 L203.8,210.4 L207.5,212.3 L211.2,214.0 L212.3,214.6 L214.9,215.8 L218.6,217.5 L222.3,219.1 L226.0,220.5 L227.6,221.1 L229.7,221.8 L233.4,223.1 L237.1,224.2 L240.8,225.1 L244.4,225.4 L244.5,225.4 L248.2,225.4 L251.9,225.4 L255.6,225.4 L259.3,225.4 L263.0,225.4 L266.7,225.4 L270.4,225.4 L274.1,225.4 L277.8,225.4 L281.5,225.4 L285.2,225.4 L288.9,225.4 L292.6,225.4 L296.3,225.4 L300.0,225.4 L303.7,225.4"/>
<path d="M48.4,8.5 L52.1,8.5 L54.6,8.5 L55.8,14.5 L56.5,19.3 L58.4,30.2 L59.5,37.5 L61.6,51.9 L63.2,60.0 L65.9,73.6 L66.9,80.7 L68.7,95.3 L70.6,110.4 L71.7,117.0 L74.3,126.3 L78.0,135.2 L79.8,138.6 L81.7,142.0 L85.4,147.5 L89.1,152.1 L92.8,156.5 L95.7,160.3 L96.5,161.5 L100.2,167.0 L103.9,172.6 L107.6,177.9 L110.8,182.0 L111.3,182.6 L115.0,186.5 L118.7,190.1 L121.6,192.9 L122.4,193.7 L126.1,197.7 L129.8,201.5 L132.4,203.7 L133.5,204.6 L137.2,207.2 L140.9,209.6 L144.6,211.8 L148.3,213.7 L150.0,214.6 L152.0,215.5 L155.7,217.3 L159.4,218.8 L163.1,220.2 L165.9,221.1 L166.8,221.3 L170.5,222.4 L174.2,223.4 L177.9,224.3 L181.6,225.0 L185.3,225.4 L186.8,225.4 L189.0,225.4 L192.7,225.4 L196.4,225.4 L200.1,225.4 L203.8,225.4 L207.5,225.4 L211.2,225.4 L214.9,225.4 L218.6,225.4 L222.3,225.4 L226.0,225.4 L229.7,225.4 L233.4,225.4 L237.1,225.4 L240.8,225.4 L244.5,225.4 L248.2,225.4 L251.9,225.4 L255.6,225.4 L259.3,225.4 L263.0,225.4 L266.7,225.4 L270.4,225.4 L274.1,225.4 L277.8,225.4 L281.5,225.4 L285.2,225.4 L288.9,225.4 L292.6,225.4 L296.3,225.4 L300.0,225.4 L303.7,225.4"/>
<path d="M48.4,8.5 L52.1,8.5 L54.9,8.5 L55.8,10.2 L57.8,19.3 L59.5,24.7 L61.4,30.2 L63.2,34.6 L66.9,43.0 L70.6,50.1 L71.7,51.9 L74.3,55.7 L78.0,60.3 L81.7,64.4 L85.4,68.4 L89.1,73.0 L89.5,73.6 L92.8,78.4 L96.5,84.3 L100.2,90.3 L103.2,95.3 L103.9,96.3 L107.6,102.6 L111.3,109.0 L115.0,114.7 L116.7,117.0 L118.7,119.3 L122.4,123.2 L126.1,126.7 L129.8,129.9 L133.5,133.0 L137.2,136.2 L139.9,138.6 L140.9,139.6 L144.6,143.0 L148.3,146.4 L152.0,149.7 L155.7,153.1 L159.4,156.5 L163.1,160.0 L163.5,160.3 L166.8,163.5 L170.5,167.2 L174.2,170.9 L177.9,174.5 L181.6,177.9 L185.3,181.1 L186.5,182.0 L189.0,183.9 L192.7,186.4 L196.4,188.8 L200.1,191.0 L203.3,192.9 L203.8,193.2 L207.5,195.3 L211.2,197.4 L214.9,199.4 L218.6,201.2 L222.3,202.9 L224.2,203.7 L226.0,204.4 L229.7,205.8 L233.4,207.2 L237.1,208.4 L240.8,209.6 L244.5,210.7 L248.2,211.8 L251.9,212.9 L255.6,214.0 L257.7,214.6 L259.3,215.0 L263.0,216.1 L266.7,217.1 L270.4,218.0 L274.1,219.0 L277.8,219.9 L281.5,220.8 L282.8,221.1 L285.2,221.6 L288.9,222.4 L292.6,223.2 L296.3,224.0 L300.0,224.7 L303.7,225.4"/>
<path d="M48.4,8.5 L52.1,8.5 L55.8,8.5 L58.6,8.5 L59.5,10.4 L61.5,19.3 L63.2,25.0 L64.9,30.2 L66.9,35.5 L70.6,44.6 L73.9,51.9 L74.3,52.6 L78.0,58.9 L81.7,64.3 L85.4,71.2 L86.4,73.6 L89.1,82.4 L92.2,95.3 L92.8,98.3 L96.5,116.8 L96.6,117.0 L100.2,126.1 L103.9,132.9 L107.4,138.6 L107.6,139.0 L111.3,144.9 L115.0,150.3 L118.7,155.5 L122.1,160.3 L122.4,160.8 L126.1,166.7 L129.8,172.6 L133.5,178.3 L136.3,182.0 L137.2,183.1 L140.9,187.1 L144.6,190.8 L146.7,192.9 L148.3,194.5 L152.0,198.5 L155.7,202.1 L157.7,203.7 L159.4,205.0 L163.1,207.5 L166.8,209.8 L170.5,211.8 L174.2,213.8 L175.8,214.6 L177.9,215.6 L181.6,217.3 L185.3,218.9 L189.0,220.3 L191.3,221.1 L192.7,221.5 L196.4,222.6 L200.1,223.7 L203.8,224.6 L207.5,225.2 L210.5,225.4 L211.2,225.4 L214.9,225.4 L218.6,225.4 L222.3,225.4 L226.0,225.4 L229.7,225.4 L233.4,225.4 L237.1,225.4 L240.8,225.4 L244.5,225.4 L248.2,225.4 L251.9,225.4 L255.6,225.4 L259.3,225.4 L263.0,225.4 L266.7,225.4 L270.4,225.4 L274.1,225.4 L277.8,225.4 L281.5,225.4 L285.2,225.4 L288.9,225.4 L292.6,225.4 L296.3,225.4 L300.0,225.4 L303.7,225.4"/>
<path d="M48.4,8.5 L52.1,8.5 L52.6,8.5 L54.3,19.3 L55.8,29.2 L55.9,30.2 L58.0,51.9 L59.5,62.0 L61.6,73.6 L63.2,81.6 L66.2,95.3 L66.9,98.3 L70.6,114.3 L71.4,117.0 L74.3,125.4 L78.0,134.1 L80.3,138.6 L81.7,141.3 L85.4,147.2 L89.1,152.5 L92.8,157.9 L94.3,160.3 L96.5,164.4 L100.2,171.8 L103.9,178.9 L105.9,182.0 L107.6,184.3 L111.3,188.5 L115.0,192.4 L115.5,192.9 L118.7,196.4 L122.4,200.2 L126.1,203.4 L126.5,203.7 L129.8,205.9 L133.5,208.1 L137.2,210.1 L140.9,211.9 L144.6,213.5 L147.2,214.6 L148.3,215.0 L152.0,216.4 L155.7,217.7 L159.4,218.9 L163.1,220.0 L166.8,221.0 L167.2,221.1 L170.5,221.9 L174.2,222.8 L177.9,223.6 L181.6,224.4 L185.3,224.9 L189.0,225.3 L191.8,225.4 L192.7,225.4 L196.4,225.4 L200.1,225.4 L203.8,225.4 L207.5,225.4 L211.2,225.4 L214.9,225.4 L218.6,225.4 L222.3,225.4 L226.0,225.4 L229.7,225.4 L233.4,225.4 L237.1,225.4 L240.8,225.4 L244.5,225.4 L248.2,225.4 L251.9,225.4 L255.6,225.4 L259.3,225.4 L263.0,225.4 L266.7,225.4 L270.4,225.4 L274.1,225.4 L277.8,225.4 L281.5,225.4 L285.2,225.4 L288.9,225.4 L292.6,225.4 L296.3,225.4 L300.0,225.4 L303.7,225.4"/>
<path d="M48.4,8.5 L52.1,8.5 L55.2,8.5 L55.8,10.2 L57.3,19.3 L59.5,29.5 L59.6,30.2 L63.2,46.5 L64.6,51.9 L66.9,58.8 L70.6,68.1 L72.6,73.6 L74.3,78.7 L78.0,90.9 L79.3,95.3 L81.7,103.0 L85.4,114.6 L86.3,117.0 L89.1,122.8 L92.8,129.5 L96.5,135.4 L98.6,138.6 L100.2,141.1 L103.9,146.4 L107.6,151.4 L111.3,156.4 L114.0,160.3 L115.0,161.9 L118.7,168.0 L122.4,174.3 L126.1,180.1 L127.6,182.0 L129.8,184.6 L133.5,188.5 L137.2,192.0 L138.1,192.9 L140.9,195.6 L144.6,199.2 L148.3,202.3 L150.2,203.7 L152.0,204.9 L155.7,207.1 L159.4,209.0 L163.1,210.8 L166.8,212.5 L170.5,214.0 L171.8,214.6 L174.2,215.5 L177.9,216.9 L181.6,218.2 L185.3,219.5 L189.0,220.5 L191.1,221.1 L192.7,221.5 L196.4,222.5 L200.1,223.4 L203.8,224.3 L207.5,224.9 L211.2,225.3 L213.5,225.4 L214.9,225.4 L218.6,225.4 L222.3,225.4 L226.0,225.4 L229.7,225.4 L233.4,225.4 L237.1,225.4 L240.8,225.4 L244.5,225.4 L248.2,225.4 L251.9,225.4 L255.6,225.4 L259.3,225.4 L263.0,225.4 L266.7,225.4 L270.4,225.4 L274.1,225.4 L277.8,225.4 L281.5,225.4 L285.2,225.4 L288.9,225.4 L292.6,225.4 L296.3,225.4 L300.0,225.4 L303.7,225.4"/>
<path d="M48.4,8.5 L52.1,8.5 L55.8,8.5 L56.8,8.5 L59.5,18.6 L59.7,19.3 L63.2,30.0 L63.3,30.2 L66.9,39.2 L70.6,47.3 L73.0,51.9 L74.3,54.0 L78.0,59.3 L81.7,63.9 L85.4,68.7 L88.7,73.6 L89.1,74.3 L92.8,81.4 L96.5,89.2 L99.4,95.3 L100.2,96.9 L103.9,105.0 L107.6,112.8 L110.1,117.0 L111.3,118.7 L115.0,123.4 L118.7,127.5 L122.4,131.1 L126.1,134.7 L129.8,138.3 L130.2,138.6 L133.5,142.0 L137.2,145.6 L140.9,149.1 L144.6,152.6 L148.3,156.1 L152.0,159.4 L153.0,160.3 L155.7,162.8 L159.4,166.2 L163.1,169.6 L166.8,173.0 L170.5,176.2 L174.2,179.2 L177.9,182.0 L178.0,182.0 L181.6,184.6 L185.3,187.0 L189.0,189.2 L192.7,191.4 L195.2,192.9 L196.4,193.5 L200.1,195.7 L203.8,197.8 L207.5,199.8 L211.2,201.6 L214.9,203.3 L215.8,203.7 L218.6,204.9 L222.3,206.3 L226.0,207.7 L229.7,209.0 L233.4,210.2 L237.1,211.4 L240.8,212.5 L244.5,213.7 L247.4,214.6 L248.2,214.8 L251.9,215.9 L255.6,217.0 L259.3,218.1 L263.0,219.1 L266.7,220.0 L270.4,221.0 L270.8,221.1 L274.1,221.9 L277.8,223.0 L281.5,224.0 L285.2,224.8 L288.9,225.3 L290.9,225.4 L292.6,225.4 L296.3,225.4 L300.0,225.4 L303.7,225.4"/>
<path d="M48.4,8.5 L52.1,8.5 L55.8,8.5 L57.3,8.5 L59.5,16.2 L60.3,19.3 L63.2,28.4 L63.9,30.2 L66.9,37.9 L70.6,46.3 L73.5,51.9 L74.3,53.2 L78.0,58.8 L81.7,63.5 L85.4,68.3 L88.9,73.6 L89.1,73.8 L92.8,80.7 L96.5,88.2 L100.1,95.3 L100.2,95.5 L103.9,102.8 L107.6,110.0 L111.3,116.2 L111.9,117.0 L115.0,120.9 L118.7,125.0 L122.4,128.7 L126.1,132.1 L129.8,135.5 L133.0,138.6 L133.5,139.2 L137.2,142.9 L140.9,146.6 L144.6,150.3 L148.3,154.0 L152.0,157.8 L154.5,160.3 L155.7,161.6 L159.4,165.5 L163.1,169.6 L166.8,173.6 L170.5,177.5 L174.2,181.0 L175.3,182.0 L177.9,184.3 L181.6,187.2 L185.3,190.0 L189.0,192.6 L189.4,192.9 L192.7,195.3 L196.4,197.9 L200.1,200.3 L203.8,202.6 L205.9,203.7 L207.5,204.5 L211.2,206.2 L214.9,207.9 L218.6,209.4 L222.3,210.8 L226.0,212.1 L229.7,213.5 L232.9,214.6 L233.4,214.7 L237.1,216.0 L240.8,217.3 L244.5,218.4 L248.2,219.5 L251.9,220.6 L253.8,221.1 L255.6,221.6 L259.3,222.7 L263.0,223.7 L266.7,224.6 L270.4,225.2 L273.4,225.4 L274.1,225.4 L277.8,225.4 L281.5,225.4 L285.2,225.4 L288.9,225.4 L292.6,225.4 L296.3,225.4 L300.0,225.4 L303.7,225.4"/>
<path d="M48.4,8.5 L52.1,8.5 L55.8,8.5 L58.1,8.5 L59.5,12.2 L61.1,19.3 L63.2,25.9 L64.8,30.2 L66.9,35.5 L70.6,43.9 L74.3,51.2 L74.7,51.9 L78.0,57.1 L81.7,61.9 L85.4,66.8 L89.1,72.5 L89.7,73.6 L92.8,80.3 L96.5,89.7 L98.6,95.3 L100.2,99.4 L103.9,109.9 L107.0,117.0 L107.6,118.1 L111.3,123.8 L115.0,128.6 L118.7,132.9 L122.4,137.1 L123.7,138.6 L126.1,141.5 L129.8,145.7 L133.5,149.8 L137.2,153.8 L140.9,157.8 L143.2,160.3 L144.6,161.8 L148.3,165.9 L152.0,170.1 L155.7,174.1 L159.4,177.9 L163.1,181.4 L163.9,182.0 L166.8,184.5 L170.5,187.3 L174.2,190.0 L177.9,192.6 L178.3,192.9 L181.6,195.2 L185.3,197.8 L189.0,200.3 L192.7,202.6 L194.8,203.7 L196.4,204.5 L200.1,206.3 L203.8,208.0 L207.5,209.5 L211.2,211.0 L214.9,212.4 L218.6,213.8 L220.8,214.6 L222.3,215.1 L226.0,216.4 L229.7,217.7 L233.4,218.9 L237.1,220.1 L240.7,221.1 L240.8,221.1 L244.5,222.2 L248.2,223.3 L251.9,224.3 L255.6,225.0 L259.3,225.4 L260.0,225.4 L263.0,225.4 L266.7,225.4 L270.4,225.4 L274.1,225.4 L277.8,225.4 L281.5,225.4 L285.2,225.4 L288.9,225.4 L292.6,225.4 L296.3,225.4 L300.0,225.4 L303.7,225.4"/>
<path d="M48.4,8.5 L52.1,8.5 L55.5,8.5 L55.8,9.2 L57.4,19.3 L59.4,30.2 L59.5,30.9 L62.8,51.9 L63.2,53.9 L66.9,69.9 L67.7,73.6 L70.6,89.4 L71.7,95.3 L74.3,108.4 L76.4,117.0 L78.0,121.8 L81.7,130.8 L85.4,138.3 L85.6,138.6 L89.1,144.8 L92.8,150.3 L96.5,156.0 L98.9,160.3 L100.2,162.9 L103.9,171.9 L107.6,180.5 L108.4,182.0 L111.3,186.8 L115.0,192.1 L115.5,192.9 L118.7,198.3 L122.4,203.7 L122.4,203.7 L126.1,207.3 L129.8,210.3 L133.5,212.9 L136.3,214.6 L137.2,215.1 L140.9,217.0 L144.6,218.8 L148.3,220.2 L150.9,221.1 L152.0,221.4 L155.7,222.5 L159.4,223.5 L163.1,224.3 L166.8,225.0 L170.5,225.4 L172.2,225.4 L174.2,225.4 L177.9,225.4 L181.6,225.4 L185.3,225.4 L189.0,225.4 L192.7,225.4 L196.4,225.4 L200.1,225.4 L203.8,225.4 L207.5,225.4 L211.2,225.4 L214.9,225.4 L218.6,225.4 L222.3,225.4 L226.0,225.4 L229.7,225.4 L233.4,225.4 L237.1,225.4 L240.8,225.4 L244.5,225.4 L248.2,225.4 L251.9,225.4 L255.6,225.4 L259.3,225.4 L263.0,225.4 L266.7,225.4 L270.4,225.4 L274.1,225.4 L277.8,225.4 L281.5,225.4 L285.2,225.4 L288.9,225.4 L292.6,225.4 L296.3,225.4 L300.0,225.4 L303.7,225.4"/>
<path d="M48.4,8.5 L52.1,8.5 L53.5,8.5 L55.3,19.3 L55.8,22.0 L57.2,30.2 L59.5,46.1 L60.4,51.9 L63.2,63.8 L65.7,73.6 L66.9,79.1 L70.3,95.3 L70.6,96.8 L74.3,115.4 L74.7,117.0 L78.0,126.5 L81.7,134.7 L83.8,138.6 L85.4,141.3 L89.1,146.8 L92.8,151.6 L96.5,156.0 L99.9,160.3 L100.2,160.7 L103.9,165.8 L107.6,170.9 L111.3,175.8 L115.0,180.2 L116.7,182.0 L118.7,183.9 L122.4,187.2 L126.1,190.1 L129.7,192.9 L129.8,192.9 L133.5,195.8 L137.2,198.7 L140.9,201.4 L144.6,203.7 L144.7,203.7 L148.3,205.7 L152.0,207.5 L155.7,209.2 L159.4,210.8 L163.1,212.3 L166.8,213.7 L169.2,214.6 L170.5,215.0 L174.2,216.3 L177.9,217.6 L181.6,218.7 L185.3,219.8 L189.0,220.8 L190.3,221.1 L192.7,221.7 L196.4,222.6 L200.1,223.5 L203.8,224.3 L207.5,224.9 L211.2,225.3 L213.7,225.4 L214.9,225.4 L218.6,225.4 L222.3,225.4 L226.0,225.4 L229.7,225.4 L233.4,225.4 L237.1,225.4 L240.8,225.4 L244.5,225.4 L248.2,225.4 L251.9,225.4 L255.6,225.4 L259.3,225.4 L263.0,225.4 L266.7,225.4 L270.4,225.4 L274.1,225.4 L277.8,225.4 L281.5,225.4 L285.2,225.4 L288.9,225.4 L292.6,225.4 L296.3,225.4 L300.0,225.4 L303.7,225.4"/>
<path d="M48.4,8.5 L52.1,8.5 L54.2,8.5 L55.8,16.4 L56.3,19.3 L58.8,30.2 L59.5,33.3 L63.2,48.6 L64.2,51.9 L66.9,59.1 L70.6,67.1 L73.4,73.6 L74.3,75.9 L78.0,86.2 L81.3,95.3 L81.7,96.3 L85.4,106.3 L89.1,115.2 L90.1,117.0 L92.8,121.4 L96.5,126.7 L100.2,131.2 L103.9,135.3 L107.0,138.6 L107.6,139.3 L111.3,143.2 L115.0,146.8 L118.7,150.2 L122.4,153.5 L126.1,156.8 L129.8,160.1 L130.1,160.3 L133.5,163.4 L137.2,166.8 L140.9,170.1 L144.6,173.4 L148.3,176.5 L152.0,179.4 L155.5,182.0 L155.7,182.2 L159.4,184.7 L163.1,187.0 L166.8,189.2 L170.5,191.3 L173.2,192.9 L174.2,193.4 L177.9,195.5 L181.6,197.6 L185.3,199.6 L189.0,201.4 L192.7,203.2 L194.0,203.7 L196.4,204.7 L200.1,206.2 L203.8,207.5 L207.5,208.8 L211.2,210.1 L214.9,211.2 L218.6,212.4 L222.3,213.5 L225.7,214.6 L226.0,214.6 L229.7,215.7 L233.4,216.8 L237.1,217.8 L240.8,218.8 L244.5,219.8 L248.2,220.7 L249.9,221.1 L251.9,221.6 L255.6,222.5 L259.3,223.5 L263.0,224.4 L266.7,225.0 L270.4,225.4 L271.7,225.4 L274.1,225.4 L277.8,225.4 L281.5,225.4 L285.2,225.4 L288.9,225.4 L292.6,225.4 L296.3,225.4 L300.0,225.4 L303.7,225.4"/>
<path d="M48.4,8.5 L52.1,8.5 L55.8,8.5 L59.0,8.5 L59.5,9.0 L62.2,19.3 L63.2,22.3 L66.2,30.2 L66.9,31.9 L70.6,39.8 L74.3,46.8 L77.4,51.9 L78.0,52.8 L81.7,57.6 L85.4,61.8 L89.1,65.8 L92.8,70.1 L95.3,73.6 L96.5,75.4 L100.2,81.8 L103.9,88.9 L107.2,95.3 L107.6,96.0 L111.3,103.6 L115.0,111.3 L118.3,117.0 L118.7,117.6 L122.4,122.6 L126.1,126.8 L129.8,130.8 L133.5,134.7 L137.0,138.6 L137.2,138.9 L140.9,143.4 L144.6,148.1 L148.3,152.8 L152.0,157.5 L154.3,160.3 L155.7,162.1 L159.4,167.0 L163.1,171.9 L166.8,176.6 L170.5,180.8 L171.7,182.0 L174.2,184.4 L177.9,187.5 L181.6,190.4 L185.0,192.9 L185.3,193.1 L189.0,195.8 L192.7,198.3 L196.4,200.8 L200.1,202.9 L201.7,203.7 L203.8,204.8 L207.5,206.4 L211.2,208.0 L214.9,209.4 L218.6,210.8 L222.3,212.1 L226.0,213.3 L229.7,214.6 L229.7,214.6 L233.4,215.8 L237.1,216.9 L240.8,218.1 L244.5,219.1 L248.2,220.1 L251.9,221.1 L251.9,221.1 L255.6,222.1 L259.3,223.1 L263.0,224.1 L266.7,224.9 L270.4,225.3 L272.6,225.4 L274.1,225.4 L277.8,225.4 L281.5,225.4 L285.2,225.4 L288.9,225.4 L292.6,225.4 L296.3,225.4 L300.0,225.4 L303.7,225.4"/>
<path d="M48.4,8.5 L52.1,8.5 L55.8,8.5 L59.2,8.5 L59.5,8.7 L62.3,19.3 L63.2,22.2 L66.1,30.2 L66.9,32.2 L70.6,40.7 L74.3,48.2 L76.4,51.9 L78.0,54.5 L81.7,59.6 L85.4,64.2 L89.1,69.1 L91.9,73.6 L92.8,75.3 L96.5,83.5 L100.2,92.6 L101.3,95.3 L103.9,101.7 L107.6,111.2 L110.4,117.0 L111.3,118.6 L115.0,124.1 L118.7,128.8 L122.4,133.2 L126.1,137.8 L126.7,138.6 L129.8,142.8 L133.5,147.9 L137.2,153.0 L140.9,158.5 L142.1,160.3 L144.6,164.7 L148.3,171.6 L152.0,178.4 L154.3,182.0 L155.7,184.1 L159.4,188.8 L162.8,192.9 L163.1,193.2 L166.8,197.9 L170.5,202.2 L172.2,203.7 L174.2,205.4 L177.9,208.0 L181.6,210.4 L185.3,212.4 L189.0,214.4 L189.4,214.6 L192.7,216.2 L196.4,218.0 L200.1,219.5 L203.8,220.9 L204.5,221.1 L207.5,222.0 L211.2,223.2 L214.9,224.3 L218.6,225.0 L222.3,225.4 L223.0,225.4 L226.0,225.4 L229.7,225.4 L233.4,225.4 L237.1,225.4 L240.8,225.4 L244.5,225.4 L248.2,225.4 L251.9,225.4 L255.6,225.4 L259.3,225.4 L263.0,225.4 L266.7,225.4 L270.4,225.4 L274.1,225.4 L277.8,225.4 L281.5,225.4 L285.2,225.4 L288.9,225.4 L292.6,225.4 L296.3,225.4 L300.0,225.4 L303.7,225.4"/>
<path d="M48.4,8.5 L52.1,8.5 L55.8,8.5 L57.6,8.5 L59.5,16.2 L60.1,19.3 L63.1,30.2 L63.2,30.4 L66.9,42.1 L70.5,51.9 L70.6,52.2 L74.3,59.7 L78.0,66.3 L81.2,73.6 L81.7,74.9 L85.4,88.1 L87.1,95.3 L89.1,105.1 L91.6,117.0 L92.8,120.7 L96.5,130.1 L100.2,137.8 L100.6,138.6 L103.9,145.0 L107.6,151.5 L111.3,158.0 L112.6,160.3 L115.0,165.1 L118.7,172.8 L122.4,179.8 L123.9,182.0 L126.1,184.9 L129.8,189.1 L133.5,192.9 L133.5,192.9 L137.2,196.9 L140.9,200.7 L144.4,203.7 L144.6,203.8 L148.3,206.4 L152.0,208.6 L155.7,210.6 L159.4,212.4 L163.1,214.1 L164.1,214.6 L166.8,215.7 L170.5,217.3 L174.2,218.7 L177.9,219.9 L181.6,221.0 L181.9,221.1 L185.3,222.0 L189.0,223.0 L192.7,224.0 L196.4,224.7 L200.1,225.2 L203.5,225.4 L203.8,225.4 L207.5,225.4 L211.2,225.4 L214.9,225.4 L218.6,225.4 L222.3,225.4 L226.0,225.4 L229.7,225.4 L233.4,225.4 L237.1,225.4 L240.8,225.4 L244.5,225.4 L248.2,225.4 L251.9,225.4 L255.6,225.4 L259.3,225.4 L263.0,225.4 L266.7,225.4 L270.4,225.4 L274.1,225.4 L277.8,225.4 L281.5,225.4 L285.2,225.4 L288.9,225.4 L292.6,225.4 L296.3,225.4 L300.0,225.4 L303.7,225.4"/>
<path d="M48.4,8.5 L52.1,8.5 L54.8,8.5 L55.8,13.3 L56.6,19.3 L58.7,30.2 L59.5,35.2 L62.3,51.9 L63.2,56.0 L66.9,69.7 L67.9,73.6 L70.6,86.9 L72.2,95.3 L74.3,107.6 L76.1,117.0 L78.0,123.5 L81.7,133.7 L83.9,138.6 L85.4,141.6 L89.1,148.0 L92.8,153.6 L96.5,159.4 L97.1,160.3 L100.2,166.1 L103.9,173.3 L107.6,179.8 L109.1,182.0 L111.3,184.8 L115.0,188.8 L118.7,192.6 L119.0,192.9 L122.4,196.5 L126.1,200.4 L129.8,203.6 L129.9,203.7 L133.5,206.2 L137.2,208.5 L140.9,210.6 L144.6,212.5 L148.3,214.2 L149.2,214.6 L152.0,215.8 L155.7,217.3 L159.4,218.7 L163.1,219.9 L166.8,221.0 L167.2,221.1 L170.5,221.9 L174.2,222.9 L177.9,223.8 L181.6,224.6 L185.3,225.1 L189.0,225.4 L189.8,225.4 L192.7,225.4 L196.4,225.4 L200.1,225.4 L203.8,225.4 L207.5,225.4 L211.2,225.4 L214.9,225.4 L218.6,225.4 L222.3,225.4 L226.0,225.4 L229.7,225.4 L233.4,225.4 L237.1,225.4 L240.8,225.4 L244.5,225.4 L248.2,225.4 L251.9,225.4 L255.6,225.4 L259.3,225.4 L263.0,225.4 L266.7,225.4 L270.4,225.4 L274.1,225.4 L277.8,225.4 L281.5,225.4 L285.2,225.4 L288.9,225.4 L292.6,225.4 L296.3,225.4 L300.0,225.4 L303.7,225.4"/>
<path d="M48.4,8.5 L52.1,8.5 L53.8,8.5 L55.7,19.3 L55.8,19.7 L57.8,30.2 L59.5,40.3 L61.6,51.9 L63.2,58.7 L66.9,71.8 L67.4,73.6 L70.6,86.8 L72.8,95.3 L74.3,100.5 L78.0,112.4 L79.8,117.0 L81.7,120.7 L85.4,126.9 L89.1,132.1 L92.8,136.7 L94.4,138.6 L96.5,141.1 L100.2,145.2 L103.9,148.9 L107.6,152.4 L111.3,156.0 L115.0,159.6 L115.7,160.3 L118.7,163.5 L122.4,167.5 L126.1,171.6 L129.8,175.5 L133.5,179.3 L136.5,182.0 L137.2,182.7 L140.9,185.7 L144.6,188.6 L148.3,191.3 L150.4,192.9 L152.0,194.1 L155.7,196.9 L159.4,199.7 L163.1,202.2 L165.6,203.7 L166.8,204.4 L170.5,206.3 L174.2,208.1 L177.9,209.8 L181.6,211.3 L185.3,212.8 L189.0,214.3 L189.8,214.6 L192.7,215.7 L196.4,217.0 L200.1,218.3 L203.8,219.4 L207.5,220.5 L209.6,221.1 L211.2,221.5 L214.9,222.5 L218.6,223.5 L222.3,224.4 L226.0,225.0 L229.7,225.4 L231.0,225.4 L233.4,225.4 L237.1,225.4 L240.8,225.4 L244.5,225.4 L248.2,225.4 L251.9,225.4 L255.6,225.4 L259.3,225.4 L263.0,225.4 L266.7,225.4 L270.4,225.4 L274.1,225.4 L277.8,225.4 L281.5,225.4 L285.2,225.4 L288.9,225.4 L292.6,225.4 L296.3,225.4 L300.0,225.4 L303.7,225.4"/>
<path d="M48.4,8.5 L52.1,8.5 L55.8,8.5 L56.1,8.5 L58.5,19.3 L59.5,23.7 L61.2,30.2 L63.2,37.9 L66.9,50.8 L67.3,51.9 L70.6,60.3 L74.3,68.7 L76.1,73.6 L78.0,80.3 L81.7,94.9 L81.8,95.3 L85.4,108.8 L88.1,117.0 L89.1,119.1 L92.8,126.0 L96.5,131.6 L100.2,136.5 L101.8,138.6 L103.9,141.4 L107.6,145.9 L111.3,150.0 L115.0,154.1 L118.7,158.3 L120.5,160.3 L122.4,162.7 L126.1,167.5 L129.8,172.3 L133.5,176.9 L137.2,181.2 L138.0,182.0 L140.9,185.0 L144.6,188.4 L148.3,191.6 L149.7,192.9 L152.0,195.0 L155.7,198.5 L159.4,201.7 L162.1,203.7 L163.1,204.4 L166.8,206.7 L170.5,208.8 L174.2,210.8 L177.9,212.6 L181.6,214.3 L182.3,214.6 L185.3,215.9 L189.0,217.5 L192.7,218.9 L196.4,220.2 L199.2,221.1 L200.1,221.3 L203.8,222.4 L207.5,223.5 L211.2,224.4 L214.9,225.1 L218.6,225.4 L219.0,225.4 L222.3,225.4 L226.0,225.4 L229.7,225.4 L233.4,225.4 L237.1,225.4 L240.8,225.4 L244.5,225.4 L248.2,225.4 L251.9,225.4 L255.6,225.4 L259.3,225.4 L263.0,225.4 L266.7,225.4 L270.4,225.4 L274.1,225.4 L277.8,225.4 L281.5,225.4 L285.2,225.4 L288.9,225.4 L292.6,225.4 L296.3,225.4 L300.0,225.4 L303.7,225.4"/>
<path d="M48.4,8.5 L52.1,8.5 L55.8,8.5 L59.5,8.5 L60.1,8.5 L63.2,18.7 L63.4,19.3 L66.9,28.7 L67.5,30.2 L70.6,36.7 L74.3,43.7 L78.0,49.9 L79.3,51.9 L81.7,55.1 L85.4,59.5 L89.1,63.5 L92.8,67.6 L96.5,72.4 L97.3,73.6 L100.2,78.6 L103.9,86.0 L107.6,93.8 L108.4,95.3 L111.3,101.5 L115.0,109.4 L118.7,116.2 L119.2,117.0 L122.4,121.3 L126.1,125.6 L129.8,129.4 L133.5,133.1 L137.2,137.0 L138.6,138.6 L140.9,141.4 L144.6,145.8 L148.3,150.4 L152.0,155.3 L155.6,160.3 L155.7,160.5 L159.4,166.6 L163.1,173.2 L166.8,179.6 L168.4,182.0 L170.5,185.1 L174.2,190.1 L176.3,192.9 L177.9,195.3 L181.6,200.7 L184.1,203.7 L185.3,204.9 L189.0,208.1 L192.7,210.8 L196.4,213.2 L198.5,214.6 L200.1,215.5 L203.8,217.7 L207.5,219.7 L210.8,221.1 L211.2,221.2 L214.9,222.6 L218.6,223.9 L222.3,224.9 L226.0,225.4 L226.7,225.4 L229.7,225.4 L233.4,225.4 L237.1,225.4 L240.8,225.4 L244.5,225.4 L248.2,225.4 L251.9,225.4 L255.6,225.4 L259.3,225.4 L263.0,225.4 L266.7,225.4 L270.4,225.4 L274.1,225.4 L277.8,225.4 L281.5,225.4 L285.2,225.4 L288.9,225.4 L292.6,225.4 L296.3,225.4 L300.0,225.4 L303.7,225.4"/>
<path d="M48.4,8.5 L52.1,8.5 L55.8,8.5 L57.7,8.5 L59.5,13.7 L60.8,19.3 L63.2,26.4 L64.6,30.2 L66.9,35.7 L70.6,43.7 L74.3,50.7 L75.0,51.9 L78.0,56.4 L81.7,61.1 L85.4,65.4 L89.1,70.2 L91.3,73.6 L92.8,76.1 L96.5,83.3 L100.2,91.0 L102.3,95.3 L103.9,98.4 L107.6,106.0 L111.3,113.2 L113.7,117.0 L115.0,118.6 L118.7,123.1 L122.4,126.9 L126.1,130.4 L129.8,133.7 L133.5,137.1 L135.1,138.6 L137.2,140.8 L140.9,144.4 L144.6,147.9 L148.3,151.5 L152.0,155.0 L155.7,158.5 L157.6,160.3 L159.4,162.1 L163.1,165.7 L166.8,169.4 L170.5,173.0 L174.2,176.5 L177.9,179.8 L180.5,182.0 L181.6,182.9 L185.3,185.7 L189.0,188.3 L192.7,190.7 L196.0,192.9 L196.4,193.2 L200.1,195.6 L203.8,197.9 L207.5,200.2 L211.2,202.3 L214.1,203.7 L214.9,204.1 L218.6,205.8 L222.3,207.3 L226.0,208.7 L229.7,210.1 L233.4,211.4 L237.1,212.7 L240.8,213.9 L242.7,214.6 L244.5,215.2 L248.2,216.4 L251.9,217.6 L255.6,218.7 L259.3,219.8 L263.0,220.8 L264.1,221.1 L266.7,221.8 L270.4,222.9 L274.1,224.0 L277.8,224.8 L281.5,225.3 L283.3,225.4 L285.2,225.4 L288.9,225.4 L292.6,225.4 L296.3,225.4 L300.0,225.4 L303.7,225.4"/>
<path d="M48.4,8.5 L52.1,8.5 L53.1,8.5 L54.8,19.3 L55.8,25.2 L56.6,30.2 L59.0,51.9 L59.5,55.0 L63.2,73.2 L63.3,73.6 L66.9,89.2 L68.4,95.3 L70.6,103.9 L74.3,116.7 L74.4,117.0 L78.0,125.7 L81.7,133.0 L84.9,138.6 L85.4,139.4 L89.1,145.0 L92.8,150.0 L96.5,154.8 L100.2,160.1 L100.4,160.3 L103.9,166.2 L107.6,172.8 L111.3,179.0 L113.5,182.0 L115.0,183.9 L118.7,188.0 L122.4,191.7 L123.5,192.9 L126.1,195.5 L129.8,199.3 L133.5,202.7 L134.9,203.7 L137.2,205.3 L140.9,207.5 L144.6,209.6 L148.3,211.4 L152.0,213.1 L155.5,214.6 L155.7,214.7 L159.4,216.1 L163.1,217.5 L166.8,218.8 L170.5,219.9 L174.2,220.9 L174.8,221.1 L177.9,221.9 L181.6,222.8 L185.3,223.7 L189.0,224.5 L192.7,225.0 L196.4,225.4 L198.2,225.4 L200.1,225.4 L203.8,225.4 L207.5,225.4 L211.2,225.4 L214.9,225.4 L218.6,225.4 L222.3,225.4 L226.0,225.4 L229.7,225.4 L233.4,225.4 L237.1,225.4 L240.8,225.4 L244.5,225.4 L248.2,225.4 L251.9,225.4 L255.6,225.4 L259.3,225.4 L263.0,225.4 L266.7,225.4 L270.4,225.4 L274.1,225.4 L277.8,225.4 L281.5,225.4 L285.2,225.4 L288.9,225.4 L292.6,225.4 L296.3,225.4 L300.0,225.4 L303.7,225.4"/>
<path d="M48.4,8.5 L52.1,8.5 L54.5,8.5 L55.8,13.0 L57.0,19.3 L59.5,28.3 L60.1,30.2 L63.2,39.2 L66.9,48.5 L68.6,51.9 L70.6,55.4 L74.3,60.7 L78.0,65.3 L81.7,69.8 L84.6,73.6 L85.4,74.8 L89.1,80.2 L92.8,85.7 L96.5,91.2 L99.3,95.3 L100.2,96.7 L103.9,102.3 L107.6,108.0 L111.3,113.3 L114.2,117.0 L115.0,117.9 L118.7,121.8 L122.4,125.4 L126.1,128.7 L129.8,131.9 L133.5,135.2 L137.2,138.6 L137.2,138.7 L140.9,142.3 L144.6,146.0 L148.3,149.8 L152.0,153.6 L155.7,157.3 L158.7,160.3 L159.4,161.1 L163.1,165.0 L166.8,168.9 L170.5,172.9 L174.2,176.6 L177.9,180.1 L180.1,182.0 L181.6,183.2 L185.3,186.0 L189.0,188.6 L192.7,191.0 L195.7,192.9 L196.4,193.3 L200.1,195.5 L203.8,197.7 L207.5,199.8 L211.2,201.7 L214.9,203.5 L215.5,203.7 L218.6,205.0 L222.3,206.4 L226.0,207.8 L229.7,209.0 L233.4,210.2 L237.1,211.4 L240.8,212.5 L244.5,213.5 L248.0,214.6 L248.2,214.6 L251.9,215.7 L255.6,216.7 L259.3,217.7 L263.0,218.6 L266.7,219.5 L270.4,220.4 L273.2,221.1 L274.1,221.3 L277.8,222.2 L281.5,223.2 L285.2,224.1 L288.9,224.9 L292.6,225.3 L295.0,225.4 L296.3,225.4 L300.0,225.4 L303.7,225.4"/>
<path d="M48.4,8.5 L52.1,8.5 L53.0,8.5 L54.9,19.3 L55.8,24.0 L57.0,30.2 L59.5,42.7 L61.7,51.9 L63.2,56.0 L66.9,64.1 L70.6,70.7 L72.2,73.6 L74.3,77.5 L78.0,83.9 L81.7,90.0 L85.0,95.3 L85.4,95.8 L89.1,101.6 L92.8,107.2 L96.5,112.4 L100.2,116.9 L100.2,117.0 L103.9,120.9 L107.6,124.5 L111.3,127.9 L115.0,131.1 L118.7,134.2 L122.4,137.4 L123.8,138.6 L126.1,140.7 L129.8,144.0 L133.5,147.2 L137.2,150.4 L140.9,153.6 L144.6,156.8 L148.3,160.0 L148.7,160.3 L152.0,163.3 L155.7,166.6 L159.4,170.0 L163.1,173.3 L166.8,176.5 L170.5,179.5 L173.9,182.0 L174.2,182.3 L177.9,184.8 L181.6,187.1 L185.3,189.3 L189.0,191.4 L191.6,192.9 L192.7,193.5 L196.4,195.5 L200.1,197.4 L203.8,199.3 L207.5,201.1 L211.2,202.7 L213.7,203.7 L214.9,204.2 L218.6,205.5 L222.3,206.8 L226.0,208.0 L229.7,209.2 L233.4,210.3 L237.1,211.3 L240.8,212.4 L244.5,213.4 L248.2,214.4 L248.9,214.6 L251.9,215.4 L255.6,216.3 L259.3,217.3 L263.0,218.2 L266.7,219.0 L270.4,219.9 L274.1,220.7 L275.8,221.1 L277.8,221.5 L281.5,222.4 L285.2,223.4 L288.9,224.2 L292.6,224.9 L296.3,225.3 L298.5,225.4 L300.0,225.4 L303.7,225.4"/>
<path d="M48.4,8.5 L52.1,8.5 L55.8,8.5 L56.9,8.5 L59.3,19.3 L59.5,20.3 L62.0,30.2 L63.2,34.6 L66.9,47.6 L68.3,51.9 L70.6,57.6 L74.3,65.4 L77.5,73.6 L78.0,75.1 L81.7,89.9 L82.9,95.3 L85.4,108.8 L87.1,117.0 L89.1,123.2 L92.8,132.4 L95.8,138.6 L96.5,140.1 L100.2,146.9 L103.9,153.1 L107.6,159.4 L108.1,160.3 L111.3,166.5 L115.0,173.9 L118.7,180.6 L119.7,182.0 L122.4,185.5 L126.1,189.5 L129.4,192.9 L129.8,193.3 L133.5,197.3 L137.2,201.0 L140.4,203.7 L140.9,204.1 L144.6,206.6 L148.3,208.8 L152.0,210.8 L155.7,212.6 L159.4,214.3 L160.1,214.6 L163.1,215.9 L166.8,217.4 L170.5,218.8 L174.2,220.0 L177.9,221.1 L178.0,221.1 L181.6,222.0 L185.3,223.0 L189.0,224.0 L192.7,224.7 L196.4,225.2 L199.9,225.4 L200.1,225.4 L203.8,225.4 L207.5,225.4 L211.2,225.4 L214.9,225.4 L218.6,225.4 L222.3,225.4 L226.0,225.4 L229.7,225.4 L233.4,225.4 L237.1,225.4 L240.8,225.4 L244.5,225.4 L248.2,225.4 L251.9,225.4 L255.6,225.4 L259.3,225.4 L263.0,225.4 L266.7,225.4 L270.4,225.4 L274.1,225.4 L277.8,225.4 L281.5,225.4 L285.2,225.4 L288.9,225.4 L292.6,225.4 L296.3,225.4 L300.0,225.4 L303.7,225.4"/>
<path d="M48.4,8.5 L52.1,8.5 L55.8,8.5 L58.4,8.5 L59.5,11.1 L61.4,19.3 L63.2,25.0 L65.1,30.2 L66.9,34.7 L70.6,43.1 L74.3,50.4 L75.2,51.9 L78.0,56.3 L81.7,61.1 L85.4,65.6 L89.1,70.6 L91.1,73.6 L92.8,76.6 L96.5,84.0 L100.2,91.8 L101.9,95.3 L103.9,99.5 L107.6,107.6 L111.3,114.9 L112.6,117.0 L115.0,120.4 L118.7,125.1 L122.4,129.2 L126.1,133.1 L129.8,137.2 L131.0,138.6 L133.5,141.6 L137.2,146.2 L140.9,150.7 L144.6,155.4 L148.3,160.1 L148.5,160.3 L152.0,165.2 L155.7,170.6 L159.4,175.9 L163.1,180.7 L164.3,182.0 L166.8,184.7 L170.5,188.3 L174.2,191.5 L175.8,192.9 L177.9,194.7 L181.6,197.9 L185.3,200.9 L189.0,203.4 L189.5,203.7 L192.7,205.5 L196.4,207.4 L200.1,209.2 L203.8,210.8 L207.5,212.3 L211.2,213.7 L213.3,214.6 L214.9,215.2 L218.6,216.5 L222.3,217.8 L226.0,219.1 L229.7,220.2 L232.8,221.1 L233.4,221.2 L237.1,222.3 L240.8,223.3 L244.5,224.3 L248.2,225.0 L251.9,225.4 L252.8,225.4 L255.6,225.4 L259.3,225.4 L263.0,225.4 L266.7,225.4 L270.4,225.4 L274.1,225.4 L277.8,225.4 L281.5,225.4 L285.2,225.4 L288.9,225.4 L292.6,225.4 L296.3,225.4 L300.0,225.4 L303.7,225.4"/>
<path d="M48.4,8.5 L52.1,8.5 L53.3,8.5 L55.2,19.3 L55.8,22.7 L57.2,30.2 L59.5,45.0 L60.8,51.9 L63.2,61.0 L66.9,71.8 L67.5,73.6 L70.6,82.5 L74.3,92.3 L75.5,95.3 L78.0,101.2 L81.7,109.4 L85.4,116.4 L85.8,117.0 L89.1,121.8 L92.8,126.6 L96.5,130.8 L100.2,134.8 L103.9,138.6 L103.9,138.7 L107.6,142.5 L111.3,146.1 L115.0,149.6 L118.7,153.0 L122.4,156.5 L126.1,160.0 L126.5,160.3 L129.8,163.7 L133.5,167.5 L137.2,171.4 L140.9,175.1 L144.6,178.7 L148.3,182.0 L148.4,182.0 L152.0,184.9 L155.7,187.6 L159.4,190.2 L163.1,192.6 L163.5,192.9 L166.8,195.1 L170.5,197.5 L174.2,199.9 L177.9,202.0 L181.3,203.7 L181.6,203.9 L185.3,205.5 L189.0,207.1 L192.7,208.6 L196.4,209.9 L200.1,211.3 L203.8,212.5 L207.5,213.7 L210.2,214.6 L211.2,214.9 L214.9,216.0 L218.6,217.1 L222.3,218.2 L226.0,219.2 L229.7,220.1 L233.4,221.0 L233.6,221.1 L237.1,221.9 L240.8,222.9 L244.5,223.8 L248.2,224.6 L251.9,225.1 L255.6,225.4 L256.4,225.4 L259.3,225.4 L263.0,225.4 L266.7,225.4 L270.4,225.4 L274.1,225.4 L277.8,225.4 L281.5,225.4 L285.2,225.4 L288.9,225.4 L292.6,225.4 L296.3,225.4 L300.0,225.4 L303.7,225.4"/>
<path d="M48.4,8.5 L52.1,8.5 L55.8,8.5 L58.2,8.5 L59.5,11.7 L61.2,19.3 L63.2,25.7 L64.8,30.2 L66.9,35.4 L70.6,43.8 L74.3,51.1 L74.7,51.9 L78.0,57.0 L81.7,61.8 L85.4,66.5 L89.1,72.2 L89.9,73.6 L92.8,79.8 L96.5,89.2 L98.8,95.3 L100.2,99.4 L103.9,110.9 L106.3,117.0 L107.6,119.5 L111.3,125.6 L115.0,130.8 L118.7,135.5 L121.1,138.6 L122.4,140.5 L126.1,145.3 L129.8,150.1 L133.5,154.6 L137.2,159.2 L138.2,160.3 L140.9,163.7 L144.6,168.3 L148.3,172.8 L152.0,177.1 L155.7,181.0 L156.8,182.0 L159.4,184.3 L163.1,187.3 L166.8,190.1 L170.5,192.8 L170.7,192.9 L174.2,195.4 L177.9,198.0 L181.6,200.5 L185.3,202.8 L187.1,203.7 L189.0,204.7 L192.7,206.5 L196.4,208.1 L200.1,209.6 L203.8,211.1 L207.5,212.5 L211.2,213.8 L213.3,214.6 L214.9,215.1 L218.6,216.4 L222.3,217.7 L226.0,218.9 L229.7,220.0 L233.4,221.0 L233.8,221.1 L237.1,222.0 L240.8,223.0 L244.5,224.0 L248.2,224.8 L251.9,225.3 L254.0,225.4 L255.6,225.4 L259.3,225.4 L263.0,225.4 L266.7,225.4 L270.4,225.4 L274.1,225.4 L277.8,225.4 L281.5,225.4 L285.2,225.4 L288.9,225.4 L292.6,225.4 L296.3,225.4 L300.0,225.4 L303.7,225.4"/>
<path d="M48.4,8.5 L52.1,8.5 L55.8,8.5 L59.5,8.5 L63.2,8.5 L66.9,8.5 L70.6,8.5 L74.3,8.5 L78.0,8.5 L81.7,8.5 L85.4,8.5 L89.1,8.5 L92.8,8.5 L96.5,8.5 L99.9,8.5 L100.2,8.5 L103.9,10.2 L107.6,13.8 L111.3,17.8 L113.0,19.3 L115.0,21.0 L118.7,23.9 L122.4,26.9 L126.1,30.2 L126.1,30.2 L129.8,34.1 L133.5,38.2 L137.2,42.7 L140.9,47.5 L144.1,51.9 L144.6,52.5 L148.3,58.1 L152.0,64.1 L155.7,70.2 L157.8,73.6 L159.4,76.0 L163.1,81.6 L166.8,87.3 L170.5,93.0 L172.0,95.3 L174.2,98.8 L177.9,104.7 L181.6,110.8 L185.1,117.0 L185.3,117.4 L189.0,125.5 L192.7,134.0 L195.1,138.6 L196.4,140.7 L200.1,146.1 L203.8,150.9 L207.5,155.5 L211.2,160.3 L211.3,160.3 L214.9,165.6 L218.6,171.0 L222.3,176.3 L226.0,181.2 L226.7,182.0 L229.7,185.6 L233.4,189.7 L236.6,192.9 L237.1,193.4 L240.8,196.8 L244.5,200.0 L248.2,202.9 L249.3,203.7 L251.9,205.5 L255.6,207.9 L259.3,210.1 L263.0,212.2 L266.7,214.1 L267.7,214.6 L270.4,215.9 L274.1,217.5 L277.8,219.1 L281.5,220.5 L283.2,221.1 L285.2,221.8 L288.9,223.2 L292.6,224.5 L296.3,225.3 L298.5,225.4 L300.0,225.4 L303.7,225.4"/>
<path d="M48.4,8.5 L52.1,8.5 L55.8,8.5 L59.5,8.5 L63.2,8.5 L66.9,8.5 L70.6,8.5 L74.3,8.5 L78.0,8.5 L80.5,8.5 L81.7,8.7 L85.4,11.4 L89.1,15.6 L92.5,19.3 L92.8,19.6 L96.5,22.9 L100.2,26.1 L103.9,29.5 L104.6,30.2 L107.6,33.0 L111.3,36.5 L115.0,40.2 L118.7,43.9 L122.4,47.7 L126.1,51.7 L126.3,51.9 L129.8,55.9 L133.5,60.2 L137.2,64.7 L140.9,69.4 L144.2,73.6 L144.6,74.2 L148.3,79.1 L152.0,84.1 L155.7,89.5 L159.4,95.1 L159.5,95.3 L163.1,101.1 L166.8,107.5 L170.5,114.6 L171.6,117.0 L174.2,123.4 L177.9,133.7 L179.9,138.6 L181.6,142.3 L185.3,149.5 L189.0,156.2 L191.4,160.3 L192.7,162.8 L196.4,169.4 L200.1,175.7 L203.8,181.0 L204.7,182.0 L207.5,185.0 L211.2,188.2 L214.9,191.2 L216.9,192.9 L218.6,194.4 L222.3,197.8 L226.0,201.0 L229.6,203.7 L229.7,203.8 L233.4,206.1 L237.1,208.3 L240.8,210.3 L244.5,212.1 L248.2,213.8 L250.1,214.6 L251.9,215.3 L255.6,216.7 L259.3,218.0 L263.0,219.1 L266.7,220.2 L269.8,221.1 L270.4,221.2 L274.1,222.3 L277.8,223.4 L281.5,224.4 L285.2,225.1 L288.9,225.4 L289.5,225.4 L292.6,225.4 L296.3,225.4 L300.0,225.4 L303.7,225.4"/>
<path d="M48.4,8.5 L52.1,8.5 L55.8,8.5 L59.5,8.5 L63.2,8.5 L66.9,8.5 L70.6,8.5 L74.3,8.5 L78.0,8.5 L81.7,8.5 L85.4,8.5 L89.1,8.5 L92.8,8.5 L96.5,8.5 L100.2,8.5 L103.9,8.5 L104.0,8.5 L107.6,10.1 L111.3,13.8 L115.0,18.0 L116.4,19.3 L118.7,21.3 L122.4,24.4 L126.1,27.6 L128.8,30.2 L129.8,31.3 L133.5,35.7 L137.2,40.6 L140.9,45.8 L144.6,51.4 L145.0,51.9 L148.3,57.4 L152.0,63.9 L155.7,70.5 L157.5,73.6 L159.4,76.8 L163.1,82.7 L166.8,88.5 L170.5,94.5 L171.0,95.3 L174.2,100.6 L177.9,106.8 L181.6,113.3 L183.5,117.0 L185.3,120.8 L189.0,129.8 L192.7,138.0 L193.1,138.6 L196.4,144.2 L200.1,149.5 L203.8,154.4 L207.5,159.5 L208.1,160.3 L211.2,165.2 L214.9,171.1 L218.6,176.9 L222.3,182.0 L222.3,182.0 L226.0,186.5 L229.7,190.4 L232.1,192.9 L233.4,194.1 L237.1,197.7 L240.8,201.0 L244.3,203.7 L244.5,203.9 L248.2,206.4 L251.9,208.8 L255.6,210.9 L259.3,212.9 L262.6,214.6 L263.0,214.7 L266.7,216.4 L270.4,218.0 L274.1,219.4 L277.8,220.7 L279.1,221.1 L281.5,221.9 L285.2,223.2 L288.9,224.4 L292.6,225.2 L295.6,225.4 L296.3,225.4 L300.0,225.4 L303.7,225.4"/>
<path d="M48.4,8.5 L52.1,8.5 L55.8,8.5 L59.5,8.5 L63.2,8.5 L66.9,8.5 L70.6,8.5 L74.3,8.5 L78.0,8.5 L81.7,8.5 L85.4,8.5 L89.1,8.5 L92.8,8.5 L96.5,8.5 L100.2,8.5 L103.9,8.5 L107.6,8.5 L111.3,8.5 L115.0,8.5 L118.7,8.5 L119.4,8.5 L122.4,9.6 L126.1,13.0 L129.8,17.2 L132.0,19.3 L133.5,20.6 L137.2,23.5 L140.9,26.6 L144.5,30.2 L144.6,30.3 L148.3,35.4 L152.0,41.6 L155.7,48.7 L157.3,51.9 L159.4,56.5 L163.1,65.8 L166.4,73.6 L166.8,74.3 L170.5,81.4 L174.2,87.8 L177.9,94.1 L178.6,95.3 L181.6,100.4 L185.3,106.6 L189.0,113.0 L191.2,117.0 L192.7,120.2 L196.4,128.8 L200.1,136.9 L201.1,138.6 L203.8,142.8 L207.5,147.6 L211.2,151.9 L214.9,156.2 L218.2,160.3 L218.6,161.0 L222.3,166.2 L226.0,171.6 L229.7,177.0 L233.3,182.0 L233.4,182.1 L237.1,187.0 L240.8,191.5 L242.1,192.9 L244.5,195.3 L248.2,198.8 L251.9,201.9 L254.3,203.7 L255.6,204.7 L259.3,207.3 L263.0,209.6 L266.7,211.9 L270.4,213.9 L271.7,214.6 L274.1,215.8 L277.8,217.7 L281.5,219.3 L285.2,220.8 L285.9,221.1 L288.9,222.3 L292.6,223.7 L296.3,224.9 L300.0,225.4 L300.2,225.4 L303.7,225.4"/>
<path d="M48.4,8.5 L52.1,8.5 L55.8,8.5 L59.5,8.5 L63.2,8.5 L66.9,8.5 L70.6,8.5 L74.3,8.5 L78.0,8.5 L81.7,8.5 L83.7,8.5 L85.4,8.9 L89.1,11.9 L92.8,16.2 L95.7,19.3 L96.5,20.1 L100.2,23.3 L103.9,26.6 L107.6,30.0 L107.8,30.2 L111.3,33.7 L115.0,37.4 L118.7,41.2 L122.4,45.1 L126.1,49.2 L128.4,51.9 L129.8,53.5 L133.5,57.9 L137.2,62.6 L140.9,67.4 L144.6,72.4 L145.5,73.6 L148.3,77.4 L152.0,82.5 L155.7,87.9 L159.4,93.5 L160.6,95.3 L163.1,99.4 L166.8,105.6 L170.5,112.4 L172.8,117.0 L174.2,120.3 L177.9,130.1 L181.4,138.6 L181.6,139.2 L185.3,146.4 L189.0,152.9 L192.7,159.1 L193.4,160.3 L196.4,165.5 L200.1,172.0 L203.8,177.9 L206.9,182.0 L207.5,182.7 L211.2,186.5 L214.9,189.7 L218.6,192.8 L218.7,192.9 L222.3,196.3 L226.0,199.6 L229.7,202.7 L231.1,203.7 L233.4,205.2 L237.1,207.5 L240.8,209.6 L244.5,211.6 L248.2,213.3 L251.1,214.6 L251.9,214.9 L255.6,216.3 L259.3,217.7 L263.0,218.9 L266.7,220.0 L270.4,221.1 L270.4,221.1 L274.1,222.1 L277.8,223.2 L281.5,224.2 L285.2,225.0 L288.9,225.4 L289.9,225.4 L292.6,225.4 L296.3,225.4 L300.0,225.4 L303.7,225.4"/>
<path d="M48.4,8.5 L52.1,8.5 L55.8,8.5 L59.5,8.5 L63.2,8.5 L66.9,8.5 L70.6,8.5 L70.6,8.5 L74.3,10.0 L78.0,13.7 L81.7,17.8 L83.4,19.3 L85.4,21.1 L89.1,24.2 L92.8,27.3 L96.2,30.2 L96.5,30.5 L100.2,33.7 L103.9,36.8 L107.6,40.0 L111.3,43.2 L115.0,46.5 L118.7,50.0 L120.7,51.9 L122.4,53.6 L126.1,57.3 L129.8,61.2 L133.5,65.2 L137.2,69.4 L140.8,73.6 L140.9,73.7 L144.6,78.2 L148.3,82.8 L152.0,87.7 L155.7,92.9 L157.3,95.3 L159.4,98.4 L163.1,104.3 L166.8,110.6 L170.2,117.0 L170.5,117.6 L174.2,126.4 L177.9,135.5 L179.4,138.6 L181.6,143.0 L185.3,149.6 L189.0,155.7 L191.9,160.3 L192.7,161.7 L196.4,167.8 L200.1,173.6 L203.8,178.9 L206.4,182.0 L207.5,183.2 L211.2,186.7 L214.9,189.7 L218.6,192.7 L218.8,192.9 L222.3,195.9 L226.0,199.2 L229.7,202.2 L231.9,203.7 L233.4,204.7 L237.1,207.0 L240.8,209.1 L244.5,211.0 L248.2,212.7 L251.9,214.4 L252.4,214.6 L255.6,215.8 L259.3,217.2 L263.0,218.5 L266.7,219.6 L270.4,220.7 L271.7,221.1 L274.1,221.8 L277.8,222.9 L281.5,224.0 L285.2,224.8 L288.9,225.3 L290.8,225.4 L292.6,225.4 L296.3,225.4 L300.0,225.4 L303.7,225.4"/>
<path d="M48.4,8.5 L52.1,8.5 L55.8,8.5 L59.5,8.5 L63.2,8.5 L66.9,8.5 L70.6,8.5 L74.3,8.5 L75.1,8.5 L78.0,9.6 L81.7,13.2 L85.4,17.6 L87.1,19.3 L89.1,21.1 L92.8,24.5 L96.5,27.8 L99.1,30.2 L100.2,31.2 L103.9,34.6 L107.6,38.1 L111.3,41.5 L115.0,45.1 L118.7,48.7 L121.8,51.9 L122.4,52.5 L126.1,56.4 L129.8,60.5 L133.5,64.6 L137.2,68.9 L140.9,73.4 L141.0,73.6 L144.6,78.0 L148.3,82.8 L152.0,87.8 L155.7,93.0 L157.2,95.3 L159.4,98.7 L163.1,104.6 L166.8,111.2 L169.7,117.0 L170.5,118.7 L174.2,128.3 L177.9,137.9 L178.2,138.6 L181.6,145.9 L185.3,153.2 L189.0,160.2 L189.1,160.3 L192.7,167.4 L196.4,174.4 L200.1,180.4 L201.4,182.0 L203.8,184.7 L207.5,188.0 L211.2,191.0 L213.4,192.9 L214.9,194.2 L218.6,197.7 L222.3,201.1 L225.7,203.7 L226.0,203.9 L229.7,206.3 L233.4,208.5 L237.1,210.4 L240.8,212.2 L244.5,213.8 L246.3,214.6 L248.2,215.3 L251.9,216.6 L255.6,217.9 L259.3,219.0 L263.0,220.1 L266.7,221.0 L266.9,221.1 L270.4,222.0 L274.1,223.1 L277.8,224.0 L281.5,224.8 L285.2,225.3 L287.5,225.4 L288.9,225.4 L292.6,225.4 L296.3,225.4 L300.0,225.4 L303.7,225.4"/>
<path d="M48.4,8.5 L52.1,8.5 L55.8,8.5 L59.5,8.5 L63.2,8.5 L66.9,8.5 L70.6,8.5 L74.3,8.5 L78.0,8.5 L81.7,8.5 L85.4,8.5 L89.1,8.5 L90.4,8.5 L92.8,9.2 L96.5,12.1 L100.2,16.1 L103.4,19.3 L103.9,19.7 L107.6,22.7 L111.3,25.7 L115.0,28.9 L116.5,30.2 L118.7,32.3 L122.4,36.0 L126.1,39.9 L129.8,44.0 L133.5,48.2 L136.6,51.9 L137.2,52.7 L140.9,57.5 L144.6,62.6 L148.3,67.9 L152.0,73.2 L152.3,73.6 L155.7,78.4 L159.4,83.7 L163.1,89.1 L166.8,94.6 L167.2,95.3 L170.5,100.3 L174.2,106.2 L177.9,112.4 L180.4,117.0 L181.6,119.3 L185.3,127.5 L189.0,135.7 L190.6,138.6 L192.7,142.1 L196.4,147.5 L200.1,152.4 L203.8,157.2 L206.1,160.3 L207.5,162.4 L211.2,167.8 L214.9,173.3 L218.6,178.4 L221.5,182.0 L222.3,183.0 L226.0,187.1 L229.7,190.7 L232.0,192.9 L233.4,194.2 L237.1,197.6 L240.8,200.8 L244.5,203.7 L244.6,203.7 L248.2,206.2 L251.9,208.5 L255.6,210.6 L259.3,212.6 L263.0,214.4 L263.3,214.6 L266.7,216.1 L270.4,217.7 L274.1,219.1 L277.8,220.4 L279.8,221.1 L281.5,221.7 L285.2,223.0 L288.9,224.2 L292.6,225.1 L296.1,225.4 L296.3,225.4 L300.0,225.4 L303.7,225.4"/>
<path d="M48.4,8.5 L52.1,8.5 L55.8,8.5 L59.5,8.5 L63.2,8.5 L66.9,8.5 L70.6,8.5 L74.3,8.5 L78.0,8.5 L81.7,8.5 L85.4,8.5 L89.1,8.5 L92.8,8.5 L96.5,8.5 L100.2,8.5 L103.9,8.5 L107.6,8.5 L111.3,8.5 L115.0,8.5 L115.8,8.5 L118.7,9.5 L122.4,12.7 L126.1,16.8 L128.7,19.3 L129.8,20.3 L133.5,23.1 L137.2,26.1 L140.9,29.5 L141.5,30.2 L144.6,34.0 L148.3,39.5 L152.0,45.7 L155.4,51.9 L155.7,52.5 L159.4,60.6 L163.1,69.4 L165.1,73.6 L166.8,76.9 L170.5,83.6 L174.2,89.9 L177.3,95.3 L177.9,96.3 L181.6,102.6 L185.3,108.8 L189.0,115.4 L189.9,117.0 L192.7,123.1 L196.4,131.6 L200.0,138.6 L200.1,138.8 L203.8,144.1 L207.5,148.7 L211.2,152.8 L214.9,157.0 L217.7,160.3 L218.6,161.6 L222.3,166.5 L226.0,171.5 L229.7,176.5 L233.4,181.3 L234.0,182.0 L237.1,186.0 L240.8,190.4 L243.1,192.9 L244.5,194.3 L248.2,197.8 L251.9,200.9 L255.6,203.7 L255.6,203.8 L259.3,206.4 L263.0,208.8 L266.7,211.1 L270.4,213.2 L272.8,214.6 L274.1,215.2 L277.8,217.1 L281.5,218.9 L285.2,220.5 L286.7,221.1 L288.9,221.9 L292.6,223.5 L296.3,224.7 L300.0,225.4 L300.7,225.4 L303.7,225.4"/>
<path d="M48.4,8.5 L52.1,8.5 L55.8,8.5 L59.4,8.5 L63.1,8.5 L66.8,8.5 L70.5,8.5 L74.2,8.5 L77.9,8.5 L81.5,8.5 L85.2,8.5 L88.9,8.5 L92.6,8.5 L96.3,8.5 L100.0,8.5 L103.6,8.5 L107.3,8.5 L111.0,8.5 L114.7,8.5 L118.4,8.5 L122.1,8.5 L125.7,8.5 L125.9,8.5 L129.4,9.9 L133.1,13.5 L136.8,17.6 L138.6,19.3 L140.5,20.9 L144.1,23.7 L147.8,26.7 L151.2,30.2 L151.5,30.6 L155.2,36.3 L158.9,43.8 L162.4,51.9 L162.6,52.2 L166.2,63.1 L169.8,73.6 L169.9,73.8 L173.6,81.6 L177.3,88.3 L181.0,94.8 L181.2,95.3 L184.7,101.3 L188.3,107.4 L192.0,113.8 L193.7,117.0 L195.7,120.9 L199.4,129.1 L203.1,136.7 L204.2,138.6 L206.8,142.2 L210.4,146.7 L214.1,150.7 L217.8,154.6 L221.5,158.6 L222.9,160.3 L225.2,163.1 L228.8,167.9 L232.5,172.8 L236.2,177.7 L239.4,182.0 L239.9,182.6 L243.6,187.7 L247.3,192.3 L247.8,192.9 L250.9,196.1 L254.6,199.4 L258.3,202.4 L260.0,203.7 L262.0,205.2 L265.7,207.8 L269.4,210.2 L273.0,212.5 L276.6,214.6 L276.7,214.6 L280.4,216.7 L284.1,218.6 L287.8,220.4 L289.5,221.1 L291.5,221.8 L295.1,223.2 L298.8,224.4 L302.5,225.4"/>
<path d="M48.4,8.5 L52.1,8.5 L55.8,8.5 L59.5,8.5 L63.2,8.5 L66.9,8.5 L70.6,8.5 L74.3,8.5 L78.0,8.5 L81.7,8.5 L85.4,8.5 L89.1,8.5 L92.8,8.5 L96.5,8.5 L100.2,8.5 L103.9,8.5 L107.6,8.5 L111.3,8.5 L111.6,8.5 L115.0,9.8 L118.7,13.3 L122.4,17.5 L124.4,19.3 L126.1,20.8 L129.8,23.7 L133.5,26.7 L137.1,30.2 L137.2,30.3 L140.9,34.8 L144.6,40.0 L148.3,45.9 L151.8,51.9 L152.0,52.2 L155.7,59.4 L159.4,67.4 L162.5,73.6 L163.1,74.8 L166.8,81.3 L170.5,87.5 L174.2,93.8 L175.1,95.3 L177.9,100.1 L181.6,106.3 L185.3,112.7 L187.6,117.0 L189.0,119.9 L192.7,128.5 L196.4,136.6 L197.6,138.6 L200.1,142.6 L203.8,147.6 L207.5,152.0 L211.2,156.3 L214.4,160.3 L214.9,161.0 L218.6,166.1 L222.3,171.4 L226.0,176.5 L229.7,181.4 L230.2,182.0 L233.4,185.9 L237.1,190.2 L239.6,192.9 L240.8,194.0 L244.5,197.5 L248.2,200.7 L251.9,203.6 L252.1,203.7 L255.6,206.2 L259.3,208.7 L263.0,210.9 L266.7,213.0 L269.7,214.6 L270.4,214.9 L274.1,216.8 L277.8,218.5 L281.5,220.0 L284.3,221.1 L285.2,221.4 L288.9,222.8 L292.6,224.2 L296.3,225.2 L299.1,225.4 L300.0,225.4 L303.7,225.4"/>
<path d="M48.4,8.5 L52.1,8.5 L55.8,8.5 L59.5,8.5 L63.2,8.5 L66.9,8.5 L70.6,8.5 L74.3,8.5 L78.0,8.5 L81.7,8.5 L85.4,8.5 L89.1,8.5 L92.8,8.5 L96.5,8.5 L96.5,8.5 L100.2,10.2 L103.9,14.1 L107.6,18.3 L108.7,19.3 L111.3,21.6 L115.0,24.8 L118.7,28.1 L120.9,30.2 L122.4,31.8 L126.1,35.8 L129.8,40.2 L133.5,44.8 L137.2,49.7 L138.9,51.9 L140.9,54.7 L144.6,60.2 L148.3,65.9 L152.0,71.7 L153.2,73.6 L155.7,77.3 L159.4,82.9 L163.1,88.5 L166.8,94.4 L167.4,95.3 L170.5,100.4 L174.2,106.6 L177.9,113.4 L179.7,117.0 L181.6,121.4 L185.3,131.0 L188.6,138.6 L189.0,139.6 L192.7,146.1 L196.4,151.9 L200.1,157.6 L201.9,160.3 L203.8,163.5 L207.5,169.9 L211.2,176.0 L214.9,181.3 L215.5,182.0 L218.6,185.6 L222.3,189.3 L226.0,192.7 L226.2,192.9 L229.7,196.2 L233.4,199.5 L237.1,202.6 L238.7,203.7 L240.8,205.2 L244.5,207.5 L248.2,209.7 L251.9,211.6 L255.6,213.5 L258.0,214.6 L259.3,215.1 L263.0,216.7 L266.7,218.1 L270.4,219.4 L274.1,220.6 L275.8,221.1 L277.8,221.7 L281.5,222.9 L285.2,224.1 L288.9,224.9 L292.6,225.4 L293.5,225.4 L296.3,225.4 L300.0,225.4 L303.7,225.4"/>
<path d="M48.4,8.5 L53.0,8.5 L57.7,8.5 L62.3,8.5 L67.0,8.6 L71.6,8.6 L76.2,8.7 L80.9,8.7 L85.5,8.8 L90.2,8.9 L94.8,9.0 L99.5,9.1 L104.1,9.3 L107.0,9.4 L108.7,9.5 L113.4,10.4 L118.0,11.8 L122.7,13.5 L123.7,13.9 L127.3,15.6 L131.9,18.6 L136.6,21.8 L141.2,24.7 L142.2,25.2 L145.9,26.8 L150.5,28.6 L155.1,30.2 L159.8,32.0 L164.4,34.1 L164.4,34.1 L169.1,37.2 L173.7,40.7 L175.7,42.1 L178.3,44.0 L183.0,47.2 L187.6,50.3 L189.9,51.9 L192.3,53.5 L196.9,56.8 L201.6,60.0 L206.2,63.3 L210.8,66.6 L215.5,70.0 L215.8,70.3 L220.1,73.6 L224.8,77.2 L229.4,80.8 L234.0,84.6 L238.7,88.3 L240.1,89.4 L243.3,92.0 L248.0,95.7 L250.2,97.4 L252.6,99.3 L257.2,102.8 L261.9,106.3 L266.1,109.4 L266.5,109.7 L271.2,113.2 L275.8,116.7 L280.4,120.1 L282.8,121.7 L285.1,123.2 L289.7,126.2 L294.4,129.1 L299.0,132.0 L303.7,134.7 L308.3,137.4 L310.0,138.4 L312.9,140.1 L317.6,142.5 L322.2,145.0 L326.9,147.5 L330.1,149.5 L331.5,150.3 L336.1,153.3 L339.3,156.0 L340.8,157.6 L344.4,163.6 L345.4,167.2 L347.7,177.7 L350.1,187.6 L351.0,191.6 L354.7,206.5 L356.1,210.7 L359.3,217.7 L363.2,222.8 L364.0,223.4 L368.6,225.4"/>
<path d="M48.4,8.5 L53.0,8.5 L57.6,8.5 L62.1,8.5 L66.7,8.6 L71.3,8.6 L75.9,8.6 L80.5,8.7 L85.0,8.8 L89.6,8.9 L94.2,9.0 L98.8,9.1 L103.4,9.2 L107.9,9.3 L112.5,9.5 L115.4,9.6 L117.1,9.7 L121.7,10.8 L126.3,12.5 L130.8,14.5 L132.1,15.0 L135.4,16.6 L140.0,19.4 L144.6,22.6 L148.9,25.9 L149.2,26.1 L153.7,30.2 L158.3,34.8 L162.9,39.5 L165.6,42.1 L167.5,43.9 L172.1,48.3 L176.6,52.7 L181.2,57.0 L185.8,61.0 L189.9,64.2 L190.4,64.6 L195.0,68.0 L199.6,71.1 L204.1,74.0 L208.7,76.9 L213.3,79.6 L215.8,81.2 L217.9,82.4 L222.5,85.0 L227.0,87.4 L231.6,89.8 L236.2,92.3 L240.8,94.7 L245.4,97.3 L249.9,100.1 L250.2,100.2 L254.5,103.2 L259.1,106.6 L263.7,109.9 L266.1,111.5 L268.3,112.9 L272.8,115.7 L277.4,118.4 L282.0,121.2 L282.8,121.7 L286.6,124.3 L291.2,127.6 L295.7,131.0 L300.3,134.5 L304.9,138.0 L309.5,141.5 L310.0,141.9 L314.1,144.9 L318.6,148.4 L323.2,151.9 L327.8,155.5 L330.1,157.3 L332.4,158.9 L337.0,162.1 L340.6,165.8 L341.5,167.2 L344.8,175.5 L346.1,182.2 L348.5,196.3 L350.7,204.8 L353.6,213.0 L355.3,216.6 L359.9,223.5 L360.7,224.1 L364.4,225.4"/>
<path d="M48.4,8.5 L52.9,8.5 L57.5,8.5 L62.0,8.6 L66.6,8.6 L71.2,8.7 L75.7,8.8 L80.2,8.9 L84.8,9.0 L89.3,9.2 L93.9,9.4 L98.4,9.6 L98.6,9.6 L103.0,10.4 L107.5,12.1 L112.1,14.4 L115.4,16.1 L116.7,16.8 L121.2,19.6 L125.8,23.0 L130.3,26.6 L132.1,28.0 L134.8,30.2 L139.4,34.1 L143.9,38.1 L148.5,42.2 L153.1,46.2 L157.2,49.7 L157.6,50.0 L162.1,53.6 L166.7,57.2 L171.2,60.6 L175.8,64.0 L180.3,67.4 L184.9,70.8 L189.4,74.1 L189.9,74.4 L194.0,77.5 L198.6,80.7 L203.1,84.0 L207.7,87.3 L212.2,90.5 L215.8,93.1 L216.7,93.7 L221.3,97.0 L225.8,100.4 L230.4,103.8 L234.9,107.1 L239.5,110.3 L244.1,113.4 L248.6,116.2 L250.2,117.2 L253.2,118.9 L257.7,121.3 L262.2,123.6 L266.8,125.9 L271.3,128.0 L275.9,130.1 L280.4,132.3 L282.8,133.4 L285.0,134.5 L289.5,136.6 L294.1,138.7 L298.6,140.8 L303.2,142.9 L307.7,145.1 L310.0,146.2 L312.3,147.4 L316.8,149.9 L321.4,152.5 L325.9,155.0 L330.1,157.3 L330.5,157.5 L335.0,159.6 L336.8,160.8 L339.6,163.8 L343.1,170.1 L344.1,172.9 L347.7,186.4 L348.7,190.7 L351.0,201.1 L353.2,209.7 L356.1,218.0 L357.8,221.0 L362.3,225.4"/>
<path d="M48.4,8.5 L53.0,8.5 L57.6,8.5 L62.1,8.6 L66.7,8.7 L71.3,8.8 L75.9,8.9 L80.5,9.1 L85.0,9.3 L89.6,9.5 L90.3,9.6 L94.2,10.3 L98.8,12.3 L103.4,14.9 L107.0,17.2 L107.9,17.8 L112.5,21.4 L117.1,25.9 L121.7,30.4 L123.7,32.4 L126.3,34.6 L130.8,38.8 L135.4,43.1 L140.0,47.3 L144.6,51.4 L149.2,55.3 L153.1,58.4 L153.7,58.9 L158.3,62.3 L162.9,65.5 L167.5,68.5 L172.1,71.5 L176.6,74.5 L181.2,77.5 L185.8,80.7 L189.9,83.8 L190.4,84.2 L195.0,87.8 L199.6,91.6 L204.1,95.6 L208.7,99.7 L213.3,103.8 L215.8,106.1 L217.9,108.0 L222.5,112.4 L227.0,117.0 L231.6,121.7 L236.2,126.4 L240.8,130.8 L245.4,134.9 L249.9,138.5 L250.2,138.6 L254.5,141.6 L259.1,144.5 L263.7,147.2 L268.3,149.6 L270.3,150.6 L272.8,151.8 L277.4,153.8 L282.0,155.6 L286.6,157.4 L291.2,159.1 L294.5,160.3 L295.7,160.8 L300.3,162.4 L304.9,163.9 L309.5,165.4 L312.5,166.4 L314.1,166.9 L318.6,168.2 L323.2,169.5 L327.8,171.1 L330.1,172.0 L332.4,173.1 L337.0,176.0 L341.4,179.9 L341.5,180.0 L346.1,187.0 L349.8,195.0 L350.7,197.5 L354.0,208.0 L355.3,211.6 L358.2,218.0 L359.9,220.7 L364.4,225.4"/>
<path d="M48.4,8.5 L53.0,8.5 L57.6,8.6 L62.1,8.6 L66.7,8.7 L71.3,8.9 L75.9,9.1 L80.5,9.3 L85.0,9.5 L86.1,9.6 L89.6,10.4 L94.2,12.8 L98.8,16.2 L102.8,19.3 L103.4,19.8 L107.9,24.1 L112.5,29.5 L117.1,35.2 L121.7,40.9 L123.7,43.2 L126.3,45.9 L130.8,50.9 L135.4,55.9 L140.0,60.7 L144.6,65.4 L149.2,69.9 L153.1,73.6 L153.7,74.2 L158.3,78.2 L162.9,82.0 L167.5,85.6 L172.1,89.1 L176.6,92.6 L181.2,96.1 L185.8,99.7 L189.9,103.1 L190.4,103.5 L195.0,107.4 L199.6,111.5 L204.1,115.5 L208.7,119.6 L213.3,123.5 L215.8,125.6 L217.9,127.3 L222.5,131.1 L227.0,134.9 L231.6,138.7 L236.2,142.3 L240.8,145.7 L245.4,148.9 L249.9,151.7 L250.2,151.9 L254.5,154.3 L259.1,156.5 L263.7,158.7 L268.3,160.7 L272.8,162.6 L277.4,164.6 L281.1,166.2 L282.0,166.6 L286.6,168.5 L291.2,170.5 L295.7,172.4 L300.3,174.3 L304.9,176.2 L309.5,178.1 L312.5,179.4 L314.1,180.0 L318.6,181.8 L323.2,183.4 L327.8,185.0 L332.4,186.9 L337.0,189.0 L341.4,191.6 L341.5,191.6 L346.1,195.3 L350.7,200.6 L351.0,201.1 L355.3,211.3 L358.2,218.0 L359.9,220.6 L364.4,225.4"/>
<path d="M48.4,8.5 L51.9,8.5 L55.4,8.5 L59.0,8.6 L62.5,8.7 L66.0,8.8 L69.5,8.9 L73.0,9.1 L76.5,9.3 L80.1,9.5 L81.9,9.6 L83.6,9.9 L87.1,11.5 L90.6,14.1 L94.1,17.3 L97.7,20.6 L98.6,21.5 L101.2,24.0 L104.7,28.0 L108.2,32.4 L111.7,37.2 L115.3,41.9 L118.8,46.5 L119.6,47.5 L122.3,51.0 L125.8,55.6 L129.3,60.3 L132.8,64.9 L136.4,69.5 L139.9,74.0 L143.4,78.3 L146.9,82.3 L148.9,84.4 L150.4,86.0 L154.0,89.6 L157.5,92.9 L161.0,96.2 L164.5,99.3 L168.0,102.3 L171.6,105.3 L175.1,108.2 L178.6,111.1 L182.1,114.0 L185.6,117.0 L189.1,120.0 L189.9,120.6 L192.7,123.1 L196.2,126.2 L199.7,129.3 L203.2,132.4 L206.7,135.5 L210.3,138.5 L213.8,141.4 L215.8,143.0 L217.3,144.1 L220.8,146.8 L224.3,149.4 L227.9,152.0 L231.4,154.5 L234.9,156.9 L238.4,159.3 L241.9,161.7 L245.4,163.9 L249.0,166.1 L250.2,166.8 L252.5,168.1 L256.0,169.8 L259.5,171.5 L263.0,173.6 L264.4,174.6 L266.6,176.6 L270.1,180.8 L272.4,184.2 L273.6,186.5 L276.5,193.9 L277.1,195.9 L280.6,211.5 L281.1,213.0 L284.2,220.0 L286.2,222.8 L287.7,224.0 L291.2,225.4"/>
<path d="M48.4,8.5 L53.0,8.5 L57.6,8.5 L62.2,8.5 L66.8,8.5 L71.5,8.5 L76.1,8.5 L80.7,8.5 L85.3,8.5 L89.9,8.5 L94.5,8.5 L99.1,8.5 L103.7,8.5 L108.3,8.5 L112.9,8.5 L117.6,8.5 L122.2,8.5 L126.8,8.5 L131.4,8.5 L136.0,8.5 L140.6,8.5 L145.2,8.5 L147.6,8.5 L149.8,8.8 L153.5,10.0 L154.4,10.4 L159.1,13.5 L160.2,14.4 L163.7,17.9 L166.9,22.2 L168.3,24.4 L172.3,32.1 L172.9,33.4 L176.5,42.1 L177.5,44.4 L181.1,52.1 L182.1,54.2 L184.4,58.8 L186.7,63.4 L190.7,71.4 L191.3,72.5 L195.9,80.6 L198.7,85.5 L200.6,89.2 L205.2,98.6 L207.0,102.0 L209.8,106.5 L214.4,113.2 L215.8,114.8 L219.0,117.3 L223.4,120.6 L223.6,120.9 L228.2,126.5 L232.6,132.1 L232.8,132.4 L237.4,137.5 L242.0,142.3 L246.7,146.9 L249.3,149.5 L251.3,151.3 L255.9,155.6 L260.5,159.7 L265.1,163.8 L266.1,164.7 L269.7,168.0 L274.3,172.3 L278.9,176.5 L282.8,179.9 L283.5,180.5 L288.2,184.2 L292.8,187.9 L297.4,191.3 L299.6,192.9 L302.0,194.5 L306.6,197.6 L311.2,200.4 L315.8,203.2 L320.4,205.8 L320.5,205.9 L325.0,208.4 L329.7,210.9 L334.3,213.3 L338.9,215.6 L341.4,216.7 L343.5,217.6 L348.1,219.6 L352.7,221.4 L357.3,223.0 L358.2,223.2 L361.9,224.3 L366.5,225.4"/>
</g>
<path d="M48.4,8.5 L51.1,8.5 L53.8,8.5 L56.5,8.5 L59.2,8.5 L61.9,8.5 L64.5,8.5 L67.2,8.5 L69.9,8.5 L72.6,8.5 L75.3,8.5 L78.0,8.5 L80.7,8.5 L83.4,8.5 L86.1,8.5 L88.8,8.5 L91.5,8.5 L94.1,8.5 L96.8,8.5 L99.5,8.5 L102.2,8.5 L104.9,8.5 L107.6,8.5 L110.3,8.5 L113.0,8.5 L115.7,8.5 L118.4,8.5 L121.1,8.5 L123.7,8.5 L126.4,8.5 L129.1,8.5 L131.8,8.5 L134.5,8.5 L137.2,8.5 L139.9,8.5 L142.6,8.5 L145.3,8.5 L147.6,8.5 L148.0,8.5 L150.7,9.8 L153.3,12.1 L153.5,12.2 L156.0,15.3 L158.7,19.7 L158.9,20.0 L161.4,24.7 L164.1,30.5 L164.4,31.1 L166.8,36.9 L169.5,43.8 L169.8,44.5 L172.2,50.6 L174.4,56.2 L174.9,57.4 L177.6,64.1 L177.7,64.5 L180.3,69.0 L183.0,73.3 L185.6,77.8 L185.7,77.9 L188.3,83.3 L191.0,89.1 L192.0,91.1 L193.7,94.6 L196.4,99.8 L198.7,104.4 L199.1,105.3 L201.8,111.2 L204.5,117.2 L205.4,119.1 L207.2,122.8 L209.9,128.1 L212.6,133.2 L215.2,137.9 L215.8,138.9 L217.9,142.1 L220.6,146.1 L223.3,149.8 L226.0,153.4 L228.7,156.9 L228.8,157.1 L231.4,160.4 L234.1,163.9 L236.8,167.3 L239.5,170.4 L241.8,172.7 L242.2,173.0 L244.8,175.4 L247.5,177.6 L250.2,179.6 L252.9,181.4 L254.8,182.5 L255.6,182.9 L258.3,184.2 L261.0,185.4 L263.7,186.5 L266.4,187.6 L267.7,188.1 L269.1,188.6 L271.8,189.5 L274.4,190.4 L277.1,191.3 L279.8,192.2 L282.5,193.1 L283.2,193.3 L285.2,194.0 L287.9,194.9 L290.6,195.8 L293.3,196.7 L296.0,197.6 L298.7,198.5 L298.7,198.5 L301.4,199.4 L304.0,200.3 L306.7,201.2 L309.4,202.1 L312.1,203.0 L314.2,203.7 L314.8,203.9 L317.5,204.8 L320.2,205.7 L322.9,206.5 L325.6,207.4 L328.3,208.3 L330.1,208.9 L331.0,209.2 L333.6,210.0 L336.3,210.8 L339.0,211.6 L341.7,212.5 L344.4,213.6 L345.6,214.1 L347.1,215.0 L349.8,217.0 L352.5,219.1 L355.2,221.0 L356.1,221.5 L357.9,222.3 L360.6,223.3 L363.2,224.2 L365.9,224.9 L366.1,225.0 L368.6,225.4" fill="none" stroke="#1f97c8" stroke-width="2.1" stroke-linejoin="round"/>
<text x="40.5" y="230.6" text-anchor="end" class="t">0</text>
<text x="40.5" y="208.9" text-anchor="end" class="t">10</text>
<text x="40.5" y="187.2" text-anchor="end" class="t">20</text>
<text x="40.5" y="165.5" text-anchor="end" class="t">30</text>
<text x="40.5" y="143.8" text-anchor="end" class="t">40</text>
<text x="40.5" y="122.2" text-anchor="end" class="t">50</text>
<text x="40.5" y="100.5" text-anchor="end" class="t">60</text>
<text x="40.5" y="78.8" text-anchor="end" class="t">70</text>
<text x="40.5" y="57.1" text-anchor="end" class="t">80</text>
<text x="40.5" y="35.4" text-anchor="end" class="t">90</text>
<text x="40.5" y="13.7" text-anchor="end" class="t">100</text>
<text x="47.6" y="242.0" text-anchor="middle" class="t">0</text>
<text x="76.9" y="242.0" text-anchor="middle" class="t">7</text>
<text x="106.2" y="242.0" text-anchor="middle" class="t">14</text>
<text x="135.5" y="242.0" text-anchor="middle" class="t">21</text>
<text x="164.8" y="242.0" text-anchor="middle" class="t">28</text>
<text x="194.1" y="242.0" text-anchor="middle" class="t">35</text>
<text x="223.4" y="242.0" text-anchor="middle" class="t">42</text>
<text x="252.7" y="242.0" text-anchor="middle" class="t">49</text>
<text x="282.0" y="242.0" text-anchor="middle" class="t">56</text>
<text x="311.3" y="242.0" text-anchor="middle" class="t">63</text>
<text x="340.6" y="242.0" text-anchor="middle" class="t">70</text>
<text x="369.9" y="242.0" text-anchor="middle" class="t">77</text>
<text x="219" y="262.0" text-anchor="middle" class="ti" style="font-size:13px">Dose (Gy)</text>
<text transform="translate(17.3,114.8) rotate(-90)" text-anchor="middle" class="ti" style="font-size:13.4px">Volume (%)</text></g>
<g clip-path="url(#cb)"><rect x="42" y="493.35" width="345.0" height="1.5" fill="#5e5e5e"/>
<rect x="42" y="471.78" width="345.0" height="1.5" fill="#5e5e5e"/>
<rect x="42" y="450.21" width="345.0" height="1.5" fill="#5e5e5e"/>
<rect x="42" y="428.64" width="345.0" height="1.5" fill="#5e5e5e"/>
<rect x="42" y="407.07" width="345.0" height="1.5" fill="#5e5e5e"/>
<rect x="42" y="385.50" width="345.0" height="1.5" fill="#5e5e5e"/>
<rect x="42" y="363.93" width="345.0" height="1.5" fill="#5e5e5e"/>
<rect x="42" y="342.36" width="345.0" height="1.5" fill="#5e5e5e"/>
<rect x="42" y="320.79" width="345.0" height="1.5" fill="#5e5e5e"/>
<rect x="42" y="299.22" width="345.0" height="1.5" fill="#5e5e5e"/>
<rect x="42" y="277.65" width="345.0" height="1.5" fill="#5e5e5e"/>
<rect x="46.75" y="272.5" width="1.5" height="227.9" fill="#4e4e4e"/>
<rect x="76.48" y="272.5" width="1.5" height="227.9" fill="#4e4e4e"/>
<rect x="106.21" y="272.5" width="1.5" height="227.9" fill="#4e4e4e"/>
<rect x="135.94" y="272.5" width="1.5" height="227.9" fill="#4e4e4e"/>
<rect x="165.67" y="272.5" width="1.5" height="227.9" fill="#4e4e4e"/>
<rect x="195.39" y="272.5" width="1.5" height="227.9" fill="#4e4e4e"/>
<rect x="225.12" y="272.5" width="1.5" height="227.9" fill="#4e4e4e"/>
<rect x="254.85" y="272.5" width="1.5" height="227.9" fill="#4e4e4e"/>
<rect x="284.58" y="272.5" width="1.5" height="227.9" fill="#4e4e4e"/>
<rect x="314.31" y="272.5" width="1.5" height="227.9" fill="#4e4e4e"/>
<rect x="344.04" y="272.5" width="1.5" height="227.9" fill="#4e4e4e"/>
<rect x="373.77" y="272.5" width="1.5" height="227.9" fill="#4e4e4e"/>
<path d="M62.4,278.4 L64.1,289.2 L65.6,295.7 L67.0,300.0 L68.9,303.9 L72.1,309.5 L75.4,314.0 L78.6,318.0 L81.5,321.5 L81.9,322.1 L85.1,326.1 L88.4,329.8 L91.6,333.4 L94.9,337.0 L98.1,341.0 L99.7,343.1 L101.4,345.4 L104.6,350.3 L107.9,355.5 L111.2,360.9 L113.3,364.7 L114.4,366.6 L117.7,372.7 L120.9,379.1 L124.2,385.2 L124.8,386.2 L127.4,390.6 L130.7,395.8 L133.9,400.7 L137.2,405.5 L138.8,407.8 L140.4,410.1 L143.7,414.7 L146.9,419.1 L150.2,423.4 L153.4,427.5 L154.9,429.4 L156.7,431.5 L159.9,435.5 L163.2,439.4 L166.4,443.1 L169.7,446.5 L172.9,449.5 L174.9,451.0 L176.2,451.8 L179.5,453.9 L182.7,455.7 L186.0,457.3 L189.2,458.8 L192.5,460.2 L195.7,461.6 L196.1,461.7 L199.0,462.9 L202.2,464.1 L205.5,465.3 L208.7,466.5 L212.0,467.6 L215.2,468.6 L218.5,469.6 L221.7,470.6 L225.0,471.6 L228.0,472.5 L228.2,472.6 L231.5,473.6 L234.7,474.5 L238.0,475.4 L241.2,476.3 L244.5,477.2 L247.8,478.0 L251.0,478.9 L254.3,479.7 L257.5,480.5 L260.8,481.4 L264.0,482.2 L267.3,483.0 L268.3,483.3 L270.5,483.9 L273.8,484.8 L277.0,485.6 L280.3,486.5 L283.5,487.4 L286.8,488.2 L290.0,489.0 L293.3,489.7 L293.8,489.8 L296.5,490.3 L299.8,491.0 L303.0,491.6 L306.3,492.1 L309.6,492.7 L312.8,493.2 L316.1,493.7 L319.3,494.1 L370.3,494.1 L366.6,492.5 L362.9,491.0 L359.7,489.8 L359.2,489.6 L355.5,488.3 L351.9,487.0 L348.2,485.7 L344.5,484.5 L340.8,483.4 L340.5,483.3 L337.1,482.3 L333.4,481.2 L329.8,480.2 L326.1,479.1 L322.4,478.1 L318.7,477.1 L315.0,476.2 L311.4,475.2 L307.7,474.3 L304.0,473.4 L300.3,472.6 L300.2,472.5 L296.6,471.7 L292.9,471.0 L289.3,470.2 L285.6,469.6 L281.9,468.9 L278.2,468.2 L274.5,467.6 L270.8,466.9 L267.2,466.3 L263.5,465.6 L259.8,464.8 L256.1,464.0 L252.4,463.1 L248.7,462.2 L247.1,461.7 L245.1,461.2 L241.4,460.0 L237.7,458.8 L234.0,457.4 L230.3,455.9 L226.7,454.3 L223.0,452.5 L219.9,451.0 L219.3,450.6 L215.6,448.5 L211.9,446.1 L208.2,443.5 L204.6,440.6 L200.9,437.6 L197.2,434.3 L193.5,430.9 L191.9,429.4 L189.8,427.3 L186.1,423.3 L182.5,418.9 L178.8,414.1 L175.1,409.2 L174.1,407.8 L171.4,404.1 L167.7,398.6 L164.1,392.8 L160.4,386.8 L160.0,386.2 L156.7,380.5 L153.0,373.9 L149.3,367.4 L147.7,364.7 L145.6,361.2 L142.0,355.3 L138.3,349.5 L134.6,343.8 L134.1,343.1 L130.9,338.0 L127.2,332.2 L123.5,326.7 L119.9,321.7 L119.7,321.5 L116.2,317.5 L112.5,313.6 L108.8,309.9 L105.1,306.4 L101.4,302.9 L98.5,300.0 L97.8,299.3 L94.1,295.6 L90.4,292.0 L87.8,289.2 L86.7,287.9 L83.0,283.3 L79.4,278.4Z" fill="#124260"/>
<g fill="none" stroke="#c2d684" stroke-width="1.0" stroke-linejoin="round">
<path d="M47.5,278.4 L52.2,278.4 L56.9,278.4 L61.6,278.4 L66.3,278.4 L71.0,278.4 L72.2,278.4 L75.7,283.0 L78.8,289.2 L80.4,291.3 L85.1,297.0 L87.8,300.0 L89.8,302.1 L94.5,306.8 L99.2,311.1 L103.9,315.6 L108.6,320.4 L109.6,321.5 L113.2,325.7 L117.9,331.5 L122.6,337.6 L126.8,343.1 L127.3,343.8 L132.0,350.3 L136.7,357.0 L141.4,364.0 L141.9,364.7 L146.1,371.4 L150.8,379.2 L155.2,386.2 L155.5,386.8 L160.2,394.1 L164.9,401.2 L169.6,407.8 L169.6,407.8 L174.3,414.0 L179.0,419.8 L183.7,425.3 L187.7,429.4 L188.4,430.1 L193.1,434.5 L197.8,438.8 L202.5,442.7 L207.2,446.3 L211.9,449.3 L214.8,451.0 L216.6,451.9 L221.3,454.1 L226.0,456.1 L230.7,457.9 L235.4,459.5 L240.0,460.9 L243.0,461.7 L244.7,462.2 L249.4,463.4 L254.1,464.5 L258.8,465.5 L263.5,466.4 L268.2,467.3 L272.9,468.1 L277.6,469.0 L282.3,469.9 L287.0,470.8 L291.7,471.7 L295.2,472.5 L296.4,472.8 L301.1,473.9 L305.8,475.0 L310.5,476.2 L315.2,477.4 L319.9,478.6 L324.6,479.9 L329.3,481.2 L334.0,482.5 L336.7,483.3 L338.7,483.9 L343.4,485.3 L348.1,486.8 L352.8,488.4 L356.8,489.8 L357.5,490.0 L362.2,492.2 L366.8,493.9 L368.4,494.1 L371.5,494.1"/>
<path d="M47.5,278.4 L52.2,278.4 L56.9,278.4 L61.6,278.4 L66.3,278.4 L71.0,278.4 L75.3,278.4 L75.7,278.5 L80.4,285.6 L82.5,289.2 L85.1,292.4 L89.8,297.8 L91.8,300.0 L94.5,302.8 L99.2,307.5 L103.9,312.1 L108.6,317.0 L112.5,321.5 L113.2,322.4 L117.9,328.7 L122.6,335.7 L127.3,342.8 L127.5,343.1 L132.0,350.1 L136.7,357.8 L140.8,364.7 L141.4,365.7 L146.1,374.3 L150.8,382.9 L152.8,386.2 L155.5,390.9 L160.2,398.5 L164.9,405.5 L166.5,407.8 L169.6,411.9 L174.3,418.0 L179.0,423.5 L183.7,428.5 L184.6,429.4 L188.4,433.1 L193.1,437.4 L197.8,441.5 L202.5,445.2 L207.2,448.5 L211.5,451.0 L211.9,451.2 L216.6,453.5 L221.3,455.6 L226.0,457.4 L230.7,459.1 L235.4,460.6 L239.2,461.7 L240.0,462.0 L244.7,463.2 L249.4,464.4 L254.1,465.4 L258.8,466.4 L263.5,467.3 L268.2,468.2 L272.9,469.1 L277.6,470.0 L282.3,470.9 L287.0,472.0 L289.5,472.5 L291.7,473.1 L296.4,474.2 L301.1,475.4 L305.8,476.6 L310.5,477.8 L315.2,479.1 L319.9,480.4 L324.6,481.7 L329.3,483.1 L330.1,483.3 L334.0,484.5 L338.7,486.0 L343.4,487.6 L348.1,489.1 L350.1,489.8 L352.8,490.8 L357.5,492.9 L362.2,494.1 L362.7,494.1 L366.8,494.1 L371.5,494.1"/>
<path d="M47.5,278.4 L52.2,278.4 L56.9,278.4 L61.6,278.4 L66.3,278.4 L71.0,278.4 L75.7,278.4 L77.3,278.4 L80.4,281.6 L84.5,289.2 L85.1,290.0 L89.8,295.8 L93.3,300.0 L94.5,301.4 L99.2,306.7 L103.9,312.0 L108.6,317.6 L111.4,321.5 L113.2,324.2 L117.9,332.1 L122.6,340.7 L124.0,343.1 L127.3,349.5 L132.0,359.0 L134.6,364.7 L136.7,369.6 L141.4,381.6 L143.3,386.2 L146.1,392.5 L150.8,402.4 L153.6,407.8 L155.5,411.3 L160.2,419.4 L164.9,426.7 L166.8,429.4 L169.6,433.2 L174.3,439.4 L179.0,445.0 L183.7,449.6 L185.5,451.0 L188.4,452.9 L193.1,455.6 L197.8,457.9 L202.5,460.0 L206.9,461.7 L207.2,461.8 L211.9,463.6 L216.6,465.2 L221.3,466.7 L226.0,468.1 L230.7,469.4 L235.4,470.7 L240.0,472.1 L241.6,472.5 L244.7,473.4 L249.4,474.8 L254.1,476.1 L258.8,477.4 L263.5,478.6 L268.2,479.9 L272.9,481.2 L277.6,482.4 L280.9,483.3 L282.3,483.7 L287.0,485.0 L291.7,486.4 L296.4,487.7 L301.1,488.9 L304.9,489.8 L305.8,490.0 L310.5,491.2 L315.2,492.3 L319.9,493.3 L324.6,494.0 L327.7,494.1 L329.3,494.1 L334.0,494.1 L338.7,494.1 L343.4,494.1 L348.1,494.1 L352.8,494.1 L357.5,494.1 L362.2,494.1 L366.8,494.1 L371.5,494.1"/>
<path d="M47.5,278.4 L52.2,278.4 L56.9,278.4 L61.6,278.4 L66.3,278.4 L69.8,278.4 L71.0,279.5 L75.1,289.2 L75.7,290.2 L80.4,297.2 L82.5,300.0 L85.1,303.1 L89.8,308.3 L94.5,313.2 L99.2,318.1 L102.3,321.5 L103.9,323.4 L108.6,329.1 L113.2,334.9 L117.9,341.1 L119.4,343.1 L122.6,347.6 L127.3,354.5 L132.0,361.6 L134.0,364.7 L136.7,369.1 L141.4,376.9 L146.1,384.5 L147.2,386.2 L150.8,391.5 L155.5,398.3 L160.2,404.6 L162.8,407.8 L164.9,410.4 L169.6,416.0 L174.3,421.3 L179.0,426.2 L182.3,429.4 L183.7,430.7 L188.4,434.9 L193.1,439.0 L197.8,442.8 L202.5,446.3 L207.2,449.3 L210.2,451.0 L211.9,451.8 L216.6,454.0 L221.3,456.0 L226.0,457.8 L230.7,459.4 L235.4,460.9 L238.2,461.7 L240.0,462.2 L244.7,463.5 L249.4,464.6 L254.1,465.6 L258.8,466.5 L263.5,467.4 L268.2,468.3 L272.9,469.2 L277.6,470.2 L282.3,471.1 L287.0,472.2 L288.6,472.5 L291.7,473.3 L296.4,474.4 L301.1,475.6 L305.8,476.8 L310.5,478.0 L315.2,479.3 L319.9,480.6 L324.6,481.9 L329.3,483.3 L329.4,483.3 L334.0,484.7 L338.7,486.2 L343.4,487.8 L348.1,489.3 L349.5,489.8 L352.8,491.1 L357.5,493.1 L362.2,494.1 L362.4,494.1 L366.8,494.1 L371.5,494.1"/>
<path d="M47.5,278.4 L52.2,278.4 L56.9,278.4 L61.6,278.4 L66.3,278.4 L71.0,278.4 L75.7,278.4 L79.2,278.4 L80.4,278.8 L85.1,285.5 L87.6,289.2 L89.8,291.6 L94.5,296.3 L98.1,300.0 L99.2,301.0 L103.9,305.5 L108.6,310.0 L113.2,314.6 L117.9,319.8 L119.4,321.5 L122.6,326.0 L127.3,333.4 L132.0,341.3 L133.2,343.1 L136.7,348.9 L141.4,356.6 L146.1,364.5 L146.2,364.7 L150.8,373.1 L155.5,382.0 L157.9,386.2 L160.2,390.4 L164.9,398.5 L169.6,406.1 L170.8,407.8 L174.3,412.9 L179.0,419.3 L183.7,425.1 L187.5,429.4 L188.4,430.3 L193.1,435.1 L197.8,439.6 L202.5,443.8 L207.2,447.4 L211.9,450.5 L212.7,451.0 L216.6,453.0 L221.3,455.2 L226.0,457.2 L230.7,459.0 L235.4,460.5 L239.3,461.7 L240.0,462.0 L244.7,463.3 L249.4,464.4 L254.1,465.5 L258.8,466.5 L263.5,467.4 L268.2,468.3 L272.9,469.3 L277.6,470.2 L282.3,471.2 L287.0,472.3 L287.8,472.5 L291.7,473.5 L296.4,474.7 L301.1,476.0 L305.8,477.3 L310.5,478.6 L315.2,479.9 L319.9,481.3 L324.6,482.7 L326.6,483.3 L329.3,484.2 L334.0,485.7 L338.7,487.3 L343.4,488.9 L346.0,489.8 L348.1,490.6 L352.8,492.6 L357.5,494.0 L359.1,494.1 L362.2,494.1 L366.8,494.1 L371.5,494.1"/>
<path d="M47.5,278.4 L52.2,278.4 L56.9,278.4 L61.6,278.4 L65.7,278.4 L66.3,279.4 L68.2,289.2 L71.0,297.8 L71.9,300.0 L75.7,307.2 L80.4,314.1 L85.1,320.4 L85.9,321.5 L89.8,326.8 L94.5,332.6 L99.2,338.6 L102.4,343.1 L103.9,345.3 L108.6,353.0 L113.2,361.3 L115.1,364.7 L117.9,370.0 L122.6,379.4 L126.3,386.2 L127.3,387.9 L132.0,395.4 L136.7,402.4 L140.6,407.8 L141.4,409.0 L146.1,415.4 L150.8,421.5 L155.5,427.3 L157.3,429.4 L160.2,432.8 L164.9,438.3 L169.6,443.5 L174.3,448.0 L178.1,451.0 L179.0,451.6 L183.7,454.4 L188.4,456.8 L193.1,459.0 L197.8,461.0 L199.7,461.7 L202.5,462.8 L207.2,464.6 L211.9,466.2 L216.6,467.7 L221.3,469.2 L226.0,470.6 L230.7,472.0 L232.5,472.5 L235.4,473.4 L240.0,474.7 L244.7,476.0 L249.4,477.3 L254.1,478.6 L258.8,479.8 L263.5,481.1 L268.2,482.3 L272.0,483.3 L272.9,483.6 L277.6,484.8 L282.3,486.2 L287.0,487.4 L291.7,488.7 L296.4,489.7 L296.7,489.8 L301.1,490.8 L305.8,491.9 L310.5,492.9 L315.2,493.7 L319.9,494.1 L321.2,494.1 L324.6,494.1 L329.3,494.1 L334.0,494.1 L338.7,494.1 L343.4,494.1 L348.1,494.1 L352.8,494.1 L357.5,494.1 L362.2,494.1 L366.8,494.1 L371.5,494.1"/>
<path d="M47.5,278.4 L52.2,278.4 L56.9,278.4 L61.6,278.4 L65.3,278.4 L66.3,280.5 L68.4,289.2 L71.0,295.7 L73.1,300.0 L75.7,304.2 L80.4,310.6 L85.1,316.1 L89.7,321.5 L89.8,321.6 L94.5,327.2 L99.2,332.5 L103.9,338.0 L108.0,343.1 L108.6,343.9 L113.2,350.3 L117.9,357.2 L122.6,364.2 L122.9,364.7 L127.3,371.6 L132.0,379.2 L136.7,386.2 L136.7,386.3 L141.4,392.9 L146.1,399.2 L150.8,405.2 L153.0,407.8 L155.5,410.9 L160.2,416.5 L164.9,421.8 L169.6,426.8 L172.2,429.4 L174.3,431.4 L179.0,436.0 L183.7,440.3 L188.4,444.4 L193.1,448.0 L197.8,450.9 L197.8,451.0 L202.5,453.4 L207.2,455.6 L211.9,457.6 L216.6,459.4 L221.3,461.0 L223.7,461.7 L226.0,462.4 L230.7,463.8 L235.4,465.0 L240.0,466.2 L244.7,467.2 L249.4,468.3 L254.1,469.3 L258.8,470.3 L263.5,471.4 L268.0,472.5 L268.2,472.6 L272.9,473.8 L277.6,475.0 L282.3,476.2 L287.0,477.4 L291.7,478.6 L296.4,479.8 L301.1,481.1 L305.8,482.3 L309.4,483.3 L310.5,483.6 L315.2,485.0 L319.9,486.4 L324.6,487.7 L329.3,489.1 L331.8,489.8 L334.0,490.4 L338.7,492.0 L343.4,493.3 L348.1,494.1 L349.1,494.1 L352.8,494.1 L357.5,494.1 L362.2,494.1 L366.8,494.1 L371.5,494.1"/>
<path d="M47.5,278.4 L52.2,278.4 L56.9,278.4 L61.6,278.4 L66.3,278.4 L71.0,278.4 L74.8,278.4 L75.7,278.7 L80.4,287.0 L81.7,289.2 L85.1,293.6 L89.8,299.2 L90.4,300.0 L94.5,304.4 L99.2,309.2 L103.9,314.1 L108.6,319.3 L110.4,321.5 L113.2,325.2 L117.9,331.8 L122.6,338.8 L125.5,343.1 L127.3,346.0 L132.0,353.4 L136.7,361.2 L138.7,364.7 L141.4,369.5 L146.1,378.5 L150.4,386.2 L150.8,387.1 L155.5,395.1 L160.2,402.8 L163.6,407.8 L164.9,409.8 L169.6,416.3 L174.3,422.4 L179.0,427.8 L180.4,429.4 L183.7,432.8 L188.4,437.5 L193.1,441.9 L197.8,445.8 L202.5,449.2 L205.4,451.0 L207.2,451.9 L211.9,454.3 L216.6,456.4 L221.3,458.2 L226.0,459.9 L230.7,461.4 L231.7,461.7 L235.4,462.8 L240.0,464.1 L244.7,465.2 L249.4,466.3 L254.1,467.3 L258.8,468.2 L263.5,469.2 L268.2,470.2 L272.9,471.2 L277.6,472.3 L278.6,472.5 L282.3,473.4 L287.0,474.6 L291.7,475.8 L296.4,477.1 L301.1,478.3 L305.8,479.6 L310.5,480.8 L315.2,482.2 L319.3,483.3 L319.9,483.5 L324.6,484.9 L329.3,486.3 L334.0,487.8 L338.7,489.3 L340.4,489.8 L343.4,490.8 L348.1,492.6 L352.8,493.9 L355.4,494.1 L357.5,494.1 L362.2,494.1 L366.8,494.1 L371.5,494.1"/>
<path d="M47.5,278.4 L52.2,278.4 L56.9,278.4 L61.6,278.4 L66.3,278.4 L71.0,278.4 L75.7,278.4 L76.6,278.4 L80.4,282.7 L84.0,289.2 L85.1,290.5 L89.8,296.0 L93.3,300.0 L94.5,301.2 L99.2,306.2 L103.9,310.9 L108.6,315.9 L113.2,321.5 L113.3,321.5 L117.9,327.9 L122.6,335.1 L127.3,342.6 L127.7,343.1 L132.0,350.0 L136.7,357.6 L140.9,364.7 L141.4,365.5 L146.1,374.1 L150.8,382.7 L152.8,386.2 L155.5,390.9 L160.2,398.8 L164.9,406.3 L165.9,407.8 L169.6,413.2 L174.3,419.7 L179.0,425.7 L182.2,429.4 L183.7,431.0 L188.4,436.1 L193.1,440.8 L197.8,445.2 L202.5,448.9 L205.7,451.0 L207.2,451.8 L211.9,454.3 L216.6,456.5 L221.3,458.4 L226.0,460.1 L230.7,461.7 L230.8,461.7 L235.4,463.1 L240.0,464.4 L244.7,465.6 L249.4,466.6 L254.1,467.7 L258.8,468.7 L263.5,469.7 L268.2,470.8 L272.9,471.9 L275.6,472.5 L277.6,473.1 L282.3,474.3 L287.0,475.5 L291.7,476.8 L296.4,478.1 L301.1,479.4 L305.8,480.7 L310.5,482.1 L314.8,483.3 L315.2,483.4 L319.9,484.9 L324.6,486.4 L329.3,487.8 L334.0,489.3 L335.7,489.8 L338.7,490.8 L343.4,492.4 L348.1,493.7 L351.5,494.1 L352.8,494.1 L357.5,494.1 L362.2,494.1 L366.8,494.1 L371.5,494.1"/>
<path d="M47.5,278.4 L52.2,278.4 L56.9,278.4 L61.6,278.4 L66.3,278.4 L66.4,278.4 L70.4,289.2 L71.0,290.4 L75.7,298.8 L76.5,300.0 L80.4,305.1 L85.1,310.4 L89.8,315.3 L94.5,320.2 L95.6,321.5 L99.2,325.5 L103.9,330.7 L108.6,336.0 L113.2,341.6 L114.5,343.1 L117.9,347.5 L122.6,353.9 L127.3,360.5 L130.3,364.7 L132.0,367.2 L136.7,374.3 L141.4,381.4 L144.8,386.2 L146.1,388.1 L150.8,394.3 L155.5,400.4 L160.2,406.1 L161.7,407.8 L164.9,411.5 L169.6,416.7 L174.3,421.7 L179.0,426.3 L182.3,429.4 L183.7,430.6 L188.4,434.7 L193.1,438.6 L197.8,442.3 L202.5,445.7 L207.2,448.7 L211.2,451.0 L211.9,451.3 L216.6,453.5 L221.3,455.5 L226.0,457.3 L230.7,459.0 L235.4,460.5 L239.7,461.7 L240.0,461.8 L244.7,463.1 L249.4,464.2 L254.1,465.2 L258.8,466.2 L263.5,467.1 L268.2,467.9 L272.9,468.8 L277.6,469.7 L282.3,470.6 L287.0,471.6 L291.0,472.5 L291.7,472.7 L296.4,473.8 L301.1,475.0 L305.8,476.1 L310.5,477.3 L315.2,478.6 L319.9,479.9 L324.6,481.2 L329.3,482.5 L332.1,483.3 L334.0,483.9 L338.7,485.3 L343.4,486.9 L348.1,488.4 L352.1,489.8 L352.8,490.0 L357.5,492.1 L362.2,493.8 L364.4,494.1 L366.8,494.1 L371.5,494.1"/>
<path d="M47.5,278.4 L52.2,278.4 L56.9,278.4 L61.6,278.4 L66.3,278.4 L69.5,278.4 L71.0,280.2 L74.5,289.2 L75.7,291.3 L80.4,298.5 L81.4,300.0 L85.1,304.5 L89.8,309.8 L94.5,314.7 L99.2,319.8 L100.7,321.5 L103.9,325.3 L108.6,331.0 L113.2,336.9 L117.9,343.1 L117.9,343.1 L122.6,349.8 L127.3,356.9 L132.0,364.3 L132.3,364.7 L136.7,372.2 L141.4,380.4 L145.0,386.2 L146.1,388.1 L150.8,395.3 L155.5,402.1 L159.7,407.8 L160.2,408.4 L164.9,414.4 L169.6,420.0 L174.3,425.3 L178.4,429.4 L179.0,430.0 L183.7,434.4 L188.4,438.7 L193.1,442.6 L197.8,446.2 L202.5,449.4 L205.3,451.0 L207.2,451.9 L211.9,454.2 L216.6,456.2 L221.3,458.0 L226.0,459.6 L230.7,461.1 L232.9,461.7 L235.4,462.5 L240.0,463.7 L244.7,464.8 L249.4,465.8 L254.1,466.8 L258.8,467.8 L263.5,468.7 L268.2,469.6 L272.9,470.6 L277.6,471.6 L281.7,472.5 L282.3,472.7 L287.0,473.8 L291.7,474.9 L296.4,476.1 L301.1,477.3 L305.8,478.5 L310.5,479.7 L315.2,481.0 L319.9,482.3 L323.6,483.3 L324.6,483.6 L329.3,485.0 L334.0,486.4 L338.7,487.9 L343.4,489.3 L344.8,489.8 L348.1,490.9 L352.8,492.8 L357.5,494.0 L359.1,494.1 L362.2,494.1 L366.8,494.1 L371.5,494.1"/>
<path d="M47.5,278.4 L52.2,278.4 L56.9,278.4 L61.6,278.4 L66.3,278.4 L70.7,278.4 L71.0,278.5 L75.7,288.6 L76.0,289.2 L80.4,296.2 L83.1,300.0 L85.1,302.5 L89.8,308.0 L94.5,313.1 L99.2,318.2 L102.0,321.5 L103.9,323.8 L108.6,329.7 L113.2,335.7 L117.9,342.0 L118.7,343.1 L122.6,348.7 L127.3,355.8 L132.0,363.2 L132.9,364.7 L136.7,371.1 L141.4,379.5 L145.4,386.2 L146.1,387.4 L150.8,394.9 L155.5,402.1 L159.5,407.8 L160.2,408.8 L164.9,415.2 L169.6,421.2 L174.3,426.8 L176.7,429.4 L179.0,431.7 L183.7,436.5 L188.4,441.0 L193.1,445.1 L197.8,448.7 L201.4,451.0 L202.5,451.5 L207.2,454.0 L211.9,456.1 L216.6,458.0 L221.3,459.7 L226.0,461.3 L227.4,461.7 L230.7,462.7 L235.4,464.0 L240.0,465.2 L244.7,466.3 L249.4,467.3 L254.1,468.3 L258.8,469.3 L263.5,470.3 L268.2,471.3 L272.9,472.5 L273.2,472.5 L277.6,473.6 L282.3,474.8 L287.0,476.0 L291.7,477.2 L296.4,478.4 L301.1,479.6 L305.8,480.9 L310.5,482.1 L314.7,483.3 L315.2,483.4 L319.9,484.8 L324.6,486.2 L329.3,487.6 L334.0,489.0 L336.9,489.8 L338.7,490.3 L343.4,492.0 L348.1,493.4 L352.8,494.1 L353.0,494.1 L357.5,494.1 L362.2,494.1 L366.8,494.1 L371.5,494.1"/>
<path d="M47.5,278.4 L52.2,278.4 L56.9,278.4 L61.6,278.4 L66.3,278.4 L71.0,278.4 L75.7,278.4 L78.3,278.4 L80.4,279.7 L85.1,287.5 L86.2,289.2 L89.8,293.2 L94.5,298.1 L96.2,300.0 L99.2,303.1 L103.9,307.7 L108.6,312.4 L113.2,317.5 L116.6,321.5 L117.9,323.4 L122.6,330.6 L127.3,338.5 L130.0,343.1 L132.0,346.5 L136.7,354.6 L141.4,363.1 L142.2,364.7 L146.1,372.5 L150.8,382.4 L152.8,386.2 L155.5,391.6 L160.2,400.4 L164.5,407.8 L164.9,408.4 L169.6,415.8 L174.3,422.5 L179.0,428.6 L179.7,429.4 L183.7,434.0 L188.4,439.2 L193.1,443.9 L197.8,448.0 L202.0,451.0 L202.5,451.3 L207.2,453.9 L211.9,456.2 L216.6,458.2 L221.3,460.0 L226.0,461.7 L226.2,461.7 L230.7,463.1 L235.4,464.5 L240.0,465.7 L244.7,466.8 L249.4,467.9 L254.1,469.0 L258.8,470.1 L263.5,471.2 L268.2,472.4 L268.7,472.5 L272.9,473.7 L277.6,474.9 L282.3,476.2 L287.0,477.5 L291.7,478.9 L296.4,480.2 L301.1,481.5 L305.8,482.9 L307.2,483.3 L310.5,484.3 L315.2,485.8 L319.9,487.3 L324.6,488.8 L328.2,489.8 L329.3,490.1 L334.0,491.6 L338.7,493.1 L343.4,494.0 L345.3,494.1 L348.1,494.1 L352.8,494.1 L357.5,494.1 L362.2,494.1 L366.8,494.1 L371.5,494.1"/>
<path d="M47.5,278.4 L52.2,278.4 L56.9,278.4 L61.6,278.4 L63.2,278.4 L65.3,289.2 L66.3,293.1 L68.6,300.0 L71.0,304.7 L75.7,312.0 L80.4,317.9 L83.3,321.5 L85.1,323.8 L89.8,329.4 L94.5,334.7 L99.2,340.2 L101.4,343.1 L103.9,346.6 L108.6,353.7 L113.2,361.2 L115.4,364.7 L117.9,369.1 L122.6,377.5 L127.3,385.5 L127.8,386.2 L132.0,392.6 L136.7,399.3 L141.4,405.6 L143.1,407.8 L146.1,411.7 L150.8,417.7 L155.5,423.3 L160.2,428.7 L160.9,429.4 L164.9,433.8 L169.6,438.8 L174.3,443.6 L179.0,447.7 L183.4,451.0 L183.7,451.1 L188.4,453.8 L193.1,456.2 L197.8,458.3 L202.5,460.2 L206.7,461.7 L207.2,461.9 L211.9,463.5 L216.6,465.0 L221.3,466.4 L226.0,467.7 L230.7,469.0 L235.4,470.2 L240.0,471.5 L243.9,472.5 L244.7,472.8 L249.4,474.0 L254.1,475.3 L258.8,476.5 L263.5,477.7 L268.2,478.9 L272.9,480.1 L277.6,481.3 L282.3,482.5 L285.3,483.3 L287.0,483.8 L291.7,485.0 L296.4,486.3 L301.1,487.6 L305.8,488.8 L310.0,489.8 L310.5,489.9 L315.2,491.1 L319.9,492.3 L324.6,493.3 L329.3,494.0 L332.2,494.1 L334.0,494.1 L338.7,494.1 L343.4,494.1 L348.1,494.1 L352.8,494.1 L357.5,494.1 L362.2,494.1 L366.8,494.1 L371.5,494.1"/>
<path d="M47.5,278.4 L52.2,278.4 L56.9,278.4 L61.6,278.4 L66.3,278.4 L71.0,278.4 L73.7,278.4 L75.7,280.2 L80.0,289.2 L80.4,289.7 L85.1,296.0 L88.2,300.0 L89.8,301.8 L94.5,307.1 L99.2,312.1 L103.9,317.4 L107.3,321.5 L108.6,323.2 L113.2,329.8 L117.9,336.8 L122.0,343.1 L122.6,344.0 L127.3,351.7 L132.0,359.7 L134.9,364.7 L136.7,368.0 L141.4,376.9 L146.1,385.5 L146.6,386.2 L150.8,393.2 L155.5,400.5 L160.2,407.3 L160.6,407.8 L164.9,413.5 L169.6,419.5 L174.3,425.0 L178.4,429.4 L179.0,430.0 L183.7,434.7 L188.4,439.2 L193.1,443.4 L197.8,447.2 L202.5,450.4 L203.5,451.0 L207.2,452.9 L211.9,455.2 L216.6,457.2 L221.3,459.0 L226.0,460.7 L229.3,461.7 L230.7,462.2 L235.4,463.5 L240.0,464.8 L244.7,465.9 L249.4,466.9 L254.1,468.0 L258.8,469.0 L263.5,470.0 L268.2,471.1 L272.9,472.2 L274.2,472.5 L277.6,473.4 L282.3,474.6 L287.0,475.9 L291.7,477.2 L296.4,478.5 L301.1,479.8 L305.8,481.1 L310.5,482.5 L313.4,483.3 L315.2,483.9 L319.9,485.3 L324.6,486.8 L329.3,488.3 L334.0,489.8 L334.1,489.8 L338.7,491.3 L343.4,492.9 L348.1,494.0 L350.0,494.1 L352.8,494.1 L357.5,494.1 L362.2,494.1 L366.8,494.1 L371.5,494.1"/>
<path d="M47.5,278.4 L52.2,278.4 L56.9,278.4 L61.6,278.4 L66.3,278.4 L67.6,278.4 L71.0,287.2 L71.7,289.2 L75.7,296.9 L77.6,300.0 L80.4,304.0 L85.1,309.9 L89.8,315.2 L94.5,320.6 L95.2,321.5 L99.2,326.3 L103.9,332.0 L108.6,337.8 L112.6,343.1 L113.2,344.0 L117.9,350.7 L122.6,357.8 L127.1,364.7 L127.3,365.1 L132.0,372.8 L136.7,380.6 L140.4,386.2 L141.4,387.8 L146.1,394.6 L150.8,400.9 L155.5,407.0 L156.2,407.8 L160.2,412.7 L164.9,418.3 L169.6,423.5 L174.3,428.4 L175.4,429.4 L179.0,432.9 L183.7,437.3 L188.4,441.5 L193.1,445.4 L197.8,448.8 L201.4,451.0 L202.5,451.6 L207.2,453.9 L211.9,456.1 L216.6,458.0 L221.3,459.7 L226.0,461.2 L227.6,461.7 L230.7,462.7 L235.4,464.0 L240.0,465.1 L244.7,466.2 L249.4,467.3 L254.1,468.3 L258.8,469.3 L263.5,470.3 L268.2,471.4 L272.9,472.5 L273.0,472.5 L277.6,473.7 L282.3,474.9 L287.0,476.1 L291.7,477.3 L296.4,478.6 L301.1,479.9 L305.8,481.1 L310.5,482.5 L313.5,483.3 L315.2,483.8 L319.9,485.2 L324.6,486.6 L329.3,488.1 L334.0,489.5 L335.1,489.8 L338.7,491.0 L343.4,492.6 L348.1,493.8 L351.2,494.1 L352.8,494.1 L357.5,494.1 L362.2,494.1 L366.8,494.1 L371.5,494.1"/>
<path d="M47.5,278.4 L52.2,278.4 L56.9,278.4 L61.6,278.4 L63.8,278.4 L66.0,289.2 L66.3,290.2 L69.6,300.0 L71.0,302.7 L75.7,310.3 L80.4,316.2 L84.7,321.5 L85.1,322.0 L89.8,327.6 L94.5,332.9 L99.2,338.3 L102.9,343.1 L103.9,344.4 L108.6,351.3 L113.2,358.8 L116.8,364.7 L117.9,366.7 L122.6,375.6 L127.3,384.4 L128.4,386.2 L132.0,392.3 L136.7,399.6 L141.4,406.5 L142.3,407.8 L146.1,413.1 L150.8,419.5 L155.5,425.5 L158.9,429.4 L160.2,430.9 L164.9,436.2 L169.6,441.3 L174.3,445.9 L179.0,449.8 L180.8,451.0 L183.7,452.7 L188.4,455.2 L193.1,457.4 L197.8,459.4 L202.5,461.2 L204.1,461.7 L207.2,462.8 L211.9,464.4 L216.6,465.8 L221.3,467.2 L226.0,468.4 L230.7,469.7 L235.4,470.9 L240.0,472.2 L241.4,472.5 L244.7,473.4 L249.4,474.7 L254.1,475.8 L258.8,477.0 L263.5,478.2 L268.2,479.3 L272.9,480.5 L277.6,481.7 L282.3,482.8 L284.2,483.3 L287.0,484.0 L291.7,485.3 L296.4,486.5 L301.1,487.7 L305.8,488.9 L309.8,489.8 L310.5,489.9 L315.2,491.1 L319.9,492.3 L324.6,493.3 L329.3,494.0 L332.4,494.1 L334.0,494.1 L338.7,494.1 L343.4,494.1 L348.1,494.1 L352.8,494.1 L357.5,494.1 L362.2,494.1 L366.8,494.1 L371.5,494.1"/>
<path d="M47.5,278.4 L52.2,278.4 L56.9,278.4 L61.6,278.4 L66.3,278.4 L71.0,278.4 L71.3,278.4 L75.7,286.0 L77.3,289.2 L80.4,293.6 L85.1,299.5 L85.5,300.0 L89.8,304.7 L94.5,309.5 L99.2,314.0 L103.9,318.8 L106.3,321.5 L108.6,324.1 L113.2,329.7 L117.9,335.6 L122.6,341.8 L123.6,343.1 L127.3,348.2 L132.0,354.9 L136.7,361.9 L138.5,364.7 L141.4,369.3 L146.1,377.1 L150.8,384.9 L151.7,386.2 L155.5,392.2 L160.2,399.3 L164.9,406.0 L166.2,407.8 L169.6,412.2 L174.3,418.1 L179.0,423.6 L183.7,428.6 L184.5,429.4 L188.4,433.1 L193.1,437.4 L197.8,441.5 L202.5,445.2 L207.2,448.4 L211.6,451.0 L211.9,451.1 L216.6,453.4 L221.3,455.5 L226.0,457.3 L230.7,459.0 L235.4,460.5 L239.6,461.7 L240.0,461.9 L244.7,463.1 L249.4,464.2 L254.1,465.3 L258.8,466.2 L263.5,467.1 L268.2,468.0 L272.9,468.9 L277.6,469.8 L282.3,470.7 L287.0,471.7 L290.9,472.5 L291.7,472.7 L296.4,473.8 L301.1,475.0 L305.8,476.1 L310.5,477.3 L315.2,478.5 L319.9,479.8 L324.6,481.1 L329.3,482.4 L332.6,483.3 L334.0,483.7 L338.7,485.1 L343.4,486.6 L348.1,488.1 L352.8,489.6 L353.2,489.8 L357.5,491.5 L362.2,493.5 L365.7,494.1 L366.8,494.1 L371.5,494.1"/>
<path d="M47.5,278.4 L52.2,278.4 L56.9,278.4 L61.6,278.4 L66.3,278.4 L71.0,278.4 L71.9,278.4 L75.7,285.9 L77.1,289.2 L80.4,294.8 L83.9,300.0 L85.1,301.7 L89.8,307.7 L94.5,313.3 L99.2,318.9 L101.2,321.5 L103.9,325.1 L108.6,331.5 L113.2,338.1 L116.6,343.1 L117.9,345.2 L122.6,352.8 L127.3,360.8 L129.5,364.7 L132.0,369.4 L136.7,378.7 L140.7,386.2 L141.4,387.6 L146.1,395.8 L150.8,403.5 L153.6,407.8 L155.5,410.7 L160.2,417.6 L164.9,424.0 L169.2,429.4 L169.6,429.8 L174.3,435.3 L179.0,440.6 L183.7,445.3 L188.4,449.3 L190.8,451.0 L193.1,452.4 L197.8,455.0 L202.5,457.2 L207.2,459.2 L211.9,460.9 L214.1,461.7 L216.6,462.6 L221.3,464.1 L226.0,465.5 L230.7,466.8 L235.4,468.0 L240.0,469.2 L244.7,470.3 L249.4,471.5 L253.2,472.5 L254.1,472.8 L258.8,474.1 L263.5,475.3 L268.2,476.5 L272.9,477.8 L277.6,479.0 L282.3,480.3 L287.0,481.5 L291.7,482.8 L293.7,483.3 L296.4,484.1 L301.1,485.4 L305.8,486.8 L310.5,488.1 L315.2,489.3 L317.2,489.8 L319.9,490.5 L324.6,491.8 L329.3,493.0 L334.0,493.9 L337.5,494.1 L338.7,494.1 L343.4,494.1 L348.1,494.1 L352.8,494.1 L357.5,494.1 L362.2,494.1 L366.8,494.1 L371.5,494.1"/>
<path d="M47.5,278.4 L52.2,278.4 L56.9,278.4 L61.6,278.4 L66.3,278.4 L68.6,278.4 L71.0,284.6 L72.4,289.2 L75.7,296.5 L77.6,300.0 L80.4,304.4 L85.1,310.8 L89.8,316.7 L93.5,321.5 L94.5,322.8 L99.2,328.8 L103.9,334.9 L108.6,341.3 L109.8,343.1 L113.2,348.5 L117.9,356.4 L122.6,364.7 L122.6,364.8 L127.3,374.1 L132.0,383.7 L133.4,386.2 L136.7,392.2 L141.4,400.0 L146.1,407.3 L146.4,407.8 L150.8,414.2 L155.5,420.8 L160.2,426.8 L162.4,429.4 L164.9,432.3 L169.6,437.7 L174.3,442.8 L179.0,447.2 L183.7,450.8 L183.9,451.0 L188.4,453.6 L193.1,456.0 L197.8,458.1 L202.5,460.0 L207.1,461.7 L207.2,461.8 L211.9,463.4 L216.6,464.9 L221.3,466.3 L226.0,467.6 L230.7,468.9 L235.4,470.1 L240.0,471.3 L244.5,472.5 L244.7,472.6 L249.4,473.9 L254.1,475.1 L258.8,476.3 L263.5,477.6 L268.2,478.8 L272.9,480.0 L277.6,481.2 L282.3,482.4 L286.0,483.3 L287.0,483.6 L291.7,484.9 L296.4,486.2 L301.1,487.4 L305.8,488.7 L310.5,489.8 L310.5,489.8 L315.2,490.9 L319.9,492.2 L324.6,493.2 L329.3,493.9 L332.5,494.1 L334.0,494.1 L338.7,494.1 L343.4,494.1 L348.1,494.1 L352.8,494.1 L357.5,494.1 L362.2,494.1 L366.8,494.1 L371.5,494.1"/>
<path d="M47.5,278.4 L52.2,278.4 L56.9,278.4 L61.6,278.4 L66.3,278.4 L66.9,278.4 L69.9,289.2 L71.0,292.3 L74.1,300.0 L75.7,302.8 L80.4,310.3 L85.1,316.6 L88.8,321.5 L89.8,322.9 L94.5,329.0 L99.2,334.8 L103.9,341.1 L105.3,343.1 L108.6,348.1 L113.2,355.7 L117.9,363.8 L118.4,364.7 L122.6,372.4 L127.3,381.4 L130.1,386.2 L132.0,389.5 L136.7,396.9 L141.4,403.9 L144.2,407.8 L146.1,410.6 L150.8,417.1 L155.5,423.3 L160.2,429.1 L160.4,429.4 L164.9,434.8 L169.6,440.3 L174.3,445.4 L179.0,449.7 L180.7,451.0 L183.7,452.9 L188.4,455.5 L193.1,457.9 L197.8,459.9 L202.3,461.7 L202.5,461.8 L207.2,463.6 L211.9,465.2 L216.6,466.8 L221.3,468.2 L226.0,469.6 L230.7,471.0 L235.4,472.4 L235.9,472.5 L240.0,473.7 L244.7,475.1 L249.4,476.4 L254.1,477.6 L258.8,478.9 L263.5,480.1 L268.2,481.4 L272.9,482.6 L275.6,483.3 L277.6,483.8 L282.3,485.1 L287.0,486.5 L291.7,487.7 L296.4,488.9 L300.3,489.8 L301.1,490.0 L305.8,491.1 L310.5,492.2 L315.2,493.2 L319.9,493.9 L324.3,494.1 L324.6,494.1 L329.3,494.1 L334.0,494.1 L338.7,494.1 L343.4,494.1 L348.1,494.1 L352.8,494.1 L357.5,494.1 L362.2,494.1 L366.8,494.1 L371.5,494.1"/>
<path d="M47.5,278.4 L52.2,278.4 L56.9,278.4 L61.6,278.4 L64.4,278.4 L66.3,285.4 L67.1,289.2 L71.0,299.4 L71.3,300.0 L75.7,307.2 L80.4,313.4 L85.1,318.9 L87.2,321.5 L89.8,324.7 L94.5,330.2 L99.2,335.6 L103.9,341.4 L105.2,343.1 L108.6,347.9 L113.2,355.1 L117.9,362.7 L119.1,364.7 L122.6,370.7 L127.3,379.1 L131.6,386.2 L132.0,387.0 L136.7,393.9 L141.4,400.5 L146.1,406.6 L147.1,407.8 L150.8,412.5 L155.5,418.1 L160.2,423.4 L164.9,428.3 L166.0,429.4 L169.6,432.9 L174.3,437.5 L179.0,441.8 L183.7,445.7 L188.4,449.1 L191.4,451.0 L193.1,451.9 L197.8,454.3 L202.5,456.4 L207.2,458.3 L211.9,460.0 L216.6,461.6 L217.1,461.7 L221.3,463.0 L226.0,464.4 L230.7,465.6 L235.4,466.8 L240.0,467.9 L244.7,469.0 L249.4,470.0 L254.1,471.1 L258.8,472.3 L259.8,472.5 L263.5,473.5 L268.2,474.7 L272.9,475.8 L277.6,477.0 L282.3,478.2 L287.0,479.4 L291.7,480.6 L296.4,481.8 L301.1,483.1 L302.0,483.3 L305.8,484.4 L310.5,485.7 L315.2,487.0 L319.9,488.3 L324.6,489.6 L325.3,489.8 L329.3,490.9 L334.0,492.3 L338.7,493.5 L343.4,494.1 L344.1,494.1 L348.1,494.1 L352.8,494.1 L357.5,494.1 L362.2,494.1 L366.8,494.1 L371.5,494.1"/>
<path d="M47.5,278.4 L52.2,278.4 L56.9,278.4 L61.6,278.4 L66.3,278.4 L71.0,278.4 L75.7,278.4 L75.9,278.4 L80.4,284.0 L83.4,289.2 L85.1,291.3 L89.8,296.5 L93.0,300.0 L94.5,301.5 L99.2,306.2 L103.9,310.7 L108.6,315.4 L113.2,320.6 L114.0,321.5 L117.9,326.6 L122.6,333.5 L127.3,340.7 L128.9,343.1 L132.0,348.0 L136.7,355.5 L141.4,363.3 L142.2,364.7 L146.1,371.7 L150.8,380.4 L154.2,386.2 L155.5,388.5 L160.2,396.3 L164.9,403.5 L167.9,407.8 L169.6,410.1 L174.3,416.3 L179.0,422.0 L183.7,427.1 L185.9,429.4 L188.4,431.8 L193.1,436.1 L197.8,440.3 L202.5,444.1 L207.2,447.4 L211.9,450.3 L213.1,451.0 L216.6,452.7 L221.3,454.8 L226.0,456.8 L230.7,458.5 L235.4,460.0 L240.0,461.5 L241.1,461.7 L244.7,462.7 L249.4,463.9 L254.1,464.9 L258.8,465.9 L263.5,466.8 L268.2,467.7 L272.9,468.6 L277.6,469.5 L282.3,470.4 L287.0,471.4 L291.7,472.4 L292.2,472.5 L296.4,473.5 L301.1,474.7 L305.8,475.9 L310.5,477.1 L315.2,478.3 L319.9,479.6 L324.6,480.9 L329.3,482.3 L332.9,483.3 L334.0,483.6 L338.7,485.1 L343.4,486.6 L348.1,488.2 L352.7,489.8 L352.8,489.8 L357.5,491.9 L362.2,493.7 L364.8,494.1 L366.8,494.1 L371.5,494.1"/>
<path d="M47.5,278.4 L52.2,278.4 L56.9,278.4 L61.6,278.4 L62.7,278.4 L64.5,289.2 L66.3,295.9 L67.7,300.0 L71.0,306.2 L75.7,313.0 L80.4,318.7 L82.7,321.5 L85.1,324.5 L89.8,329.8 L94.5,335.0 L99.2,340.5 L101.1,343.1 L103.9,347.0 L108.6,354.2 L113.2,362.0 L114.8,364.7 L117.9,370.3 L122.6,379.4 L126.4,386.2 L127.3,387.8 L132.0,395.2 L136.7,402.1 L140.8,407.8 L141.4,408.6 L146.1,414.8 L150.8,420.8 L155.5,426.3 L158.4,429.4 L160.2,431.3 L164.9,436.3 L169.6,441.0 L174.3,445.3 L179.0,449.0 L182.0,451.0 L183.7,452.0 L188.4,454.4 L193.1,456.6 L197.8,458.5 L202.5,460.3 L206.6,461.7 L207.2,461.9 L211.9,463.4 L216.6,464.9 L221.3,466.2 L226.0,467.4 L230.7,468.6 L235.4,469.8 L240.0,470.9 L244.7,472.1 L246.4,472.5 L249.4,473.3 L254.1,474.5 L258.8,475.6 L263.5,476.8 L268.2,477.9 L272.9,479.0 L277.6,480.2 L282.3,481.3 L287.0,482.4 L290.6,483.3 L291.7,483.6 L296.4,484.8 L301.1,486.0 L305.8,487.3 L310.5,488.4 L315.2,489.6 L316.2,489.8 L319.9,490.7 L324.6,491.9 L329.3,493.1 L334.0,493.9 L337.7,494.1 L338.7,494.1 L343.4,494.1 L348.1,494.1 L352.8,494.1 L357.5,494.1 L362.2,494.1 L366.8,494.1 L371.5,494.1"/>
<path d="M47.5,278.4 L52.2,278.4 L56.9,278.4 L61.6,278.4 L66.3,278.4 L68.0,278.4 L71.0,284.9 L72.6,289.2 L75.7,294.8 L79.1,300.0 L80.4,301.6 L85.1,307.3 L89.8,312.3 L94.5,317.2 L98.3,321.5 L99.2,322.5 L103.9,327.9 L108.6,333.4 L113.2,339.2 L116.3,343.1 L117.9,345.3 L122.6,351.9 L127.3,358.9 L131.2,364.7 L132.0,366.0 L136.7,373.7 L141.4,381.4 L144.6,386.2 L146.1,388.6 L150.8,395.3 L155.5,401.8 L160.2,407.8 L160.3,407.8 L164.9,413.4 L169.6,418.8 L174.3,423.9 L179.0,428.5 L179.9,429.4 L183.7,432.8 L188.4,437.0 L193.1,440.9 L197.8,444.5 L202.5,447.8 L207.2,450.6 L208.0,451.0 L211.9,452.9 L216.6,455.0 L221.3,456.9 L226.0,458.6 L230.7,460.1 L235.4,461.5 L236.1,461.7 L240.0,462.8 L244.7,464.0 L249.4,465.0 L254.1,466.0 L258.8,467.0 L263.5,467.9 L268.2,468.8 L272.9,469.7 L277.6,470.6 L282.3,471.6 L286.4,472.5 L287.0,472.7 L291.7,473.8 L296.4,474.9 L301.1,476.1 L305.8,477.3 L310.5,478.5 L315.2,479.8 L319.9,481.0 L324.6,482.3 L328.0,483.3 L329.3,483.7 L334.0,485.1 L338.7,486.6 L343.4,488.1 L348.1,489.6 L348.7,489.8 L352.8,491.4 L357.5,493.3 L362.0,494.1 L362.2,494.1 L366.8,494.1 L371.5,494.1"/>
<path d="M47.5,278.4 L52.2,278.4 L56.9,278.4 L61.6,278.4 L66.3,278.4 L71.0,278.4 L74.2,278.4 L75.7,279.3 L80.4,287.8 L81.3,289.2 L85.1,293.8 L89.8,299.0 L90.7,300.0 L94.5,303.9 L99.2,308.4 L103.9,312.8 L108.6,317.5 L112.2,321.5 L113.2,322.7 L117.9,328.6 L122.6,335.1 L127.3,341.7 L128.3,343.1 L132.0,348.4 L136.7,355.4 L141.4,362.7 L142.7,364.7 L146.1,370.4 L150.8,378.5 L155.4,386.2 L155.5,386.4 L160.2,394.0 L164.9,401.3 L169.4,407.8 L169.6,408.1 L174.3,414.3 L179.0,420.2 L183.7,425.7 L187.3,429.4 L188.4,430.4 L193.1,434.9 L197.8,439.1 L202.5,443.1 L207.2,446.6 L211.9,449.6 L214.3,451.0 L216.6,452.1 L221.3,454.3 L226.0,456.3 L230.7,458.0 L235.4,459.6 L240.0,461.1 L242.5,461.7 L244.7,462.4 L249.4,463.5 L254.1,464.6 L258.8,465.6 L263.5,466.5 L268.2,467.4 L272.9,468.2 L277.6,469.1 L282.3,470.0 L287.0,470.9 L291.7,471.9 L294.5,472.5 L296.4,473.0 L301.1,474.1 L305.8,475.2 L310.5,476.4 L315.2,477.6 L319.9,478.9 L324.6,480.1 L329.3,481.4 L334.0,482.8 L335.9,483.3 L338.7,484.1 L343.4,485.6 L348.1,487.1 L352.8,488.7 L356.0,489.8 L357.5,490.3 L362.2,492.6 L366.8,494.0 L367.8,494.1 L371.5,494.1"/>
<path d="M47.5,278.4 L52.2,278.4 L56.9,278.4 L61.6,278.4 L66.3,278.4 L71.0,278.4 L72.9,278.4 L75.7,283.4 L77.9,289.2 L80.4,293.7 L84.2,300.0 L85.1,301.3 L89.8,308.0 L94.5,314.3 L99.2,320.9 L99.6,321.5 L103.9,327.9 L108.6,335.2 L113.2,343.1 L113.2,343.2 L117.9,351.9 L122.6,361.5 L124.1,364.7 L127.3,372.2 L132.0,383.5 L133.3,386.2 L136.7,393.1 L141.4,401.7 L145.1,407.8 L146.1,409.5 L150.8,416.8 L155.5,423.5 L160.0,429.4 L160.2,429.6 L164.9,435.4 L169.6,441.0 L174.3,446.0 L179.0,450.0 L180.3,451.0 L183.7,453.1 L188.4,455.7 L193.1,457.9 L197.8,459.9 L202.4,461.7 L202.5,461.8 L207.2,463.5 L211.9,465.1 L216.6,466.6 L221.3,468.0 L226.0,469.4 L230.7,470.7 L235.4,472.1 L237.0,472.5 L240.0,473.4 L244.7,474.7 L249.4,476.0 L254.1,477.2 L258.8,478.5 L263.5,479.7 L268.2,480.9 L272.9,482.1 L277.5,483.3 L277.6,483.3 L282.3,484.6 L287.0,485.9 L291.7,487.2 L296.4,488.4 L301.1,489.5 L302.2,489.8 L305.8,490.6 L310.5,491.8 L315.2,492.8 L319.9,493.7 L324.6,494.1 L325.8,494.1 L329.3,494.1 L334.0,494.1 L338.7,494.1 L343.4,494.1 L348.1,494.1 L352.8,494.1 L357.5,494.1 L362.2,494.1 L366.8,494.1 L371.5,494.1"/>
<path d="M47.5,278.4 L52.2,278.4 L56.9,278.4 L61.6,278.4 L66.3,278.4 L71.0,278.4 L75.7,278.4 L77.9,278.4 L80.4,280.3 L85.1,288.2 L85.8,289.2 L89.8,293.6 L94.5,298.5 L95.8,300.0 L99.2,303.4 L103.9,308.0 L108.6,312.6 L113.2,317.7 L116.4,321.5 L117.9,323.6 L122.6,330.8 L127.3,338.7 L130.0,343.1 L132.0,346.6 L136.7,354.5 L141.4,362.7 L142.5,364.7 L146.1,371.4 L150.8,380.3 L154.1,386.2 L155.5,388.6 L160.2,396.4 L164.9,403.7 L167.8,407.8 L169.6,410.3 L174.3,416.5 L179.0,422.3 L183.7,427.5 L185.5,429.4 L188.4,432.2 L193.1,436.8 L197.8,441.1 L202.5,445.0 L207.2,448.4 L211.3,451.0 L211.9,451.2 L216.6,453.6 L221.3,455.8 L226.0,457.7 L230.7,459.4 L235.4,461.0 L237.8,461.7 L240.0,462.4 L244.7,463.7 L249.4,464.8 L254.1,465.9 L258.8,466.8 L263.5,467.8 L268.2,468.7 L272.9,469.7 L277.6,470.7 L282.3,471.8 L285.5,472.5 L287.0,472.9 L291.7,474.1 L296.4,475.4 L301.1,476.7 L305.8,478.0 L310.5,479.3 L315.2,480.7 L319.9,482.1 L323.7,483.3 L324.6,483.6 L329.3,485.1 L334.0,486.8 L338.7,488.4 L342.9,489.8 L343.4,490.0 L348.1,491.8 L352.8,493.5 L356.5,494.1 L357.5,494.1 L362.2,494.1 L366.8,494.1 L371.5,494.1"/>
</g>
<g fill="none" stroke="#f0d04e" stroke-width="1.0" stroke-linejoin="round">
<path d="M47.5,278.4 L51.3,278.4 L55.0,278.4 L55.5,278.4 L58.5,289.2 L58.8,289.9 L62.3,300.0 L62.5,300.5 L66.3,309.2 L70.0,316.7 L72.9,321.5 L73.8,322.8 L77.5,327.7 L81.3,331.9 L85.0,335.9 L88.8,340.2 L91.0,343.1 L92.5,345.3 L96.3,351.1 L100.1,357.4 L103.8,363.8 L104.3,364.7 L107.6,370.6 L111.3,377.8 L115.1,384.3 L116.4,386.2 L118.8,389.4 L122.6,393.7 L126.3,397.6 L130.1,401.3 L133.8,404.9 L136.6,407.8 L137.6,408.8 L141.3,412.8 L145.1,416.9 L148.8,420.8 L152.6,424.8 L156.4,428.6 L157.2,429.4 L160.1,432.3 L163.9,436.0 L167.6,439.7 L171.4,443.2 L175.1,446.5 L178.9,449.6 L180.7,451.0 L182.6,452.3 L186.4,454.8 L190.1,457.1 L193.9,459.3 L197.6,461.3 L198.5,461.7 L201.4,463.3 L205.2,465.3 L208.9,467.2 L212.7,469.0 L216.4,470.7 L220.2,472.2 L221.0,472.5 L223.9,473.6 L227.7,474.9 L231.4,476.1 L235.2,477.3 L238.9,478.4 L242.7,479.5 L246.4,480.5 L250.2,481.5 L254.0,482.5 L257.0,483.3 L257.7,483.5 L261.5,484.5 L265.2,485.4 L269.0,486.3 L272.7,487.2 L276.5,488.1 L280.2,488.9 L284.0,489.8 L284.1,489.8 L287.7,490.5 L291.5,491.3 L295.2,492.0 L299.0,492.8 L302.7,493.4 L306.5,494.1"/>
<path d="M47.5,278.4 L51.3,278.4 L54.9,278.4 L55.0,278.5 L57.5,289.2 L58.8,293.7 L60.7,300.0 L62.5,305.6 L66.3,316.1 L68.6,321.5 L70.0,324.3 L73.8,330.6 L77.5,336.2 L81.3,342.2 L81.8,343.1 L85.0,349.6 L88.8,357.5 L92.3,364.7 L92.6,365.2 L96.3,372.7 L100.1,379.9 L103.8,385.9 L104.0,386.2 L107.6,390.7 L111.3,394.7 L115.1,398.4 L118.8,401.8 L122.6,405.2 L125.4,407.8 L126.3,408.7 L130.1,412.2 L133.9,415.7 L137.6,419.0 L141.4,422.4 L145.1,425.7 L148.9,429.1 L149.2,429.4 L152.6,432.6 L156.4,436.2 L160.1,439.8 L163.9,443.3 L167.6,446.7 L171.4,449.9 L172.8,451.0 L175.2,452.8 L178.9,455.4 L182.7,458.0 L186.4,460.4 L188.5,461.7 L190.2,462.8 L193.9,465.2 L197.7,467.6 L201.4,469.8 L205.2,471.8 L206.7,472.5 L208.9,473.6 L212.7,475.2 L216.5,476.7 L220.2,478.1 L224.0,479.5 L227.7,480.7 L231.5,482.0 L235.2,483.2 L235.5,483.3 L239.0,484.5 L242.7,485.6 L246.5,486.8 L250.2,487.9 L254.0,488.9 L257.4,489.8 L257.8,489.9 L261.5,490.9 L265.3,492.0 L269.0,492.9 L272.8,493.7 L276.5,494.1 L277.7,494.1 L280.3,494.1 L284.0,494.1 L287.8,494.1 L291.5,494.1 L295.3,494.1 L299.1,494.1 L302.8,494.1 L306.6,494.1"/>
<path d="M47.5,278.4 L51.3,278.4 L54.5,278.4 L55.0,279.3 L56.8,289.2 L58.8,297.3 L59.4,300.0 L62.5,311.9 L65.4,321.5 L66.3,323.9 L70.0,332.3 L73.8,340.5 L74.8,343.1 L77.5,351.5 L81.3,364.3 L81.4,364.7 L85.0,378.1 L87.7,386.2 L88.8,388.8 L92.6,396.1 L96.3,402.0 L100.1,407.3 L100.4,407.8 L103.8,412.4 L107.6,416.9 L111.3,421.2 L115.1,425.3 L118.8,429.4 L118.8,429.5 L122.6,433.8 L126.3,438.1 L130.1,442.4 L133.9,446.4 L137.6,450.0 L138.7,451.0 L141.4,453.2 L145.1,456.0 L148.9,458.7 L152.6,461.2 L153.4,461.7 L156.4,463.8 L160.1,466.4 L163.9,468.8 L167.6,471.0 L170.4,472.5 L171.4,473.0 L175.2,474.8 L178.9,476.4 L182.7,477.9 L186.4,479.4 L190.2,480.8 L193.9,482.1 L197.5,483.3 L197.7,483.4 L201.4,484.6 L205.2,485.8 L208.9,487.0 L212.7,488.1 L216.5,489.1 L219.3,489.8 L220.2,490.0 L224.0,490.9 L227.7,491.9 L231.5,492.8 L235.2,493.5 L239.0,494.0 L241.6,494.1 L242.7,494.1 L246.5,494.1 L250.2,494.1 L254.0,494.1 L257.8,494.1 L261.5,494.1 L265.3,494.1 L269.0,494.1 L272.8,494.1 L276.5,494.1 L280.3,494.1 L284.0,494.1 L287.8,494.1 L291.5,494.1 L295.3,494.1 L299.1,494.1 L302.8,494.1 L306.6,494.1"/>
<path d="M47.5,278.4 L51.3,278.4 L55.0,278.4 L56.6,278.4 L58.8,285.2 L59.7,289.2 L62.5,297.3 L63.6,300.0 L66.3,306.4 L70.0,314.4 L73.8,321.2 L74.0,321.5 L77.5,326.7 L81.3,331.3 L85.0,335.7 L88.8,340.4 L90.7,343.1 L92.6,346.2 L96.3,353.1 L100.1,360.4 L102.4,364.7 L103.8,367.3 L107.6,374.4 L111.3,381.2 L114.7,386.2 L115.1,386.8 L118.8,391.1 L122.6,394.9 L126.3,398.4 L130.1,401.6 L133.9,404.9 L137.0,407.8 L137.6,408.4 L141.4,411.9 L145.1,415.5 L148.9,419.0 L152.6,422.5 L156.4,426.0 L160.0,429.4 L160.1,429.5 L163.9,433.1 L167.6,436.8 L171.4,440.5 L175.2,444.1 L178.9,447.5 L182.7,450.7 L183.0,451.0 L186.4,453.6 L190.2,456.3 L193.9,458.8 L197.7,461.2 L198.5,461.7 L201.4,463.6 L205.2,466.0 L208.9,468.3 L212.7,470.5 L216.5,472.4 L216.8,472.5 L220.2,474.0 L224.0,475.6 L227.7,477.1 L231.5,478.4 L235.2,479.7 L239.0,481.0 L242.7,482.2 L246.1,483.3 L246.5,483.4 L250.2,484.6 L254.0,485.8 L257.8,486.9 L261.5,488.0 L265.3,489.0 L268.2,489.8 L269.0,490.0 L272.8,491.0 L276.5,492.1 L280.3,493.1 L284.0,493.8 L287.8,494.1 L288.0,494.1 L291.5,494.1 L295.3,494.1 L299.1,494.1 L302.8,494.1 L306.6,494.1"/>
<path d="M47.5,278.4 L51.3,278.4 L55.0,278.4 L58.8,278.4 L59.0,278.4 L62.3,289.2 L62.5,289.7 L66.3,299.5 L66.5,300.0 L70.0,307.4 L73.8,314.3 L77.5,320.5 L78.3,321.5 L81.3,325.6 L85.0,329.9 L88.8,333.9 L92.6,338.3 L96.1,343.1 L96.3,343.5 L100.1,350.3 L103.8,358.2 L107.0,364.7 L107.6,365.9 L111.3,373.9 L115.1,381.6 L117.9,386.2 L118.8,387.5 L122.6,392.2 L126.3,396.1 L130.1,399.7 L133.9,403.1 L137.6,406.7 L138.7,407.8 L141.4,410.6 L145.1,414.5 L148.9,418.4 L152.6,422.4 L156.4,426.3 L159.2,429.4 L160.1,430.4 L163.9,434.6 L167.6,438.9 L171.4,443.2 L175.2,447.4 L178.7,451.0 L178.9,451.1 L182.7,454.5 L186.4,457.6 L190.2,460.6 L191.6,461.7 L193.9,463.6 L197.7,466.7 L201.4,469.5 L205.2,472.1 L206.0,472.5 L208.9,474.2 L212.7,476.1 L216.5,477.9 L220.2,479.6 L224.0,481.2 L227.7,482.7 L229.2,483.3 L231.5,484.2 L235.2,485.7 L239.0,487.2 L242.7,488.5 L246.5,489.7 L246.9,489.8 L250.2,490.8 L254.0,492.1 L257.8,493.1 L261.5,493.9 L264.6,494.1 L265.3,494.1 L269.0,494.1 L272.8,494.1 L276.5,494.1 L280.3,494.1 L284.0,494.1 L287.8,494.1 L291.5,494.1 L295.3,494.1 L299.1,494.1 L302.8,494.1 L306.6,494.1"/>
<path d="M47.5,278.4 L51.3,278.4 L55.0,278.4 L57.9,278.4 L58.8,280.1 L60.7,289.2 L62.5,295.5 L63.9,300.0 L66.3,307.1 L70.0,317.6 L71.5,321.5 L73.8,326.2 L77.5,333.0 L80.8,343.1 L81.3,345.5 L83.0,364.7 L83.6,386.2 L85.0,396.0 L88.8,406.5 L89.4,407.8 L92.6,414.8 L96.3,421.1 L100.1,426.8 L101.6,429.4 L103.8,433.5 L107.6,440.5 L111.3,447.2 L113.8,451.0 L115.1,452.6 L118.8,456.8 L122.6,460.8 L123.5,461.7 L126.3,465.1 L130.1,469.4 L133.3,472.5 L133.9,473.0 L137.6,475.9 L141.4,478.4 L145.1,480.7 L148.9,482.7 L150.0,483.3 L152.6,484.6 L156.4,486.4 L160.1,488.0 L163.9,489.4 L165.3,489.8 L167.6,490.5 L171.4,491.6 L175.2,492.6 L178.9,493.4 L182.7,493.9 L186.0,494.1 L186.4,494.1 L190.2,494.1 L193.9,494.1 L197.7,494.1 L201.4,494.1 L205.2,494.1 L208.9,494.1 L212.7,494.1 L216.5,494.1 L220.2,494.1 L224.0,494.1 L227.7,494.1 L231.5,494.1 L235.2,494.1 L239.0,494.1 L242.7,494.1 L246.5,494.1 L250.2,494.1 L254.0,494.1 L257.8,494.1 L261.5,494.1 L265.3,494.1 L269.0,494.1 L272.8,494.1 L276.5,494.1 L280.3,494.1 L284.0,494.1 L287.8,494.1 L291.5,494.1 L295.3,494.1 L299.1,494.1 L302.8,494.1 L306.6,494.1"/>
<path d="M47.5,278.4 L51.3,278.4 L55.0,278.4 L55.0,278.4 L57.0,289.2 L58.8,297.5 L59.3,300.0 L62.5,318.0 L63.2,321.5 L66.3,334.0 L68.4,343.1 L70.0,352.6 L72.0,364.7 L73.8,373.9 L76.7,386.2 L77.5,388.7 L81.3,397.5 L85.0,404.3 L87.1,407.8 L88.8,410.5 L92.6,415.8 L96.3,420.6 L100.1,425.5 L102.7,429.4 L103.8,431.3 L107.6,438.4 L111.3,445.8 L114.3,451.0 L115.1,452.1 L118.8,457.3 L122.1,461.7 L122.6,462.5 L126.3,468.5 L129.3,472.5 L130.1,473.4 L133.9,476.9 L137.6,479.9 L141.4,482.5 L142.8,483.3 L145.1,484.7 L148.9,486.7 L152.6,488.4 L156.4,489.8 L156.5,489.8 L160.1,490.9 L163.9,492.0 L167.6,492.9 L171.4,493.7 L175.2,494.1 L176.9,494.1 L178.9,494.1 L182.7,494.1 L186.4,494.1 L190.2,494.1 L193.9,494.1 L197.7,494.1 L201.4,494.1 L205.2,494.1 L208.9,494.1 L212.7,494.1 L216.5,494.1 L220.2,494.1 L224.0,494.1 L227.7,494.1 L231.5,494.1 L235.2,494.1 L239.0,494.1 L242.7,494.1 L246.5,494.1 L250.2,494.1 L254.0,494.1 L257.8,494.1 L261.5,494.1 L265.3,494.1 L269.0,494.1 L272.8,494.1 L276.5,494.1 L280.3,494.1 L284.0,494.1 L287.8,494.1 L291.5,494.1 L295.3,494.1 L299.1,494.1 L302.8,494.1 L306.6,494.1"/>
<path d="M47.5,278.4 L51.3,278.4 L55.0,278.4 L58.6,278.4 L58.8,278.4 L62.0,289.2 L62.5,290.6 L66.2,300.0 L66.3,300.1 L70.0,307.7 L73.8,314.4 L77.5,320.2 L78.5,321.5 L81.3,325.1 L85.0,329.2 L88.8,332.9 L92.6,336.7 L96.3,341.1 L97.8,343.1 L100.1,346.5 L103.8,353.0 L107.6,360.1 L110.0,364.7 L111.3,367.3 L115.1,375.3 L118.8,382.9 L120.8,386.2 L122.6,388.7 L126.3,393.4 L130.1,397.5 L133.9,401.3 L137.6,405.1 L140.1,407.8 L141.4,409.2 L145.1,413.5 L148.9,417.8 L152.6,422.1 L156.4,426.2 L159.4,429.4 L160.1,430.2 L163.9,434.2 L167.6,438.1 L171.4,441.9 L175.2,445.5 L178.9,448.9 L181.5,451.0 L182.7,451.8 L186.4,454.4 L190.2,456.9 L193.9,459.1 L197.7,461.3 L198.5,461.7 L201.4,463.4 L205.2,465.4 L208.9,467.4 L212.7,469.3 L216.5,471.0 L220.1,472.5 L220.2,472.6 L224.0,474.0 L227.7,475.3 L231.5,476.6 L235.2,477.8 L239.0,478.9 L242.7,480.0 L246.5,481.1 L250.2,482.1 L254.0,483.2 L254.6,483.3 L257.8,484.2 L261.5,485.2 L265.3,486.1 L269.0,487.1 L272.8,488.0 L276.5,488.9 L280.3,489.7 L280.6,489.8 L284.0,490.6 L287.8,491.6 L291.5,492.6 L295.3,493.4 L299.1,493.9 L302.3,494.1 L302.8,494.1 L306.6,494.1"/>
<path d="M47.5,278.4 L51.3,278.4 L52.8,278.4 L54.4,289.2 L55.0,292.7 L56.1,300.0 L58.2,321.5 L58.8,325.5 L61.7,343.1 L62.5,347.4 L66.0,364.7 L66.3,365.9 L70.0,382.1 L71.2,386.2 L73.8,393.2 L77.5,401.7 L80.7,407.8 L81.3,408.9 L85.0,414.8 L88.8,420.0 L92.6,425.5 L94.9,429.4 L96.3,432.2 L100.1,441.1 L103.8,449.5 L104.6,451.0 L107.6,455.4 L111.3,460.2 L112.5,461.7 L115.1,465.4 L118.8,470.6 L120.5,472.5 L122.6,474.5 L126.3,477.6 L130.1,480.3 L133.9,482.7 L135.0,483.3 L137.6,484.7 L141.4,486.6 L145.1,488.3 L148.9,489.6 L149.4,489.8 L152.6,490.7 L156.4,491.8 L160.1,492.7 L163.9,493.5 L167.6,494.0 L170.7,494.1 L171.4,494.1 L175.2,494.1 L178.9,494.1 L182.7,494.1 L186.4,494.1 L190.2,494.1 L193.9,494.1 L197.7,494.1 L201.4,494.1 L205.2,494.1 L208.9,494.1 L212.7,494.1 L216.5,494.1 L220.2,494.1 L224.0,494.1 L227.7,494.1 L231.5,494.1 L235.2,494.1 L239.0,494.1 L242.7,494.1 L246.5,494.1 L250.2,494.1 L254.0,494.1 L257.8,494.1 L261.5,494.1 L265.3,494.1 L269.0,494.1 L272.8,494.1 L276.5,494.1 L280.3,494.1 L284.0,494.1 L287.8,494.1 L291.5,494.1 L295.3,494.1 L299.1,494.1 L302.8,494.1 L306.6,494.1"/>
<path d="M47.5,278.4 L51.3,278.4 L55.0,278.4 L58.8,278.4 L58.8,278.4 L62.1,289.2 L62.5,290.4 L66.2,300.0 L66.3,300.1 L70.0,308.0 L73.8,314.9 L77.5,320.9 L78.0,321.5 L81.3,325.9 L85.0,330.1 L88.8,333.9 L92.6,338.0 L96.3,342.7 L96.6,343.1 L100.1,348.6 L103.8,355.5 L107.6,362.6 L108.7,364.7 L111.3,370.0 L115.1,377.8 L118.8,384.9 L119.7,386.2 L122.6,390.2 L126.3,394.6 L130.1,398.6 L133.9,402.5 L137.6,406.6 L138.6,407.8 L141.4,411.2 L145.1,415.9 L148.9,420.7 L152.6,425.5 L155.7,429.4 L156.4,430.3 L160.1,435.3 L163.9,440.4 L167.6,445.3 L171.4,449.6 L172.7,451.0 L175.2,453.3 L178.9,456.6 L182.7,459.5 L185.7,461.7 L186.4,462.3 L190.2,465.1 L193.9,467.8 L197.7,470.2 L201.4,472.4 L201.8,472.5 L205.2,474.2 L208.9,475.9 L212.7,477.5 L216.5,478.9 L220.2,480.3 L224.0,481.6 L227.7,482.9 L229.0,483.3 L231.5,484.2 L235.2,485.4 L239.0,486.6 L242.7,487.7 L246.5,488.8 L250.2,489.7 L250.5,489.8 L254.0,490.7 L257.8,491.8 L261.5,492.8 L265.3,493.6 L269.0,494.0 L270.9,494.1 L272.8,494.1 L276.5,494.1 L280.3,494.1 L284.0,494.1 L287.8,494.1 L291.5,494.1 L295.3,494.1 L299.1,494.1 L302.8,494.1 L306.6,494.1"/>
<path d="M47.5,278.4 L51.3,278.4 L55.0,278.4 L57.1,278.4 L58.8,283.3 L60.1,289.2 L62.5,296.6 L63.7,300.0 L66.3,306.2 L70.0,314.5 L73.8,321.5 L73.8,321.6 L77.5,327.2 L81.3,331.9 L85.0,336.5 L88.8,341.9 L89.5,343.1 L92.6,349.0 L96.3,357.5 L99.4,364.7 L100.1,366.4 L103.8,376.4 L107.6,385.5 L108.0,386.2 L111.3,391.8 L115.1,397.0 L118.8,401.6 L122.6,406.1 L124.0,407.8 L126.3,410.8 L130.1,415.4 L133.9,420.0 L137.6,424.4 L141.4,428.7 L142.0,429.4 L145.1,433.0 L148.9,437.4 L152.6,441.6 L156.4,445.7 L160.1,449.4 L161.9,451.0 L163.9,452.6 L167.6,455.5 L171.4,458.1 L175.2,460.6 L177.0,461.7 L178.9,463.0 L182.7,465.4 L186.4,467.8 L190.2,470.0 L193.9,471.9 L195.2,472.5 L197.7,473.7 L201.4,475.3 L205.2,476.8 L208.9,478.2 L212.7,479.5 L216.5,480.8 L220.2,482.0 L224.0,483.2 L224.3,483.3 L227.7,484.4 L231.5,485.6 L235.2,486.7 L239.0,487.7 L242.7,488.7 L246.5,489.7 L246.9,489.8 L250.2,490.6 L254.0,491.7 L257.8,492.6 L261.5,493.4 L265.3,494.0 L268.1,494.1 L269.0,494.1 L272.8,494.1 L276.5,494.1 L280.3,494.1 L284.0,494.1 L287.8,494.1 L291.5,494.1 L295.3,494.1 L299.1,494.1 L302.8,494.1 L306.6,494.1"/>
<path d="M47.5,278.4 L51.3,278.4 L55.0,278.4 L55.8,278.4 L58.5,289.2 L58.8,290.3 L61.6,300.0 L62.5,302.8 L66.3,313.6 L69.6,321.5 L70.0,322.5 L73.8,329.1 L77.5,334.8 L81.3,340.7 L82.6,343.1 L85.0,348.0 L88.8,356.4 L92.5,364.7 L92.6,364.8 L96.3,373.4 L100.1,381.9 L102.4,386.2 L103.8,388.5 L107.6,393.8 L111.3,398.5 L115.1,402.9 L118.8,407.4 L119.2,407.8 L122.6,412.0 L126.3,416.6 L130.1,421.2 L133.9,425.8 L136.7,429.4 L137.6,430.6 L141.4,435.7 L145.1,441.0 L148.9,446.1 L152.6,450.5 L153.0,451.0 L156.4,454.3 L160.1,457.6 L163.9,460.6 L165.3,461.7 L167.6,463.6 L171.4,466.6 L175.2,469.4 L178.9,471.8 L180.2,472.5 L182.7,473.9 L186.4,475.7 L190.2,477.4 L193.9,478.9 L197.7,480.4 L201.4,481.8 L205.2,483.1 L205.7,483.3 L208.9,484.4 L212.7,485.7 L216.5,486.9 L220.2,488.0 L224.0,489.0 L226.9,489.8 L227.7,490.0 L231.5,490.9 L235.2,491.9 L239.0,492.9 L242.7,493.6 L246.5,494.0 L248.8,494.1 L250.2,494.1 L254.0,494.1 L257.8,494.1 L261.5,494.1 L265.3,494.1 L269.0,494.1 L272.8,494.1 L276.5,494.1 L280.3,494.1 L284.0,494.1 L287.8,494.1 L291.5,494.1 L295.3,494.1 L299.1,494.1 L302.8,494.1 L306.6,494.1"/>
<path d="M47.5,278.4 L51.3,278.4 L55.0,278.4 L55.7,278.4 L58.2,289.2 L58.8,291.6 L61.0,300.0 L62.5,305.2 L66.3,317.5 L67.7,321.5 L70.0,326.9 L73.8,334.3 L77.5,342.2 L77.9,343.1 L81.3,352.7 L85.0,364.1 L85.2,364.7 L88.8,375.0 L92.6,384.7 L93.3,386.2 L96.3,391.5 L100.1,397.1 L103.8,401.9 L107.6,406.7 L108.5,407.8 L111.3,411.5 L115.1,416.0 L118.8,420.4 L122.6,424.9 L126.1,429.4 L126.3,429.7 L130.1,435.1 L133.9,440.8 L137.6,446.4 L141.1,451.0 L141.4,451.3 L145.1,455.5 L148.9,459.3 L151.4,461.7 L152.6,463.0 L156.4,466.9 L160.1,470.5 L162.6,472.5 L163.9,473.4 L167.6,475.9 L171.4,478.0 L175.2,480.0 L178.9,481.8 L182.3,483.3 L182.7,483.5 L186.4,485.1 L190.2,486.6 L193.9,488.0 L197.7,489.3 L199.5,489.8 L201.4,490.3 L205.2,491.4 L208.9,492.4 L212.7,493.3 L216.5,493.9 L220.0,494.1 L220.2,494.1 L224.0,494.1 L227.7,494.1 L231.5,494.1 L235.2,494.1 L239.0,494.1 L242.7,494.1 L246.5,494.1 L250.2,494.1 L254.0,494.1 L257.8,494.1 L261.5,494.1 L265.3,494.1 L269.0,494.1 L272.8,494.1 L276.5,494.1 L280.3,494.1 L284.0,494.1 L287.8,494.1 L291.5,494.1 L295.3,494.1 L299.1,494.1 L302.8,494.1 L306.6,494.1"/>
<path d="M47.5,278.4 L51.3,278.4 L55.0,278.4 L58.2,278.4 L58.8,279.1 L61.4,289.2 L62.5,292.6 L65.3,300.0 L66.3,302.2 L70.0,310.2 L73.8,317.2 L76.4,321.5 L77.5,323.2 L81.3,328.0 L85.0,332.2 L88.8,336.4 L92.6,341.3 L93.8,343.1 L96.3,347.6 L100.1,355.4 L103.8,363.9 L104.2,364.7 L107.6,373.3 L111.3,382.9 L113.0,386.2 L115.1,389.8 L118.8,395.2 L122.6,399.9 L126.3,404.3 L129.1,407.8 L130.1,409.1 L133.9,414.0 L137.6,418.8 L141.4,423.6 L145.1,428.3 L146.0,429.4 L148.9,433.0 L152.6,437.7 L156.4,442.3 L160.1,446.7 L163.9,450.5 L164.4,451.0 L167.6,453.8 L171.4,456.7 L175.2,459.5 L178.4,461.7 L178.9,462.1 L182.7,464.7 L186.4,467.2 L190.2,469.6 L193.9,471.7 L195.5,472.5 L197.7,473.6 L201.4,475.3 L205.2,476.8 L208.9,478.3 L212.7,479.7 L216.5,481.0 L220.2,482.3 L223.3,483.3 L224.0,483.5 L227.7,484.8 L231.5,486.0 L235.2,487.1 L239.0,488.2 L242.7,489.2 L244.9,489.8 L246.5,490.2 L250.2,491.2 L254.0,492.3 L257.8,493.2 L261.5,493.8 L265.3,494.1 L265.5,494.1 L269.0,494.1 L272.8,494.1 L276.5,494.1 L280.3,494.1 L284.0,494.1 L287.8,494.1 L291.5,494.1 L295.3,494.1 L299.1,494.1 L302.8,494.1 L306.6,494.1"/>
<path d="M47.5,278.4 L51.3,278.4 L53.5,278.4 L55.0,285.8 L55.6,289.2 L57.9,300.0 L58.8,304.2 L62.5,321.3 L62.6,321.5 L66.3,332.5 L70.0,343.0 L70.0,343.1 L73.8,356.7 L75.9,364.7 L77.5,370.9 L81.3,384.4 L82.0,386.2 L85.0,392.8 L88.8,399.3 L92.6,404.7 L94.9,407.8 L96.3,409.7 L100.1,414.2 L103.8,418.3 L107.6,422.2 L111.3,425.9 L114.7,429.4 L115.1,429.8 L118.8,433.7 L122.6,437.8 L126.3,441.7 L130.1,445.5 L133.9,449.0 L136.2,451.0 L137.6,452.1 L141.4,454.9 L145.1,457.5 L148.9,460.0 L151.6,461.7 L152.6,462.4 L156.4,464.9 L160.1,467.3 L163.9,469.6 L167.6,471.7 L169.3,472.5 L171.4,473.5 L175.2,475.2 L178.9,476.8 L182.7,478.3 L186.4,479.7 L190.2,481.0 L193.9,482.3 L196.9,483.3 L197.7,483.6 L201.4,484.8 L205.2,486.0 L208.9,487.1 L212.7,488.2 L216.5,489.2 L219.1,489.8 L220.2,490.1 L224.0,491.0 L227.7,492.0 L231.5,492.9 L235.2,493.6 L239.0,494.0 L241.5,494.1 L242.7,494.1 L246.5,494.1 L250.2,494.1 L254.0,494.1 L257.8,494.1 L261.5,494.1 L265.3,494.1 L269.0,494.1 L272.8,494.1 L276.5,494.1 L280.3,494.1 L284.0,494.1 L287.8,494.1 L291.5,494.1 L295.3,494.1 L299.1,494.1 L302.8,494.1 L306.6,494.1"/>
<path d="M47.5,278.4 L51.3,278.4 L53.2,278.4 L55.0,289.1 L55.0,289.2 L56.9,300.0 L58.8,313.9 L59.8,321.5 L62.5,336.1 L63.8,343.1 L66.3,360.9 L66.8,364.7 L70.0,384.1 L70.5,386.2 L73.8,395.8 L77.5,403.7 L80.0,407.8 L81.3,410.0 L85.0,415.2 L88.8,419.6 L92.6,423.8 L96.3,428.2 L97.3,429.4 L100.1,433.2 L103.8,438.6 L107.6,443.9 L111.3,448.9 L113.1,451.0 L115.1,453.1 L118.8,456.9 L122.6,460.5 L123.9,461.7 L126.3,464.4 L130.1,468.4 L133.9,472.0 L134.5,472.5 L137.6,474.9 L141.4,477.4 L145.1,479.7 L148.9,481.8 L151.8,483.3 L152.6,483.7 L156.4,485.5 L160.1,487.2 L163.9,488.6 L167.5,489.8 L167.6,489.8 L171.4,490.9 L175.2,492.0 L178.9,492.9 L182.7,493.6 L186.4,494.0 L188.4,494.1 L190.2,494.1 L193.9,494.1 L197.7,494.1 L201.4,494.1 L205.2,494.1 L208.9,494.1 L212.7,494.1 L216.5,494.1 L220.2,494.1 L224.0,494.1 L227.7,494.1 L231.5,494.1 L235.2,494.1 L239.0,494.1 L242.7,494.1 L246.5,494.1 L250.2,494.1 L254.0,494.1 L257.8,494.1 L261.5,494.1 L265.3,494.1 L269.0,494.1 L272.8,494.1 L276.5,494.1 L280.3,494.1 L284.0,494.1 L287.8,494.1 L291.5,494.1 L295.3,494.1 L299.1,494.1 L302.8,494.1 L306.6,494.1"/>
<path d="M47.5,278.4 L51.3,278.4 L52.0,278.4 L53.9,289.2 L55.0,295.4 L55.8,300.0 L58.8,318.9 L59.3,321.5 L62.5,333.5 L65.8,343.1 L66.3,344.7 L70.0,355.6 L73.6,364.7 L73.8,365.2 L77.5,373.6 L81.3,381.1 L84.5,386.2 L85.0,387.0 L88.8,391.8 L92.6,395.9 L96.3,399.5 L100.1,402.9 L103.8,406.1 L105.9,407.8 L107.6,409.3 L111.3,412.3 L115.1,415.2 L118.8,417.9 L122.6,420.6 L126.3,423.2 L130.1,425.8 L133.9,428.4 L135.3,429.4 L137.6,431.0 L141.4,433.7 L145.1,436.3 L148.9,439.0 L152.6,441.6 L156.4,444.1 L160.1,446.6 L163.9,449.0 L167.2,451.0 L167.6,451.2 L171.4,453.3 L175.2,455.3 L178.9,457.3 L182.7,459.1 L186.4,460.9 L188.1,461.7 L190.2,462.8 L193.9,464.6 L197.7,466.3 L201.4,468.1 L205.2,469.7 L208.9,471.3 L212.2,472.5 L212.7,472.7 L216.5,474.0 L220.2,475.3 L224.0,476.5 L227.7,477.6 L231.5,478.8 L235.2,479.8 L239.0,480.9 L242.7,481.9 L246.5,482.9 L247.9,483.3 L250.2,483.9 L254.0,484.9 L257.8,485.9 L261.5,486.8 L265.3,487.8 L269.0,488.6 L272.8,489.5 L274.1,489.8 L276.5,490.3 L280.3,491.3 L284.0,492.3 L287.8,493.1 L291.5,493.8 L295.3,494.1 L296.1,494.1 L299.1,494.1 L302.8,494.1 L306.6,494.1"/>
<path d="M47.5,278.4 L51.3,278.4 L55.0,278.4 L56.3,278.4 L58.7,289.2 L58.8,289.6 L61.2,300.0 L62.5,305.4 L66.3,321.1 L66.4,321.5 L70.0,332.9 L72.7,343.1 L73.8,350.3 L75.6,364.7 L77.5,377.4 L79.3,386.2 L81.3,392.5 L85.0,400.9 L88.8,407.6 L88.9,407.8 L92.6,413.6 L96.3,418.7 L100.1,423.7 L103.8,429.2 L103.9,429.4 L107.6,436.1 L111.3,443.6 L115.1,450.5 L115.4,451.0 L118.8,456.0 L122.6,461.1 L123.1,461.7 L126.3,467.1 L130.0,472.5 L130.1,472.7 L133.9,476.5 L137.6,479.7 L141.4,482.4 L142.8,483.3 L145.1,484.7 L148.9,486.8 L152.6,488.6 L155.8,489.8 L156.4,490.0 L160.1,491.1 L163.9,492.2 L167.6,493.1 L171.4,493.8 L175.2,494.1 L175.8,494.1 L178.9,494.1 L182.7,494.1 L186.4,494.1 L190.2,494.1 L193.9,494.1 L197.7,494.1 L201.4,494.1 L205.2,494.1 L208.9,494.1 L212.7,494.1 L216.5,494.1 L220.2,494.1 L224.0,494.1 L227.7,494.1 L231.5,494.1 L235.2,494.1 L239.0,494.1 L242.7,494.1 L246.5,494.1 L250.2,494.1 L254.0,494.1 L257.8,494.1 L261.5,494.1 L265.3,494.1 L269.0,494.1 L272.8,494.1 L276.5,494.1 L280.3,494.1 L284.0,494.1 L287.8,494.1 L291.5,494.1 L295.3,494.1 L299.1,494.1 L302.8,494.1 L306.6,494.1"/>
<path d="M47.5,278.4 L51.3,278.4 L55.0,278.4 L55.2,278.4 L57.8,289.2 L58.8,292.7 L60.9,300.0 L62.5,304.9 L66.3,315.4 L68.9,321.5 L70.0,323.7 L73.8,330.0 L77.5,335.5 L81.3,341.4 L82.2,343.1 L85.0,348.7 L88.8,357.1 L92.1,364.7 L92.6,365.7 L96.3,375.0 L100.1,383.8 L101.4,386.2 L103.8,390.2 L107.6,395.6 L111.3,400.2 L115.1,404.7 L117.7,407.8 L118.8,409.2 L122.6,413.6 L126.3,417.9 L130.1,422.1 L133.9,426.2 L136.9,429.4 L137.6,430.2 L141.4,434.3 L145.1,438.4 L148.9,442.4 L152.6,446.2 L156.4,449.7 L157.9,451.0 L160.1,452.7 L163.9,455.4 L167.6,457.9 L171.4,460.2 L173.9,461.7 L175.2,462.5 L178.9,464.8 L182.7,467.0 L186.4,469.1 L190.2,471.0 L193.4,472.5 L193.9,472.8 L197.7,474.3 L201.4,475.8 L205.2,477.1 L208.9,478.4 L212.7,479.6 L216.5,480.8 L220.2,482.0 L224.0,483.1 L224.7,483.3 L227.7,484.2 L231.5,485.3 L235.2,486.3 L239.0,487.3 L242.7,488.3 L246.5,489.2 L249.2,489.8 L250.2,490.0 L254.0,491.0 L257.8,491.9 L261.5,492.8 L265.3,493.5 L269.0,494.0 L271.7,494.1 L272.8,494.1 L276.5,494.1 L280.3,494.1 L284.0,494.1 L287.8,494.1 L291.5,494.1 L295.3,494.1 L299.1,494.1 L302.8,494.1 L306.6,494.1"/>
<path d="M47.5,278.4 L51.3,278.4 L55.0,278.4 L58.8,278.4 L59.2,278.4 L62.5,289.1 L62.6,289.2 L66.3,298.9 L66.8,300.0 L70.0,306.7 L73.8,313.6 L77.5,319.7 L78.8,321.5 L81.3,324.9 L85.0,329.2 L88.8,333.1 L92.6,337.3 L96.3,342.4 L96.8,343.1 L100.1,349.2 L103.8,357.6 L106.9,364.7 L107.6,366.3 L111.3,375.9 L115.1,384.6 L116.0,386.2 L118.8,390.6 L122.6,395.4 L126.3,399.5 L130.1,403.5 L133.9,407.7 L134.0,407.8 L137.6,412.1 L141.4,416.6 L145.1,421.0 L148.9,425.4 L152.2,429.4 L152.6,429.9 L156.4,434.7 L160.1,439.6 L163.9,444.4 L167.6,448.9 L169.6,451.0 L171.4,452.8 L175.2,456.4 L178.9,459.8 L181.1,461.7 L182.7,463.1 L186.4,466.6 L190.2,469.9 L193.7,472.5 L193.9,472.7 L197.7,475.1 L201.4,477.2 L205.2,479.2 L208.9,481.0 L212.7,482.8 L213.8,483.3 L216.5,484.6 L220.2,486.3 L224.0,487.8 L227.7,489.3 L229.3,489.8 L231.5,490.5 L235.2,491.8 L239.0,492.9 L242.7,493.8 L246.4,494.1 L246.5,494.1 L250.2,494.1 L254.0,494.1 L257.8,494.1 L261.5,494.1 L265.3,494.1 L269.0,494.1 L272.8,494.1 L276.5,494.1 L280.3,494.1 L284.0,494.1 L287.8,494.1 L291.5,494.1 L295.3,494.1 L299.1,494.1 L302.8,494.1 L306.6,494.1"/>
<path d="M47.5,278.4 L51.3,278.4 L53.8,278.4 L55.0,284.3 L55.7,289.2 L57.7,300.0 L58.8,307.2 L60.9,321.5 L62.5,329.6 L65.3,343.1 L66.3,350.2 L68.1,364.7 L70.0,379.8 L71.1,386.2 L73.8,395.5 L77.5,404.4 L79.3,407.8 L81.3,411.2 L85.0,416.6 L88.8,421.2 L92.6,425.6 L95.5,429.4 L96.3,430.5 L100.1,436.0 L103.8,441.6 L107.6,446.9 L110.8,451.0 L111.3,451.5 L115.1,455.4 L118.8,459.0 L121.7,461.7 L122.6,462.6 L126.3,466.5 L130.1,470.3 L132.7,472.5 L133.9,473.4 L137.6,476.0 L141.4,478.4 L145.1,480.5 L148.9,482.5 L150.6,483.3 L152.6,484.3 L156.4,486.0 L160.1,487.6 L163.9,488.9 L166.7,489.8 L167.6,490.1 L171.4,491.1 L175.2,492.1 L178.9,493.0 L182.7,493.7 L186.4,494.1 L187.9,494.1 L190.2,494.1 L193.9,494.1 L197.7,494.1 L201.4,494.1 L205.2,494.1 L208.9,494.1 L212.7,494.1 L216.5,494.1 L220.2,494.1 L224.0,494.1 L227.7,494.1 L231.5,494.1 L235.2,494.1 L239.0,494.1 L242.7,494.1 L246.5,494.1 L250.2,494.1 L254.0,494.1 L257.8,494.1 L261.5,494.1 L265.3,494.1 L269.0,494.1 L272.8,494.1 L276.5,494.1 L280.3,494.1 L284.0,494.1 L287.8,494.1 L291.5,494.1 L295.3,494.1 L299.1,494.1 L302.8,494.1 L306.6,494.1"/>
<path d="M47.5,278.4 L51.3,278.4 L54.1,278.4 L55.0,280.1 L57.1,289.2 L58.8,294.5 L60.7,300.0 L62.5,304.3 L66.3,312.7 L70.0,319.7 L71.1,321.5 L73.8,325.3 L77.5,329.9 L81.3,334.0 L85.0,338.0 L88.8,342.6 L89.2,343.1 L92.6,347.9 L96.3,353.8 L100.1,359.8 L103.1,364.7 L103.8,365.8 L107.6,372.0 L111.3,378.4 L115.1,384.1 L116.8,386.2 L118.8,388.6 L122.6,392.5 L126.3,395.9 L130.1,399.1 L133.9,402.2 L137.6,405.4 L140.4,407.8 L141.4,408.7 L145.1,412.1 L148.9,415.5 L152.6,418.9 L156.4,422.2 L160.1,425.6 L163.9,429.0 L164.3,429.4 L167.6,432.5 L171.4,436.2 L175.2,439.9 L178.9,443.5 L182.7,446.9 L186.4,450.0 L187.7,451.0 L190.2,452.8 L193.9,455.3 L197.7,457.7 L201.4,459.9 L204.6,461.7 L205.2,462.1 L208.9,464.2 L212.7,466.2 L216.5,468.2 L220.2,470.1 L224.0,471.7 L225.9,472.5 L227.7,473.3 L231.5,474.7 L235.2,476.0 L239.0,477.2 L242.7,478.4 L246.5,479.5 L250.2,480.6 L254.0,481.7 L257.8,482.7 L259.9,483.3 L261.5,483.8 L265.3,484.8 L269.0,485.8 L272.8,486.8 L276.5,487.7 L280.3,488.6 L284.0,489.5 L285.3,489.8 L287.8,490.3 L291.5,491.1 L295.3,491.9 L299.1,492.7 L302.8,493.4 L306.6,494.1"/>
<path d="M47.5,278.4 L51.3,278.4 L55.0,278.4 L57.8,278.4 L58.8,280.3 L60.8,289.2 L62.5,294.8 L64.3,300.0 L66.3,305.2 L70.0,314.3 L73.4,321.5 L73.8,322.3 L77.5,328.5 L81.3,333.9 L85.0,340.7 L86.1,343.1 L88.8,351.9 L91.9,364.7 L92.6,367.7 L96.3,386.1 L96.4,386.2 L100.1,395.4 L103.8,402.1 L107.4,407.8 L107.6,408.1 L111.3,414.0 L115.1,419.4 L118.8,424.5 L122.2,429.4 L122.6,429.9 L126.3,435.7 L130.1,441.6 L133.9,447.2 L136.7,451.0 L137.6,452.0 L141.4,456.0 L145.1,459.7 L147.2,461.7 L148.9,463.4 L152.6,467.3 L156.4,470.9 L158.4,472.5 L160.1,473.8 L163.9,476.3 L167.6,478.6 L171.4,480.6 L175.2,482.5 L176.8,483.3 L178.9,484.3 L182.7,486.1 L186.4,487.7 L190.2,489.1 L192.5,489.8 L193.9,490.2 L197.7,491.4 L201.4,492.4 L205.2,493.3 L208.9,493.9 L211.9,494.1 L212.7,494.1 L216.5,494.1 L220.2,494.1 L224.0,494.1 L227.7,494.1 L231.5,494.1 L235.2,494.1 L239.0,494.1 L242.7,494.1 L246.5,494.1 L250.2,494.1 L254.0,494.1 L257.8,494.1 L261.5,494.1 L265.3,494.1 L269.0,494.1 L272.8,494.1 L276.5,494.1 L280.3,494.1 L284.0,494.1 L287.8,494.1 L291.5,494.1 L295.3,494.1 L299.1,494.1 L302.8,494.1 L306.6,494.1"/>
<path d="M47.5,278.4 L51.3,278.4 L51.8,278.4 L53.5,289.2 L55.0,298.9 L55.1,300.0 L57.3,321.5 L58.8,331.6 L60.9,343.1 L62.5,351.1 L65.6,364.7 L66.3,367.7 L70.0,383.6 L70.8,386.2 L73.8,394.7 L77.5,403.3 L79.8,407.8 L81.3,410.5 L85.0,416.4 L88.8,421.6 L92.6,427.0 L94.0,429.4 L96.3,433.5 L100.1,440.8 L103.8,447.8 L105.9,451.0 L107.6,453.2 L111.3,457.4 L115.1,461.3 L115.5,461.7 L118.8,465.2 L122.6,469.1 L126.3,472.3 L126.7,472.5 L130.1,474.7 L133.9,476.9 L137.6,478.9 L141.4,480.7 L145.1,482.3 L147.7,483.3 L148.9,483.8 L152.6,485.2 L156.4,486.5 L160.1,487.7 L163.9,488.8 L167.6,489.7 L168.0,489.8 L171.4,490.6 L175.2,491.5 L178.9,492.3 L182.7,493.1 L186.4,493.7 L190.2,494.0 L193.0,494.1 L193.9,494.1 L197.7,494.1 L201.4,494.1 L205.2,494.1 L208.9,494.1 L212.7,494.1 L216.5,494.1 L220.2,494.1 L224.0,494.1 L227.7,494.1 L231.5,494.1 L235.2,494.1 L239.0,494.1 L242.7,494.1 L246.5,494.1 L250.2,494.1 L254.0,494.1 L257.8,494.1 L261.5,494.1 L265.3,494.1 L269.0,494.1 L272.8,494.1 L276.5,494.1 L280.3,494.1 L284.0,494.1 L287.8,494.1 L291.5,494.1 L295.3,494.1 L299.1,494.1 L302.8,494.1 L306.6,494.1"/>
<path d="M47.5,278.4 L51.3,278.4 L54.4,278.4 L55.0,280.1 L56.5,289.2 L58.8,299.3 L58.9,300.0 L62.5,316.2 L63.9,321.5 L66.3,328.4 L70.0,337.7 L72.1,343.1 L73.8,348.2 L77.5,360.4 L78.9,364.7 L81.3,372.4 L85.0,383.9 L86.0,386.2 L88.8,392.1 L92.6,398.7 L96.3,404.6 L98.5,407.8 L100.1,410.2 L103.8,415.5 L107.6,420.5 L111.3,425.5 L114.1,429.4 L115.1,430.9 L118.8,437.0 L122.6,443.3 L126.3,449.0 L127.9,451.0 L130.1,453.6 L133.9,457.4 L137.6,460.9 L138.5,461.7 L141.4,464.5 L145.1,468.0 L148.9,471.2 L150.8,472.5 L152.6,473.7 L156.4,475.9 L160.1,477.8 L163.9,479.6 L167.6,481.3 L171.4,482.8 L172.7,483.3 L175.2,484.3 L178.9,485.7 L182.7,487.0 L186.4,488.2 L190.2,489.3 L192.3,489.8 L193.9,490.2 L197.7,491.2 L201.4,492.1 L205.2,493.0 L208.9,493.6 L212.7,494.0 L215.0,494.1 L216.5,494.1 L220.2,494.1 L224.0,494.1 L227.7,494.1 L231.5,494.1 L235.2,494.1 L239.0,494.1 L242.7,494.1 L246.5,494.1 L250.2,494.1 L254.0,494.1 L257.8,494.1 L261.5,494.1 L265.3,494.1 L269.0,494.1 L272.8,494.1 L276.5,494.1 L280.3,494.1 L284.0,494.1 L287.8,494.1 L291.5,494.1 L295.3,494.1 L299.1,494.1 L302.8,494.1 L306.6,494.1"/>
<path d="M47.5,278.4 L51.3,278.4 L55.0,278.4 L56.0,278.4 L58.8,288.4 L59.0,289.2 L62.5,299.7 L62.6,300.0 L66.3,309.0 L70.0,317.0 L72.5,321.5 L73.8,323.6 L77.5,328.9 L81.3,333.5 L85.0,338.3 L88.3,343.1 L88.8,343.9 L92.6,350.9 L96.3,358.7 L99.2,364.7 L100.1,366.3 L103.8,374.4 L107.6,382.1 L110.1,386.2 L111.3,388.0 L115.1,392.7 L118.8,396.7 L122.6,400.4 L126.3,403.9 L130.1,407.4 L130.5,407.8 L133.9,411.1 L137.6,414.7 L141.4,418.3 L145.1,421.7 L148.9,425.1 L152.6,428.5 L153.6,429.4 L156.4,431.9 L160.1,435.3 L163.9,438.6 L167.6,441.9 L171.4,445.1 L175.2,448.1 L178.9,450.9 L179.0,451.0 L182.7,453.5 L186.4,455.9 L190.2,458.1 L193.9,460.3 L196.5,461.7 L197.7,462.4 L201.4,464.5 L205.2,466.6 L208.9,468.6 L212.7,470.5 L216.5,472.2 L217.3,472.5 L220.2,473.7 L224.0,475.1 L227.7,476.5 L231.5,477.7 L235.2,479.0 L239.0,480.2 L242.7,481.3 L246.5,482.4 L249.5,483.3 L250.2,483.6 L254.0,484.7 L257.8,485.7 L261.5,486.8 L265.3,487.8 L269.0,488.8 L272.8,489.7 L273.1,489.8 L276.5,490.7 L280.3,491.7 L284.0,492.7 L287.8,493.5 L291.5,494.0 L293.5,494.1 L295.3,494.1 L299.1,494.1 L302.8,494.1 L306.6,494.1"/>
<path d="M47.5,278.4 L51.3,278.4 L55.0,278.4 L56.5,278.4 L58.8,286.0 L59.5,289.2 L62.5,298.2 L63.2,300.0 L66.3,307.7 L70.0,316.0 L73.0,321.5 L73.8,322.9 L77.5,328.4 L81.3,333.1 L85.0,337.9 L88.6,343.1 L88.8,343.4 L92.6,350.2 L96.3,357.6 L99.9,364.7 L100.1,365.0 L103.8,372.2 L107.6,379.4 L111.3,385.5 L111.9,386.2 L115.1,390.2 L118.8,394.3 L122.6,397.9 L126.3,401.3 L130.1,404.7 L133.3,407.8 L133.9,408.3 L137.6,412.1 L141.4,415.7 L145.1,419.4 L148.9,423.1 L152.6,426.8 L155.2,429.4 L156.4,430.6 L160.1,434.6 L163.9,438.6 L167.6,442.6 L171.4,446.4 L175.2,450.0 L176.3,451.0 L178.9,453.2 L182.7,456.1 L186.4,458.9 L190.2,461.5 L190.5,461.7 L193.9,464.1 L197.7,466.7 L201.4,469.2 L205.2,471.4 L207.3,472.5 L208.9,473.3 L212.7,475.1 L216.5,476.7 L220.2,478.2 L224.0,479.6 L227.7,480.9 L231.5,482.2 L234.7,483.3 L235.2,483.5 L239.0,484.8 L242.7,486.0 L246.5,487.2 L250.2,488.3 L254.0,489.3 L255.9,489.8 L257.8,490.3 L261.5,491.4 L265.3,492.4 L269.0,493.3 L272.8,493.9 L275.8,494.1 L276.5,494.1 L280.3,494.1 L284.0,494.1 L287.8,494.1 L291.5,494.1 L295.3,494.1 L299.1,494.1 L302.8,494.1 L306.6,494.1"/>
<path d="M47.5,278.4 L51.3,278.4 L55.0,278.4 L57.4,278.4 L58.8,282.1 L60.4,289.2 L62.5,295.7 L64.1,300.0 L66.3,305.3 L70.0,313.6 L73.8,320.9 L74.2,321.5 L77.5,326.7 L81.3,331.6 L85.0,336.3 L88.8,342.0 L89.4,343.1 L92.6,349.8 L96.3,359.2 L98.5,364.7 L100.1,368.8 L103.8,379.2 L106.9,386.2 L107.6,387.4 L111.3,393.1 L115.1,397.9 L118.8,402.1 L122.6,406.3 L123.9,407.8 L126.3,410.6 L130.1,414.8 L133.9,418.9 L137.6,422.9 L141.4,426.9 L143.7,429.4 L145.1,430.9 L148.9,435.0 L152.6,439.1 L156.4,443.1 L160.1,446.8 L163.9,450.3 L164.6,451.0 L167.6,453.4 L171.4,456.3 L175.2,458.9 L178.9,461.5 L179.3,461.7 L182.7,464.1 L186.4,466.7 L190.2,469.1 L193.9,471.4 L196.1,472.5 L197.7,473.3 L201.4,475.1 L205.2,476.8 L208.9,478.3 L212.7,479.8 L216.5,481.2 L220.2,482.5 L222.4,483.3 L224.0,483.9 L227.7,485.2 L231.5,486.5 L235.2,487.7 L239.0,488.8 L242.6,489.8 L242.7,489.8 L246.5,490.9 L250.2,492.0 L254.0,493.0 L257.8,493.7 L261.5,494.1 L262.2,494.1 L265.3,494.1 L269.0,494.1 L272.8,494.1 L276.5,494.1 L280.3,494.1 L284.0,494.1 L287.8,494.1 L291.5,494.1 L295.3,494.1 L299.1,494.1 L302.8,494.1 L306.6,494.1"/>
<path d="M47.5,278.4 L51.3,278.4 L54.7,278.4 L55.0,279.1 L56.6,289.2 L58.6,300.0 L58.8,300.7 L62.1,321.5 L62.5,323.6 L66.3,339.5 L67.1,343.1 L70.0,358.9 L71.1,364.7 L73.8,377.7 L75.9,386.2 L77.5,391.1 L81.3,400.1 L85.0,407.5 L85.2,407.8 L88.8,413.9 L92.6,419.4 L96.3,425.1 L98.8,429.4 L100.1,432.0 L103.8,440.9 L107.6,449.5 L108.4,451.0 L111.3,455.7 L115.1,461.0 L115.6,461.7 L118.8,467.1 L122.6,472.5 L122.6,472.5 L126.3,476.1 L130.1,479.1 L133.9,481.6 L136.7,483.3 L137.6,483.8 L141.4,485.8 L145.1,487.5 L148.9,489.0 L151.5,489.8 L152.6,490.1 L156.4,491.2 L160.1,492.2 L163.9,493.1 L167.6,493.7 L171.4,494.1 L173.1,494.1 L175.2,494.1 L178.9,494.1 L182.7,494.1 L186.4,494.1 L190.2,494.1 L193.9,494.1 L197.7,494.1 L201.4,494.1 L205.2,494.1 L208.9,494.1 L212.7,494.1 L216.5,494.1 L220.2,494.1 L224.0,494.1 L227.7,494.1 L231.5,494.1 L235.2,494.1 L239.0,494.1 L242.7,494.1 L246.5,494.1 L250.2,494.1 L254.0,494.1 L257.8,494.1 L261.5,494.1 L265.3,494.1 L269.0,494.1 L272.8,494.1 L276.5,494.1 L280.3,494.1 L284.0,494.1 L287.8,494.1 L291.5,494.1 L295.3,494.1 L299.1,494.1 L302.8,494.1 L306.6,494.1"/>
<path d="M47.5,278.4 L51.3,278.4 L52.7,278.4 L54.5,289.2 L55.0,291.9 L56.5,300.0 L58.8,315.8 L59.7,321.5 L62.5,333.4 L65.0,343.1 L66.3,348.6 L69.7,364.7 L70.0,366.2 L73.8,384.7 L74.2,386.2 L77.5,395.7 L81.3,403.9 L83.4,407.8 L85.0,410.5 L88.8,415.9 L92.6,420.7 L96.3,425.1 L99.8,429.4 L100.1,429.8 L103.8,434.8 L107.6,439.9 L111.3,444.8 L115.1,449.2 L116.8,451.0 L118.8,452.9 L122.6,456.1 L126.3,459.0 L130.0,461.7 L130.1,461.8 L133.9,464.7 L137.6,467.6 L141.4,470.2 L145.1,472.5 L145.2,472.5 L148.9,474.5 L152.6,476.3 L156.4,478.0 L160.1,479.6 L163.9,481.1 L167.6,482.5 L170.0,483.3 L171.4,483.8 L175.2,485.1 L178.9,486.3 L182.7,487.5 L186.4,488.5 L190.2,489.5 L191.4,489.8 L193.9,490.4 L197.7,491.3 L201.4,492.2 L205.2,493.0 L208.9,493.6 L212.7,494.0 L215.2,494.1 L216.5,494.1 L220.2,494.1 L224.0,494.1 L227.7,494.1 L231.5,494.1 L235.2,494.1 L239.0,494.1 L242.7,494.1 L246.5,494.1 L250.2,494.1 L254.0,494.1 L257.8,494.1 L261.5,494.1 L265.3,494.1 L269.0,494.1 L272.8,494.1 L276.5,494.1 L280.3,494.1 L284.0,494.1 L287.8,494.1 L291.5,494.1 L295.3,494.1 L299.1,494.1 L302.8,494.1 L306.6,494.1"/>
<path d="M47.5,278.4 L51.3,278.4 L53.3,278.4 L55.0,286.2 L55.5,289.2 L58.0,300.0 L58.8,303.1 L62.5,318.3 L63.5,321.5 L66.3,328.7 L70.0,336.7 L72.9,343.1 L73.8,345.4 L77.5,355.7 L80.9,364.7 L81.3,365.7 L85.0,375.7 L88.8,384.5 L89.8,386.2 L92.6,390.7 L96.3,395.9 L100.1,400.4 L103.8,404.5 L107.0,407.8 L107.6,408.5 L111.3,412.3 L115.1,415.9 L118.8,419.3 L122.6,422.6 L126.3,425.9 L130.1,429.1 L130.4,429.4 L133.9,432.5 L137.6,435.8 L141.4,439.1 L145.1,442.3 L148.9,445.5 L152.6,448.4 L156.2,451.0 L156.4,451.1 L160.1,453.6 L163.9,455.9 L167.6,458.1 L171.4,460.2 L174.1,461.7 L175.2,462.3 L178.9,464.4 L182.7,466.4 L186.4,468.4 L190.2,470.3 L193.9,472.0 L195.2,472.5 L197.7,473.5 L201.4,475.0 L205.2,476.3 L208.9,477.6 L212.7,478.8 L216.5,480.0 L220.2,481.2 L224.0,482.3 L227.4,483.3 L227.7,483.4 L231.5,484.5 L235.2,485.6 L239.0,486.6 L242.7,487.6 L246.5,488.5 L250.2,489.4 L251.9,489.8 L254.0,490.3 L257.8,491.2 L261.5,492.2 L265.3,493.1 L269.0,493.7 L272.8,494.1 L274.1,494.1 L276.5,494.1 L280.3,494.1 L284.0,494.1 L287.8,494.1 L291.5,494.1 L295.3,494.1 L299.1,494.1 L302.8,494.1 L306.6,494.1"/>
<path d="M47.5,278.4 L51.3,278.4 L55.0,278.4 L58.3,278.4 L58.8,278.9 L61.5,289.2 L62.5,292.1 L65.5,300.0 L66.3,301.6 L70.0,309.6 L73.8,316.5 L76.9,321.5 L77.5,322.4 L81.3,327.2 L85.0,331.4 L88.8,335.3 L92.6,339.7 L95.1,343.1 L96.3,344.9 L100.1,351.3 L103.8,358.3 L107.2,364.7 L107.6,365.4 L111.3,373.0 L115.1,380.6 L118.4,386.2 L118.8,386.9 L122.6,391.8 L126.3,396.1 L130.1,400.0 L133.9,403.9 L137.4,407.8 L137.6,408.1 L141.4,412.6 L145.1,417.2 L148.9,421.9 L152.6,426.5 L154.9,429.4 L156.4,431.2 L160.1,436.0 L163.9,440.9 L167.6,445.6 L171.4,449.8 L172.6,451.0 L175.2,453.3 L178.9,456.4 L182.7,459.3 L186.1,461.7 L186.4,462.0 L190.2,464.6 L193.9,467.2 L197.7,469.6 L201.4,471.7 L203.0,472.5 L205.2,473.6 L208.9,475.2 L212.7,476.8 L216.5,478.2 L220.2,479.6 L224.0,480.8 L227.7,482.1 L231.5,483.3 L231.5,483.3 L235.2,484.5 L239.0,485.7 L242.7,486.8 L246.5,487.9 L250.2,488.9 L253.9,489.8 L254.0,489.8 L257.8,490.8 L261.5,491.8 L265.3,492.8 L269.0,493.6 L272.8,494.0 L274.9,494.1 L276.5,494.1 L280.3,494.1 L284.0,494.1 L287.8,494.1 L291.5,494.1 L295.3,494.1 L299.1,494.1 L302.8,494.1 L306.6,494.1"/>
<path d="M47.5,278.4 L51.3,278.4 L55.0,278.4 L58.4,278.4 L58.8,278.6 L61.6,289.2 L62.5,292.0 L65.4,300.0 L66.3,302.0 L70.0,310.4 L73.8,317.9 L75.9,321.5 L77.5,324.1 L81.3,329.2 L85.0,333.8 L88.8,338.7 L91.6,343.1 L92.6,344.8 L96.3,353.0 L100.1,362.0 L101.2,364.7 L103.8,371.1 L107.6,380.5 L110.4,386.2 L111.3,387.9 L115.1,393.4 L118.8,398.0 L122.6,402.4 L126.3,407.0 L127.0,407.8 L130.1,412.0 L133.9,417.0 L137.6,422.1 L141.4,427.6 L142.5,429.4 L145.1,433.7 L148.9,440.6 L152.6,447.4 L154.9,451.0 L156.4,453.0 L160.1,457.7 L163.6,461.7 L163.9,462.1 L167.6,466.7 L171.4,471.0 L173.1,472.5 L175.2,474.2 L178.9,476.8 L182.7,479.1 L186.4,481.2 L190.2,483.1 L190.5,483.3 L193.9,485.0 L197.7,486.7 L201.4,488.3 L205.2,489.6 L205.9,489.8 L208.9,490.7 L212.7,491.9 L216.5,493.0 L220.2,493.7 L224.0,494.1 L224.6,494.1 L227.7,494.1 L231.5,494.1 L235.2,494.1 L239.0,494.1 L242.7,494.1 L246.5,494.1 L250.2,494.1 L254.0,494.1 L257.8,494.1 L261.5,494.1 L265.3,494.1 L269.0,494.1 L272.8,494.1 L276.5,494.1 L280.3,494.1 L284.0,494.1 L287.8,494.1 L291.5,494.1 L295.3,494.1 L299.1,494.1 L302.8,494.1 L306.6,494.1"/>
<path d="M47.5,278.4 L51.3,278.4 L55.0,278.4 L56.8,278.4 L58.8,286.1 L59.4,289.2 L62.5,300.0 L62.5,300.2 L66.3,311.8 L69.9,321.5 L70.0,321.8 L73.8,329.3 L77.5,335.9 L80.8,343.1 L81.3,344.4 L85.0,357.5 L86.8,364.7 L88.8,374.5 L91.4,386.2 L92.6,390.0 L96.3,399.3 L100.1,406.9 L100.5,407.8 L103.8,414.1 L107.6,420.6 L111.3,427.0 L112.6,429.4 L115.1,434.1 L118.8,441.8 L122.6,448.7 L124.1,451.0 L126.3,453.9 L130.1,458.0 L133.8,461.7 L133.9,461.8 L137.6,465.8 L141.4,469.5 L144.9,472.5 L145.1,472.7 L148.9,475.2 L152.6,477.4 L156.4,479.4 L160.1,481.2 L163.9,482.9 L164.9,483.3 L167.6,484.5 L171.4,486.0 L175.2,487.4 L178.9,488.7 L182.7,489.7 L182.9,489.8 L186.4,490.7 L190.2,491.7 L193.9,492.7 L197.7,493.4 L201.4,493.9 L204.8,494.1 L205.2,494.1 L208.9,494.1 L212.7,494.1 L216.5,494.1 L220.2,494.1 L224.0,494.1 L227.7,494.1 L231.5,494.1 L235.2,494.1 L239.0,494.1 L242.7,494.1 L246.5,494.1 L250.2,494.1 L254.0,494.1 L257.8,494.1 L261.5,494.1 L265.3,494.1 L269.0,494.1 L272.8,494.1 L276.5,494.1 L280.3,494.1 L284.0,494.1 L287.8,494.1 L291.5,494.1 L295.3,494.1 L299.1,494.1 L302.8,494.1 L306.6,494.1"/>
<path d="M47.5,278.4 L51.3,278.4 L54.0,278.4 L55.0,283.2 L55.9,289.2 L57.9,300.0 L58.8,305.0 L61.6,321.5 L62.5,325.6 L66.3,339.2 L67.2,343.1 L70.0,356.4 L71.6,364.7 L73.8,377.0 L75.6,386.2 L77.5,392.8 L81.3,402.9 L83.5,407.8 L85.0,410.8 L88.8,417.1 L92.6,422.7 L96.3,428.4 L96.9,429.4 L100.1,435.1 L103.8,442.3 L107.6,448.7 L109.1,451.0 L111.3,453.7 L115.1,457.7 L118.8,461.5 L119.1,461.7 L122.6,465.4 L126.3,469.2 L130.1,472.5 L130.2,472.5 L133.9,475.0 L137.6,477.3 L141.4,479.4 L145.1,481.2 L148.9,482.9 L149.8,483.3 L152.6,484.5 L156.4,486.0 L160.1,487.4 L163.9,488.6 L167.6,489.7 L168.0,489.8 L171.4,490.7 L175.2,491.6 L178.9,492.5 L182.7,493.3 L186.4,493.8 L190.2,494.1 L191.0,494.1 L193.9,494.1 L197.7,494.1 L201.4,494.1 L205.2,494.1 L208.9,494.1 L212.7,494.1 L216.5,494.1 L220.2,494.1 L224.0,494.1 L227.7,494.1 L231.5,494.1 L235.2,494.1 L239.0,494.1 L242.7,494.1 L246.5,494.1 L250.2,494.1 L254.0,494.1 L257.8,494.1 L261.5,494.1 L265.3,494.1 L269.0,494.1 L272.8,494.1 L276.5,494.1 L280.3,494.1 L284.0,494.1 L287.8,494.1 L291.5,494.1 L295.3,494.1 L299.1,494.1 L302.8,494.1 L306.6,494.1"/>
<path d="M47.5,278.4 L51.3,278.4 L53.0,278.4 L54.9,289.2 L55.0,289.6 L57.1,300.0 L58.8,310.0 L60.8,321.5 L62.5,328.4 L66.3,341.4 L66.7,343.1 L70.0,356.2 L72.3,364.7 L73.8,369.9 L77.5,381.8 L79.4,386.2 L81.3,389.9 L85.0,396.1 L88.8,401.3 L92.6,405.9 L94.2,407.8 L96.3,410.3 L100.1,414.3 L103.8,418.0 L107.6,421.5 L111.3,425.0 L115.1,428.7 L115.8,429.4 L118.8,432.5 L122.6,436.5 L126.3,440.6 L130.1,444.5 L133.9,448.2 L136.9,451.0 L137.6,451.6 L141.4,454.6 L145.1,457.5 L148.9,460.2 L151.0,461.7 L152.6,463.0 L156.4,465.8 L160.1,468.5 L163.9,471.0 L166.5,472.5 L167.6,473.2 L171.4,475.1 L175.2,476.9 L178.9,478.6 L182.7,480.1 L186.4,481.6 L190.2,483.0 L190.9,483.3 L193.9,484.4 L197.7,485.7 L201.4,487.0 L205.2,488.2 L208.9,489.2 L211.1,489.8 L212.7,490.2 L216.5,491.2 L220.2,492.2 L224.0,493.1 L227.7,493.7 L231.5,494.1 L232.7,494.1 L235.2,494.1 L239.0,494.1 L242.7,494.1 L246.5,494.1 L250.2,494.1 L254.0,494.1 L257.8,494.1 L261.5,494.1 L265.3,494.1 L269.0,494.1 L272.8,494.1 L276.5,494.1 L280.3,494.1 L284.0,494.1 L287.8,494.1 L291.5,494.1 L295.3,494.1 L299.1,494.1 L302.8,494.1 L306.6,494.1"/>
<path d="M47.5,278.4 L51.3,278.4 L55.0,278.4 L55.3,278.4 L57.7,289.2 L58.8,293.5 L60.5,300.0 L62.5,307.6 L66.3,320.5 L66.6,321.5 L70.0,329.9 L73.8,338.3 L75.6,343.1 L77.5,349.9 L81.3,364.4 L81.4,364.7 L85.0,378.1 L87.8,386.2 L88.8,388.4 L92.6,395.3 L96.3,400.8 L100.1,405.7 L101.7,407.8 L103.8,410.6 L107.6,415.0 L111.3,419.2 L115.1,423.2 L118.8,427.3 L120.6,429.4 L122.6,431.8 L126.3,436.5 L130.1,441.3 L133.9,445.9 L137.6,450.2 L138.4,451.0 L141.4,453.9 L145.1,457.3 L148.9,460.5 L150.3,461.7 L152.6,463.9 L156.4,467.3 L160.1,470.5 L162.9,472.5 L163.9,473.2 L167.6,475.5 L171.4,477.6 L175.2,479.5 L178.9,481.3 L182.7,483.0 L183.3,483.3 L186.4,484.7 L190.2,486.2 L193.9,487.7 L197.7,488.9 L200.5,489.8 L201.4,490.0 L205.2,491.1 L208.9,492.2 L212.7,493.1 L216.5,493.8 L220.2,494.1 L220.6,494.1 L224.0,494.1 L227.7,494.1 L231.5,494.1 L235.2,494.1 L239.0,494.1 L242.7,494.1 L246.5,494.1 L250.2,494.1 L254.0,494.1 L257.8,494.1 L261.5,494.1 L265.3,494.1 L269.0,494.1 L272.8,494.1 L276.5,494.1 L280.3,494.1 L284.0,494.1 L287.8,494.1 L291.5,494.1 L295.3,494.1 L299.1,494.1 L302.8,494.1 L306.6,494.1"/>
<path d="M47.5,278.4 L51.3,278.4 L55.0,278.4 L58.8,278.4 L59.3,278.4 L62.5,288.6 L62.7,289.2 L66.3,298.5 L66.9,300.0 L70.0,306.4 L73.8,313.4 L77.5,319.5 L78.9,321.5 L81.3,324.8 L85.0,329.1 L88.8,333.1 L92.6,337.1 L96.3,341.9 L97.1,343.1 L100.1,348.1 L103.8,355.5 L107.6,363.2 L108.3,364.7 L111.3,370.9 L115.1,378.8 L118.8,385.5 L119.3,386.2 L122.6,390.6 L126.3,394.8 L130.1,398.6 L133.9,402.3 L137.6,406.2 L139.1,407.8 L141.4,410.5 L145.1,415.0 L148.9,419.5 L152.6,424.4 L156.3,429.4 L156.4,429.6 L160.1,435.6 L163.9,442.2 L167.6,448.5 L169.2,451.0 L171.4,454.1 L175.2,459.0 L177.2,461.7 L178.9,464.1 L182.7,469.5 L185.2,472.5 L186.4,473.7 L190.2,476.9 L193.9,479.6 L197.7,482.0 L199.8,483.3 L201.4,484.3 L205.2,486.5 L208.9,488.4 L212.2,489.8 L212.7,490.0 L216.5,491.3 L220.2,492.6 L224.0,493.6 L227.7,494.1 L228.4,494.1 L231.5,494.1 L235.2,494.1 L239.0,494.1 L242.7,494.1 L246.5,494.1 L250.2,494.1 L254.0,494.1 L257.8,494.1 L261.5,494.1 L265.3,494.1 L269.0,494.1 L272.8,494.1 L276.5,494.1 L280.3,494.1 L284.0,494.1 L287.8,494.1 L291.5,494.1 L295.3,494.1 L299.1,494.1 L302.8,494.1 L306.6,494.1"/>
<path d="M47.5,278.4 L51.3,278.4 L55.0,278.4 L57.0,278.4 L58.8,283.6 L60.1,289.2 L62.5,296.2 L64.0,300.0 L66.3,305.4 L70.0,313.4 L73.8,320.3 L74.5,321.5 L77.5,326.0 L81.3,330.7 L85.0,335.0 L88.8,339.8 L91.1,343.1 L92.6,345.6 L96.3,352.8 L100.1,360.4 L102.2,364.7 L103.8,367.8 L107.6,375.4 L111.3,382.5 L113.8,386.2 L115.1,387.9 L118.8,392.3 L122.6,396.1 L126.3,399.6 L130.1,402.9 L133.9,406.3 L135.4,407.8 L137.6,409.9 L141.4,413.5 L145.1,417.1 L148.9,420.6 L152.6,424.1 L156.4,427.6 L158.3,429.4 L160.1,431.1 L163.9,434.8 L167.6,438.4 L171.4,442.0 L175.2,445.5 L178.9,448.8 L181.6,451.0 L182.7,451.8 L186.4,454.6 L190.2,457.2 L193.9,459.6 L197.2,461.7 L197.7,462.0 L201.4,464.4 L205.2,466.8 L208.9,469.0 L212.7,471.1 L215.6,472.5 L216.5,472.9 L220.2,474.6 L224.0,476.1 L227.7,477.5 L231.5,478.9 L235.2,480.2 L239.0,481.5 L242.7,482.7 L244.6,483.3 L246.5,483.9 L250.2,485.1 L254.0,486.3 L257.8,487.4 L261.5,488.5 L265.3,489.5 L266.3,489.8 L269.0,490.5 L272.8,491.6 L276.5,492.7 L280.3,493.5 L284.0,494.0 L285.8,494.1 L287.8,494.1 L291.5,494.1 L295.3,494.1 L299.1,494.1 L302.8,494.1 L306.6,494.1"/>
<path d="M47.5,278.4 L51.3,278.4 L52.3,278.4 L54.0,289.2 L55.0,295.0 L55.8,300.0 L58.3,321.5 L58.8,324.7 L62.5,342.7 L62.6,343.1 L66.3,358.7 L67.8,364.7 L70.0,373.3 L73.8,386.0 L73.9,386.2 L77.5,394.9 L81.3,402.2 L84.6,407.8 L85.0,408.6 L88.8,414.2 L92.6,419.1 L96.3,423.9 L100.1,429.1 L100.2,429.4 L103.8,435.2 L107.6,441.8 L111.3,447.9 L113.5,451.0 L115.1,452.9 L118.8,456.9 L122.6,460.6 L123.7,461.7 L126.3,464.4 L130.1,468.2 L133.9,471.5 L135.3,472.5 L137.6,474.1 L141.4,476.3 L145.1,478.4 L148.9,480.2 L152.6,481.9 L156.1,483.3 L156.4,483.4 L160.1,484.9 L163.9,486.3 L167.6,487.5 L171.4,488.7 L175.2,489.7 L175.7,489.8 L178.9,490.6 L182.7,491.5 L186.4,492.4 L190.2,493.2 L193.9,493.7 L197.7,494.1 L199.5,494.1 L201.4,494.1 L205.2,494.1 L208.9,494.1 L212.7,494.1 L216.5,494.1 L220.2,494.1 L224.0,494.1 L227.7,494.1 L231.5,494.1 L235.2,494.1 L239.0,494.1 L242.7,494.1 L246.5,494.1 L250.2,494.1 L254.0,494.1 L257.8,494.1 L261.5,494.1 L265.3,494.1 L269.0,494.1 L272.8,494.1 L276.5,494.1 L280.3,494.1 L284.0,494.1 L287.8,494.1 L291.5,494.1 L295.3,494.1 L299.1,494.1 L302.8,494.1 L306.6,494.1"/>
<path d="M47.5,278.4 L51.3,278.4 L53.7,278.4 L55.0,282.8 L56.3,289.2 L58.8,298.0 L59.4,300.0 L62.5,309.0 L66.3,318.2 L67.9,321.5 L70.0,325.0 L73.8,330.3 L77.5,334.9 L81.3,339.3 L84.2,343.1 L85.0,344.3 L88.8,349.7 L92.6,355.1 L96.3,360.6 L99.1,364.7 L100.1,366.1 L103.8,371.7 L107.6,377.3 L111.3,382.6 L114.3,386.2 L115.1,387.2 L118.8,391.1 L122.6,394.6 L126.3,397.9 L130.1,401.1 L133.9,404.4 L137.6,407.8 L137.6,407.9 L141.4,411.5 L145.1,415.2 L148.9,418.9 L152.6,422.7 L156.4,426.4 L159.4,429.4 L160.1,430.1 L163.9,434.0 L167.6,437.9 L171.4,441.9 L175.2,445.6 L178.9,449.1 L181.2,451.0 L182.7,452.1 L186.4,454.9 L190.2,457.5 L193.9,459.9 L197.0,461.7 L197.7,462.2 L201.4,464.4 L205.2,466.6 L208.9,468.7 L212.7,470.6 L216.5,472.3 L217.0,472.5 L220.2,473.8 L224.0,475.2 L227.7,476.6 L231.5,477.8 L235.2,479.0 L239.0,480.1 L242.7,481.2 L246.5,482.3 L250.1,483.3 L250.2,483.4 L254.0,484.4 L257.8,485.4 L261.5,486.4 L265.3,487.4 L269.0,488.3 L272.8,489.1 L275.6,489.8 L276.5,490.0 L280.3,490.9 L284.0,491.9 L287.8,492.8 L291.5,493.6 L295.3,494.0 L297.7,494.1 L299.1,494.1 L302.8,494.1 L306.6,494.1"/>
<path d="M47.5,278.4 L51.3,278.4 L52.2,278.4 L54.1,289.2 L55.0,293.8 L56.3,300.0 L58.8,312.4 L61.0,321.5 L62.5,325.6 L66.3,333.7 L70.0,340.3 L71.6,343.1 L73.8,347.0 L77.5,353.4 L81.3,359.5 L84.7,364.7 L85.0,365.2 L88.8,371.0 L92.6,376.5 L96.3,381.7 L100.1,386.2 L100.1,386.2 L103.8,390.2 L107.6,393.8 L111.3,397.1 L115.1,400.3 L118.8,403.4 L122.6,406.6 L124.0,407.8 L126.3,409.9 L130.1,413.1 L133.9,416.3 L137.6,419.5 L141.4,422.7 L145.1,425.9 L148.9,429.1 L149.2,429.4 L152.6,432.3 L156.4,435.6 L160.1,439.0 L163.9,442.3 L167.6,445.5 L171.4,448.5 L174.8,451.0 L175.2,451.2 L178.9,453.7 L182.7,456.0 L186.4,458.2 L190.2,460.3 L192.8,461.7 L193.9,462.3 L197.7,464.3 L201.4,466.3 L205.2,468.2 L208.9,469.9 L212.7,471.5 L215.2,472.5 L216.5,473.0 L220.2,474.3 L224.0,475.6 L227.7,476.8 L231.5,478.0 L235.2,479.0 L239.0,480.1 L242.7,481.1 L246.5,482.1 L250.2,483.1 L251.0,483.3 L254.0,484.1 L257.8,485.1 L261.5,486.0 L265.3,486.9 L269.0,487.8 L272.8,488.6 L276.5,489.4 L278.2,489.8 L280.3,490.2 L284.0,491.1 L287.8,492.1 L291.5,492.9 L295.3,493.6 L299.1,494.0 L301.2,494.1 L302.8,494.1 L306.6,494.1"/>
<path d="M47.5,278.4 L51.3,278.4 L55.0,278.4 L56.1,278.4 L58.5,289.2 L58.8,290.1 L61.3,300.0 L62.5,304.4 L66.3,317.3 L67.7,321.5 L70.0,327.2 L73.8,335.0 L77.1,343.1 L77.5,344.6 L81.3,359.4 L82.5,364.7 L85.0,378.2 L86.8,386.2 L88.8,392.4 L92.6,401.6 L95.6,407.8 L96.3,409.3 L100.1,416.1 L103.8,422.2 L107.6,428.4 L108.1,429.4 L111.3,435.5 L115.1,442.9 L118.8,449.5 L119.8,451.0 L122.6,454.4 L126.3,458.4 L129.7,461.7 L130.1,462.2 L133.9,466.1 L137.6,469.8 L140.9,472.5 L141.4,472.9 L145.1,475.4 L148.9,477.6 L152.6,479.6 L156.4,481.4 L160.1,483.0 L160.8,483.3 L163.9,484.6 L167.6,486.1 L171.4,487.5 L175.2,488.7 L178.9,489.8 L178.9,489.8 L182.7,490.8 L186.4,491.8 L190.2,492.7 L193.9,493.4 L197.7,493.9 L201.2,494.1 L201.4,494.1 L205.2,494.1 L208.9,494.1 L212.7,494.1 L216.5,494.1 L220.2,494.1 L224.0,494.1 L227.7,494.1 L231.5,494.1 L235.2,494.1 L239.0,494.1 L242.7,494.1 L246.5,494.1 L250.2,494.1 L254.0,494.1 L257.8,494.1 L261.5,494.1 L265.3,494.1 L269.0,494.1 L272.8,494.1 L276.5,494.1 L280.3,494.1 L284.0,494.1 L287.8,494.1 L291.5,494.1 L295.3,494.1 L299.1,494.1 L302.8,494.1 L306.6,494.1"/>
<path d="M47.5,278.4 L51.3,278.4 L55.0,278.4 L57.6,278.4 L58.8,280.9 L60.7,289.2 L62.5,294.8 L64.4,300.0 L66.3,304.5 L70.0,312.9 L73.8,320.1 L74.6,321.5 L77.5,325.9 L81.3,330.7 L85.0,335.2 L88.8,340.1 L90.8,343.1 L92.6,346.2 L96.3,353.5 L100.1,361.2 L101.8,364.7 L103.8,368.9 L107.6,376.9 L111.3,384.2 L112.6,386.2 L115.1,389.7 L118.8,394.3 L122.6,398.4 L126.3,402.3 L130.1,406.4 L131.3,407.8 L133.9,410.8 L137.6,415.3 L141.4,419.8 L145.1,424.5 L148.9,429.2 L149.0,429.4 L152.6,434.3 L156.4,439.6 L160.1,444.9 L163.9,449.6 L165.1,451.0 L167.6,453.6 L171.4,457.2 L175.2,460.4 L176.7,461.7 L178.9,463.6 L182.7,466.8 L186.4,469.7 L190.2,472.2 L190.7,472.5 L193.9,474.3 L197.7,476.2 L201.4,478.0 L205.2,479.6 L208.9,481.1 L212.7,482.5 L214.8,483.3 L216.5,483.9 L220.2,485.3 L224.0,486.6 L227.7,487.8 L231.5,488.9 L234.6,489.8 L235.2,489.9 L239.0,491.0 L242.7,492.1 L246.5,493.0 L250.2,493.7 L254.0,494.1 L254.9,494.1 L257.8,494.1 L261.5,494.1 L265.3,494.1 L269.0,494.1 L272.8,494.1 L276.5,494.1 L280.3,494.1 L284.0,494.1 L287.8,494.1 L291.5,494.1 L295.3,494.1 L299.1,494.1 L302.8,494.1 L306.6,494.1"/>
<path d="M47.5,278.4 L51.3,278.4 L52.5,278.4 L54.4,289.2 L55.0,292.5 L56.4,300.0 L58.8,314.7 L60.1,321.5 L62.5,330.6 L66.3,341.3 L66.9,343.1 L70.0,352.0 L73.8,361.7 L75.0,364.7 L77.5,370.6 L81.3,378.8 L85.0,385.7 L85.4,386.2 L88.8,391.1 L92.6,395.8 L96.3,400.0 L100.1,404.0 L103.8,407.8 L103.8,407.9 L107.6,411.7 L111.3,415.3 L115.1,418.7 L118.8,422.1 L122.6,425.5 L126.3,429.0 L126.7,429.4 L130.1,432.7 L133.9,436.5 L137.6,440.4 L141.4,444.1 L145.1,447.7 L148.9,450.9 L148.9,451.0 L152.6,453.8 L156.4,456.5 L160.1,459.1 L163.9,461.5 L164.2,461.7 L167.6,464.0 L171.4,466.4 L175.2,468.7 L178.9,470.8 L182.3,472.5 L182.7,472.7 L186.4,474.4 L190.2,475.9 L193.9,477.4 L197.7,478.7 L201.4,480.0 L205.2,481.3 L208.9,482.5 L211.6,483.3 L212.7,483.6 L216.5,484.8 L220.2,485.9 L224.0,486.9 L227.7,487.9 L231.5,488.9 L235.2,489.7 L235.4,489.8 L239.0,490.6 L242.7,491.6 L246.5,492.5 L250.2,493.3 L254.0,493.8 L257.8,494.1 L258.5,494.1 L261.5,494.1 L265.3,494.1 L269.0,494.1 L272.8,494.1 L276.5,494.1 L280.3,494.1 L284.0,494.1 L287.8,494.1 L291.5,494.1 L295.3,494.1 L299.1,494.1 L302.8,494.1 L306.6,494.1"/>
<path d="M47.5,278.4 L51.3,278.4 L55.0,278.4 L57.5,278.4 L58.8,281.6 L60.5,289.2 L62.5,295.5 L64.2,300.0 L66.3,305.2 L70.0,313.5 L73.8,320.8 L74.2,321.5 L77.5,326.6 L81.3,331.4 L85.0,336.1 L88.8,341.7 L89.6,343.1 L92.6,349.3 L96.3,358.7 L98.6,364.7 L100.1,368.8 L103.8,380.2 L106.3,386.2 L107.6,388.7 L111.3,394.9 L115.1,400.0 L118.8,404.7 L121.2,407.8 L122.6,409.6 L126.3,414.5 L130.1,419.2 L133.9,423.7 L137.6,428.2 L138.6,429.4 L141.4,432.7 L145.1,437.3 L148.9,441.8 L152.6,446.1 L156.4,449.9 L157.5,451.0 L160.1,453.3 L163.9,456.2 L167.6,459.0 L171.4,461.6 L171.6,461.7 L175.2,464.3 L178.9,466.9 L182.7,469.4 L186.4,471.6 L188.2,472.5 L190.2,473.5 L193.9,475.3 L197.7,476.9 L201.4,478.4 L205.2,479.9 L208.9,481.3 L212.7,482.6 L214.8,483.3 L216.5,483.9 L220.2,485.2 L224.0,486.4 L227.7,487.6 L231.5,488.7 L235.2,489.7 L235.6,489.8 L239.0,490.7 L242.7,491.8 L246.5,492.8 L250.2,493.5 L254.0,494.0 L256.1,494.1 L257.8,494.1 L261.5,494.1 L265.3,494.1 L269.0,494.1 L272.8,494.1 L276.5,494.1 L280.3,494.1 L284.0,494.1 L287.8,494.1 L291.5,494.1 L295.3,494.1 L299.1,494.1 L302.8,494.1 L306.6,494.1"/>
<path d="M47.5,278.4 L51.3,278.4 L55.0,278.4 L58.8,278.4 L62.5,278.4 L66.3,278.4 L70.0,278.4 L73.8,278.4 L77.5,278.4 L81.3,278.4 L85.0,278.4 L88.5,278.4 L88.8,278.4 L92.6,282.0 L96.3,287.9 L97.3,289.2 L100.1,292.7 L103.8,297.4 L105.9,300.0 L107.6,301.9 L111.3,305.9 L115.1,309.8 L118.8,313.8 L122.6,318.1 L125.2,321.5 L126.3,323.3 L130.1,329.7 L133.9,336.7 L137.4,343.1 L137.6,343.4 L141.4,349.4 L145.1,355.2 L148.9,361.1 L151.0,364.7 L152.6,367.4 L156.4,374.3 L160.1,381.4 L162.8,386.2 L163.9,388.2 L167.6,394.8 L171.4,401.3 L175.2,407.7 L175.2,407.8 L178.9,414.1 L182.7,420.5 L186.4,427.0 L187.7,429.4 L190.2,434.4 L193.9,442.8 L197.7,449.8 L198.5,451.0 L201.4,454.1 L205.2,457.2 L208.9,460.0 L211.2,461.7 L212.7,463.0 L216.5,466.3 L220.2,469.5 L224.0,472.4 L224.1,472.5 L227.7,475.1 L231.5,477.8 L235.2,480.2 L239.0,482.3 L241.3,483.3 L242.7,483.9 L246.5,485.3 L250.2,486.6 L254.0,487.7 L257.8,488.7 L261.5,489.6 L262.2,489.8 L265.3,490.6 L269.0,491.6 L272.8,492.6 L276.5,493.4 L280.3,493.9 L283.5,494.1 L284.0,494.1 L287.8,494.1 L291.5,494.1 L295.3,494.1 L299.1,494.1 L302.8,494.1 L306.6,494.1"/>
<path d="M47.5,278.4 L51.3,278.4 L55.0,278.4 L58.8,278.4 L62.5,278.4 L66.3,278.4 L70.0,278.4 L73.8,278.4 L77.5,278.4 L81.3,278.4 L85.0,278.4 L88.8,278.4 L92.6,278.4 L96.3,278.4 L100.1,278.4 L103.8,278.4 L107.6,278.4 L111.3,278.4 L114.4,278.4 L115.1,278.5 L118.8,281.0 L122.6,285.4 L125.9,289.2 L126.3,289.6 L130.1,293.0 L133.9,296.6 L136.9,300.0 L137.6,300.8 L141.4,306.4 L145.1,312.9 L148.9,319.6 L150.0,321.5 L152.6,326.3 L156.4,333.1 L160.1,340.4 L161.4,343.1 L163.9,348.7 L167.6,358.0 L170.3,364.7 L171.4,367.7 L175.2,378.3 L178.3,386.2 L178.9,387.5 L182.7,394.5 L186.4,400.6 L190.2,406.7 L190.8,407.8 L193.9,413.2 L197.7,419.7 L201.4,426.2 L203.2,429.4 L205.2,433.0 L208.9,440.5 L212.7,447.4 L215.1,451.0 L216.5,452.5 L220.2,456.3 L224.0,459.6 L226.4,461.7 L227.7,462.9 L231.5,466.3 L235.2,469.5 L239.0,472.4 L239.2,472.5 L242.7,475.1 L246.5,477.7 L250.2,480.1 L254.0,482.2 L256.3,483.3 L257.8,484.0 L261.5,485.5 L265.3,486.9 L269.0,488.2 L272.8,489.3 L274.6,489.8 L276.5,490.3 L280.3,491.3 L284.0,492.3 L287.8,493.2 L291.5,493.8 L295.3,494.1 L295.9,494.1 L299.1,494.1 L302.8,494.1 L306.6,494.1"/>
<path d="M47.5,278.4 L51.3,278.4 L55.0,278.4 L58.8,278.4 L62.5,278.4 L66.3,278.4 L70.0,278.4 L73.8,278.4 L77.5,278.4 L81.3,278.4 L85.0,278.4 L88.8,278.4 L92.6,278.4 L96.3,278.4 L100.1,278.4 L103.8,278.4 L107.1,278.4 L107.6,278.4 L111.3,281.4 L115.1,286.6 L117.1,289.2 L118.8,291.1 L122.6,295.2 L126.3,299.7 L126.6,300.0 L130.1,304.9 L133.9,310.6 L137.6,316.8 L140.3,321.5 L141.4,323.5 L145.1,330.9 L148.9,338.9 L150.9,343.1 L152.6,346.7 L156.4,354.5 L160.1,362.5 L161.1,364.7 L163.9,371.1 L167.6,380.0 L170.5,386.2 L171.4,388.0 L175.2,395.0 L178.9,401.5 L182.5,407.8 L182.7,408.0 L186.4,414.7 L190.2,421.4 L193.9,428.4 L194.4,429.4 L197.7,436.5 L201.4,445.1 L204.8,451.0 L205.2,451.5 L208.9,455.5 L212.7,458.6 L216.4,461.7 L216.5,461.8 L220.2,465.2 L224.0,468.6 L227.7,471.7 L228.8,472.5 L231.5,474.5 L235.2,477.2 L239.0,479.8 L242.7,482.0 L245.5,483.3 L246.5,483.7 L250.2,485.2 L254.0,486.5 L257.8,487.7 L261.5,488.8 L265.3,489.7 L265.5,489.8 L269.0,490.7 L272.8,491.8 L276.5,492.7 L280.3,493.5 L284.0,494.0 L286.6,494.1 L287.8,494.1 L291.5,494.1 L295.3,494.1 L299.1,494.1 L302.8,494.1 L306.6,494.1"/>
<path d="M47.5,278.4 L51.3,278.4 L55.0,278.4 L58.8,278.4 L62.5,278.4 L66.3,278.4 L70.0,278.4 L73.8,278.4 L77.5,278.4 L81.3,278.4 L85.0,278.4 L88.8,278.4 L92.6,278.4 L95.4,278.4 L96.3,278.6 L100.1,282.3 L103.8,287.9 L104.8,289.2 L107.6,292.4 L111.3,296.8 L114.0,300.0 L115.1,301.3 L118.8,305.7 L122.6,310.0 L126.3,314.7 L130.1,319.8 L131.3,321.5 L133.9,325.8 L137.6,332.9 L141.4,340.3 L142.9,343.1 L145.1,347.1 L148.9,353.7 L152.6,360.3 L155.0,364.7 L156.4,367.3 L160.1,374.9 L163.9,382.5 L165.9,386.2 L167.6,389.5 L171.4,396.0 L175.2,402.3 L178.4,407.8 L178.9,408.6 L182.7,414.9 L186.4,421.1 L190.2,427.5 L191.2,429.4 L193.9,434.7 L197.7,442.7 L201.4,449.5 L202.5,451.0 L205.2,453.8 L208.9,457.1 L212.7,460.0 L214.9,461.7 L216.5,463.1 L220.2,466.4 L224.0,469.6 L227.6,472.5 L227.7,472.6 L231.5,475.3 L235.2,478.0 L239.0,480.4 L242.7,482.4 L244.6,483.3 L246.5,484.1 L250.2,485.5 L254.0,486.8 L257.8,487.9 L261.5,488.9 L264.8,489.8 L265.3,489.9 L269.0,490.9 L272.8,491.9 L276.5,492.9 L280.3,493.6 L284.0,494.0 L286.0,494.1 L287.8,494.1 L291.5,494.1 L295.3,494.1 L299.1,494.1 L302.8,494.1 L306.6,494.1"/>
<path d="M47.5,278.4 L51.3,278.4 L55.0,278.4 L58.8,278.4 L62.5,278.4 L66.3,278.4 L70.0,278.4 L73.8,278.4 L77.5,278.4 L81.3,278.4 L85.0,278.4 L88.8,278.4 L92.6,278.4 L96.3,278.4 L100.1,278.4 L103.8,278.4 L105.5,278.4 L107.6,279.0 L111.3,282.4 L115.1,286.9 L117.2,289.2 L118.8,290.6 L122.6,294.0 L126.3,297.5 L128.8,300.0 L130.1,301.4 L133.9,305.9 L137.6,310.7 L141.4,315.9 L145.1,321.2 L145.3,321.5 L148.9,326.8 L152.6,332.8 L156.4,339.2 L158.6,343.1 L160.1,346.0 L163.9,353.4 L167.6,361.3 L169.2,364.7 L171.4,369.8 L175.2,379.1 L178.4,386.2 L178.9,387.3 L182.7,393.8 L186.4,399.7 L190.2,405.4 L191.7,407.8 L193.9,411.4 L197.7,417.4 L201.4,423.5 L205.1,429.4 L205.2,429.6 L208.9,436.2 L212.7,442.9 L216.5,448.9 L218.1,451.0 L220.2,453.4 L224.0,457.0 L227.7,460.2 L229.5,461.7 L231.5,463.5 L235.2,466.7 L239.0,469.7 L242.7,472.5 L242.7,472.6 L246.5,475.2 L250.2,477.7 L254.0,480.1 L257.8,482.2 L260.1,483.3 L261.5,483.9 L265.3,485.5 L269.0,487.0 L272.8,488.3 L276.5,489.4 L278.0,489.8 L280.3,490.4 L284.0,491.4 L287.8,492.4 L291.5,493.3 L295.3,493.9 L299.1,494.1 L299.4,494.1 L302.8,494.1 L306.6,494.1"/>
<path d="M47.5,278.4 L51.3,278.4 L55.0,278.4 L58.8,278.4 L62.5,278.4 L66.3,278.4 L70.0,278.4 L73.8,278.4 L77.5,278.4 L81.3,278.4 L85.0,278.4 L88.8,278.4 L92.6,278.4 L92.7,278.4 L96.3,280.6 L100.1,285.5 L103.0,289.2 L103.8,290.0 L107.6,293.9 L111.3,297.8 L113.3,300.0 L115.1,301.8 L118.8,305.7 L122.6,309.6 L126.3,313.7 L130.1,318.1 L132.8,321.5 L133.9,322.9 L137.6,328.5 L141.4,334.6 L145.1,340.9 L146.5,343.1 L148.9,346.8 L152.6,352.8 L156.4,358.8 L159.9,364.7 L160.1,365.1 L163.9,372.1 L167.6,379.3 L171.4,386.1 L171.5,386.2 L175.2,392.2 L178.9,397.8 L182.7,403.4 L185.6,407.8 L186.4,409.0 L190.2,414.7 L193.9,420.5 L197.7,426.3 L199.6,429.4 L201.4,432.4 L205.2,439.2 L208.9,445.8 L212.6,451.0 L212.7,451.1 L216.5,455.0 L220.2,458.2 L224.0,461.3 L224.5,461.7 L227.7,464.5 L231.5,467.7 L235.2,470.8 L237.6,472.5 L239.0,473.5 L242.7,476.1 L246.5,478.6 L250.2,480.9 L254.0,482.9 L255.0,483.3 L257.8,484.5 L261.5,486.0 L265.3,487.3 L269.0,488.5 L272.8,489.5 L273.7,489.8 L276.5,490.5 L280.3,491.6 L284.0,492.5 L287.8,493.4 L291.5,493.9 L295.1,494.1 L295.3,494.1 L299.1,494.1 L302.8,494.1 L306.6,494.1"/>
<path d="M47.5,278.4 L51.3,278.4 L55.0,278.4 L58.8,278.4 L62.5,278.4 L66.3,278.4 L70.0,278.4 L73.8,278.4 L77.5,278.4 L81.3,278.4 L85.0,278.4 L88.8,278.4 L92.6,278.4 L96.3,278.4 L99.5,278.4 L100.1,278.5 L103.8,281.9 L107.6,287.5 L108.9,289.2 L111.3,292.1 L115.1,296.5 L117.8,300.0 L118.8,301.2 L122.6,306.0 L126.3,310.9 L130.1,316.2 L133.5,321.5 L133.9,322.1 L137.6,329.2 L141.4,337.1 L144.3,343.1 L145.1,344.7 L148.9,351.7 L152.6,358.8 L155.7,364.7 L156.4,366.1 L160.1,373.9 L163.9,381.8 L166.1,386.2 L167.6,389.1 L171.4,395.8 L175.2,402.2 L178.4,407.8 L178.9,408.6 L182.7,415.0 L186.4,421.4 L190.2,427.9 L191.0,429.4 L193.9,435.5 L197.7,443.8 L201.4,450.4 L201.8,451.0 L205.2,454.5 L208.9,457.7 L212.7,460.6 L214.0,461.7 L216.5,463.9 L220.2,467.3 L224.0,470.5 L226.6,472.5 L227.7,473.4 L231.5,476.1 L235.2,478.8 L239.0,481.1 L242.7,483.1 L243.3,483.3 L246.5,484.6 L250.2,486.0 L254.0,487.2 L257.8,488.3 L261.5,489.2 L263.6,489.8 L265.3,490.2 L269.0,491.2 L272.8,492.2 L276.5,493.1 L280.3,493.8 L284.0,494.1 L284.8,494.1 L287.8,494.1 L291.5,494.1 L295.3,494.1 L299.1,494.1 L302.8,494.1 L306.6,494.1"/>
<path d="M47.5,278.4 L51.3,278.4 L55.0,278.4 L58.8,278.4 L62.5,278.4 L66.3,278.4 L70.0,278.4 L73.8,278.4 L77.5,278.4 L81.3,278.4 L85.0,278.4 L88.8,278.4 L92.6,278.4 L96.3,278.4 L100.1,278.4 L103.8,278.4 L107.6,278.4 L111.2,278.4 L111.3,278.4 L115.1,280.4 L118.8,284.7 L122.6,289.1 L122.7,289.2 L126.3,292.5 L130.1,296.0 L133.8,300.0 L133.9,300.1 L137.6,305.0 L141.4,310.7 L145.1,316.9 L147.9,321.5 L148.9,323.1 L152.6,329.5 L156.4,336.3 L159.9,343.1 L160.1,343.5 L163.9,351.5 L167.6,360.1 L169.6,364.7 L171.4,369.2 L175.2,379.1 L178.2,386.2 L178.9,387.6 L182.7,394.3 L186.4,400.3 L190.2,406.2 L191.1,407.8 L193.9,412.5 L197.7,418.8 L201.4,425.2 L203.8,429.4 L205.2,431.8 L208.9,439.1 L212.7,446.1 L215.9,451.0 L216.5,451.6 L220.2,455.6 L224.0,459.0 L227.1,461.7 L227.7,462.3 L231.5,465.6 L235.2,468.9 L239.0,471.8 L239.9,472.5 L242.7,474.6 L246.5,477.2 L250.2,479.6 L254.0,481.8 L257.0,483.3 L257.8,483.7 L261.5,485.2 L265.3,486.7 L269.0,488.0 L272.8,489.1 L275.3,489.8 L276.5,490.1 L280.3,491.2 L284.0,492.2 L287.8,493.1 L291.5,493.7 L295.3,494.1 L296.6,494.1 L299.1,494.1 L302.8,494.1 L306.6,494.1"/>
<path d="M47.5,278.4 L51.3,278.4 L55.0,278.4 L58.8,278.4 L62.5,278.4 L66.3,278.4 L70.0,278.4 L73.8,278.4 L77.5,278.4 L81.3,278.4 L85.0,278.4 L88.8,278.4 L92.6,278.4 L96.3,278.4 L100.1,278.4 L103.8,278.4 L107.6,278.4 L111.3,278.4 L115.1,278.4 L118.8,278.4 L122.6,278.4 L123.2,278.4 L126.3,279.6 L130.1,283.2 L133.9,287.4 L135.6,289.2 L137.6,290.9 L141.4,293.9 L145.1,297.4 L147.4,300.0 L148.9,302.2 L152.6,309.5 L156.4,317.8 L158.2,321.5 L160.1,325.3 L163.9,332.1 L167.6,339.6 L169.2,343.1 L171.4,349.3 L175.2,361.2 L176.2,364.7 L178.9,373.7 L182.7,385.4 L183.0,386.2 L186.4,393.2 L190.2,399.4 L193.9,405.2 L195.5,407.8 L197.7,411.5 L201.4,417.9 L205.2,424.3 L208.1,429.4 L208.9,430.8 L212.7,437.7 L216.5,444.5 L220.2,450.3 L220.7,451.0 L224.0,454.6 L227.7,458.2 L231.5,461.6 L231.6,461.7 L235.2,465.0 L239.0,468.2 L242.7,471.2 L244.5,472.5 L246.5,474.0 L250.2,476.6 L254.0,479.1 L257.8,481.4 L261.5,483.3 L261.5,483.3 L265.3,485.0 L269.0,486.5 L272.8,487.9 L276.5,489.1 L279.0,489.8 L280.3,490.1 L284.0,491.2 L287.8,492.2 L291.5,493.1 L295.3,493.7 L299.1,494.1 L300.2,494.1 L302.8,494.1 L306.6,494.1"/>
<path d="M47.5,278.4 L51.3,278.4 L55.0,278.4 L58.8,278.4 L62.5,278.4 L66.3,278.4 L70.0,278.4 L73.8,278.4 L77.5,278.4 L81.3,278.4 L85.0,278.4 L88.8,278.4 L92.6,278.4 L96.3,278.4 L100.1,278.4 L103.8,278.4 L107.6,278.4 L111.3,278.4 L115.1,278.4 L116.5,278.4 L118.8,279.1 L122.6,282.3 L126.3,286.6 L128.9,289.2 L130.1,290.3 L133.9,293.4 L137.6,296.7 L140.7,300.0 L141.4,300.7 L145.1,306.2 L148.9,312.6 L152.6,319.4 L153.9,321.5 L156.4,325.7 L160.1,332.0 L163.9,338.8 L166.0,343.1 L167.6,346.7 L171.4,356.2 L174.6,364.7 L175.2,366.2 L178.9,377.3 L182.3,386.2 L182.7,387.0 L186.4,393.9 L190.2,399.9 L193.9,405.6 L195.3,407.8 L197.7,411.9 L201.4,418.2 L205.2,424.5 L208.1,429.4 L208.9,430.9 L212.7,437.8 L216.5,444.7 L220.2,450.4 L220.6,451.0 L224.0,454.7 L227.7,458.3 L231.5,461.7 L231.6,461.7 L235.2,465.0 L239.0,468.3 L242.7,471.3 L244.4,472.5 L246.5,474.0 L250.2,476.6 L254.0,479.1 L257.8,481.3 L261.5,483.3 L261.6,483.3 L265.3,484.9 L269.0,486.5 L272.8,487.8 L276.5,489.1 L279.1,489.8 L280.3,490.1 L284.0,491.1 L287.8,492.1 L291.5,493.0 L295.3,493.7 L299.1,494.1 L300.5,494.1 L302.8,494.1 L306.6,494.1"/>
<path d="M47.5,278.4 L51.3,278.4 L55.0,278.4 L58.8,278.4 L62.5,278.4 L66.3,278.4 L70.0,278.4 L73.8,278.4 L77.5,278.4 L81.3,278.4 L82.8,278.4 L85.0,279.6 L88.8,285.0 L91.6,289.2 L92.6,290.3 L96.3,295.0 L100.1,299.5 L100.5,300.0 L103.8,303.5 L107.6,307.1 L111.3,310.5 L115.1,314.1 L118.8,317.9 L121.9,321.5 L122.6,322.4 L126.3,328.0 L130.1,334.3 L133.9,340.5 L135.5,343.1 L137.6,346.2 L141.4,351.4 L145.1,356.5 L148.9,361.8 L150.8,364.7 L152.6,367.5 L156.4,373.6 L160.1,380.0 L163.9,386.1 L164.0,386.2 L167.6,392.0 L171.4,397.8 L175.2,403.6 L177.9,407.8 L178.9,409.4 L182.7,415.1 L186.4,420.8 L190.2,426.6 L191.9,429.4 L193.9,432.8 L197.7,439.8 L201.4,446.5 L204.7,451.0 L205.2,451.5 L208.9,455.1 L212.7,458.0 L216.5,460.8 L217.6,461.7 L220.2,463.9 L224.0,467.0 L227.7,469.9 L231.3,472.5 L231.5,472.7 L235.2,475.2 L239.0,477.7 L242.7,480.0 L246.5,482.0 L249.3,483.3 L250.2,483.7 L254.0,485.2 L257.8,486.5 L261.5,487.7 L265.3,488.7 L269.0,489.7 L269.3,489.8 L272.8,490.7 L276.5,491.7 L280.3,492.7 L284.0,493.4 L287.8,494.0 L290.9,494.1 L291.5,494.1 L295.3,494.1 L299.1,494.1 L302.8,494.1 L306.6,494.1"/>
<path d="M47.5,278.4 L51.3,278.4 L55.0,278.4 L58.8,278.4 L62.5,278.4 L66.3,278.4 L70.0,278.4 L73.8,278.4 L77.5,278.4 L81.3,278.4 L85.0,278.4 L88.8,278.4 L92.6,278.4 L96.3,278.4 L100.1,278.4 L103.8,278.4 L107.6,278.4 L111.3,278.4 L115.1,278.4 L118.8,278.4 L120.4,278.4 L122.6,279.0 L126.3,281.9 L130.1,285.9 L133.4,289.2 L133.9,289.6 L137.6,292.6 L141.4,295.6 L145.1,299.4 L145.7,300.0 L148.9,304.7 L152.6,311.6 L156.4,319.1 L157.7,321.5 L160.1,325.9 L163.9,332.4 L167.6,339.6 L169.3,343.1 L171.4,348.6 L175.2,359.8 L176.8,364.7 L178.9,371.4 L182.7,383.0 L184.0,386.2 L186.4,391.2 L190.2,397.4 L193.9,402.9 L197.1,407.8 L197.7,408.7 L201.4,414.9 L205.2,421.0 L208.9,427.1 L210.3,429.4 L212.7,433.4 L216.5,440.1 L220.2,446.5 L223.4,451.0 L224.0,451.7 L227.7,455.8 L231.5,459.3 L234.1,461.7 L235.2,462.8 L239.0,466.1 L242.7,469.3 L246.5,472.3 L246.8,472.5 L250.2,475.0 L254.0,477.6 L257.8,480.0 L261.5,482.2 L263.8,483.3 L265.3,484.0 L269.0,485.7 L272.8,487.2 L276.5,488.5 L280.3,489.7 L280.7,489.8 L284.0,490.7 L287.8,491.7 L291.5,492.7 L295.3,493.5 L299.1,494.0 L301.9,494.1 L302.8,494.1 L306.6,494.1"/>
<path d="M47.5,278.4 L51.3,278.4 L55.0,278.4 L58.8,278.4 L62.5,278.4 L66.3,278.4 L70.0,278.4 L73.8,278.4 L77.5,278.4 L81.3,278.4 L85.0,278.4 L88.8,278.4 L92.6,278.4 L96.3,278.4 L100.1,278.4 L102.4,278.4 L103.8,278.8 L107.6,282.1 L111.3,287.0 L113.3,289.2 L115.1,291.0 L118.8,294.7 L122.6,298.5 L123.9,300.0 L126.3,302.8 L130.1,307.4 L133.9,312.2 L137.6,317.3 L140.5,321.5 L141.4,322.8 L145.1,328.8 L148.9,335.2 L152.6,341.9 L153.3,343.1 L156.4,348.7 L160.1,355.8 L163.9,363.2 L164.6,364.7 L167.6,371.2 L171.4,379.8 L174.5,386.2 L175.2,387.5 L178.9,393.9 L182.7,399.9 L186.4,405.8 L187.7,407.8 L190.2,411.9 L193.9,418.1 L197.7,424.3 L200.7,429.4 L201.4,430.7 L205.2,437.9 L208.9,445.0 L212.7,450.8 L212.9,451.0 L216.5,454.8 L220.2,458.1 L224.0,461.3 L224.5,461.7 L227.7,464.6 L231.5,467.8 L235.2,470.8 L237.5,472.5 L239.0,473.6 L242.7,476.2 L246.5,478.7 L250.2,481.0 L254.0,482.9 L254.8,483.3 L257.8,484.6 L261.5,486.0 L265.3,487.4 L269.0,488.5 L272.8,489.6 L273.5,489.8 L276.5,490.6 L280.3,491.6 L284.0,492.6 L287.8,493.4 L291.5,493.9 L294.9,494.1 L295.3,494.1 L299.1,494.1 L302.8,494.1 L306.6,494.1"/>
<path d="M47.5,278.4 L51.3,278.4 L55.0,278.4 L58.8,278.4 L62.5,278.4 L66.3,278.4 L70.0,278.4 L73.8,278.4 L77.5,278.4 L81.3,278.4 L85.0,278.4 L85.6,278.4 L88.8,280.6 L92.6,286.3 L94.6,289.2 L96.3,291.2 L100.1,295.7 L103.7,300.0 L103.8,300.1 L107.6,304.0 L111.3,307.7 L115.1,311.3 L118.8,315.1 L122.6,319.3 L124.4,321.5 L126.3,324.3 L130.1,330.4 L133.9,337.0 L137.5,343.1 L137.6,343.3 L141.4,349.1 L145.1,354.6 L148.9,360.2 L151.7,364.7 L152.6,366.3 L156.4,372.9 L160.1,379.7 L163.8,386.2 L163.9,386.4 L167.6,392.7 L171.4,398.8 L175.2,404.9 L176.9,407.8 L178.9,411.0 L182.7,417.0 L186.4,423.1 L190.2,429.3 L190.2,429.4 L193.9,436.4 L197.7,443.9 L201.4,450.0 L202.2,451.0 L205.2,454.0 L208.9,457.1 L212.7,459.9 L215.0,461.7 L216.5,462.9 L220.2,466.1 L224.0,469.2 L227.7,472.1 L228.4,472.5 L231.5,474.7 L235.2,477.3 L239.0,479.7 L242.7,481.8 L246.0,483.3 L246.5,483.5 L250.2,485.0 L254.0,486.3 L257.8,487.5 L261.5,488.6 L265.3,489.5 L266.3,489.8 L269.0,490.5 L272.8,491.5 L276.5,492.5 L280.3,493.3 L284.0,493.9 L287.7,494.1 L287.8,494.1 L291.5,494.1 L295.3,494.1 L299.1,494.1 L302.8,494.1 L306.6,494.1"/>
<path d="M47.5,278.4 L51.3,278.4 L55.0,278.4 L58.8,278.4 L62.5,278.4 L66.3,278.4 L70.0,278.4 L73.8,278.4 L77.5,278.4 L81.3,278.4 L85.0,278.4 L88.8,278.4 L92.6,278.4 L96.3,278.4 L100.1,278.4 L103.8,278.4 L107.6,278.4 L111.3,278.4 L115.1,278.4 L118.8,278.4 L122.6,278.4 L126.1,278.4 L126.3,278.4 L130.1,280.2 L133.9,283.9 L137.6,288.1 L138.8,289.2 L141.4,291.3 L145.1,294.3 L148.9,297.8 L150.7,300.0 L152.6,303.1 L156.4,311.3 L160.1,320.2 L160.8,321.5 L163.9,327.5 L167.6,334.3 L171.4,342.3 L171.7,343.1 L175.2,353.5 L178.4,364.7 L178.9,366.4 L182.7,379.9 L184.8,386.2 L186.4,389.8 L190.2,396.6 L193.9,402.3 L197.4,407.8 L197.7,408.4 L201.4,414.8 L205.2,421.3 L208.9,427.7 L209.9,429.4 L212.7,434.4 L216.5,441.3 L220.2,447.6 L222.6,451.0 L224.0,452.6 L227.7,456.6 L231.5,460.0 L233.4,461.7 L235.2,463.4 L239.0,466.8 L242.7,469.9 L246.2,472.5 L246.5,472.7 L250.2,475.4 L254.0,477.9 L257.8,480.3 L261.5,482.4 L263.4,483.3 L265.3,484.2 L269.0,485.8 L272.8,487.3 L276.5,488.6 L280.3,489.7 L280.6,489.8 L284.0,490.7 L287.8,491.8 L291.5,492.7 L295.3,493.5 L299.1,494.0 L301.8,494.1 L302.8,494.1 L306.6,494.1"/>
<path d="M47.5,278.4 L52.2,278.4 L56.9,278.4 L61.6,278.4 L66.3,278.5 L71.0,278.5 L75.8,278.6 L80.5,278.6 L85.2,278.7 L89.9,278.8 L94.6,278.9 L99.3,279.0 L104.0,279.2 L107.0,279.3 L108.7,279.4 L113.4,280.3 L118.1,281.7 L122.8,283.4 L123.9,283.8 L127.5,285.5 L132.3,288.4 L137.0,291.7 L141.7,294.5 L142.6,295.0 L146.4,296.6 L151.1,298.4 L155.8,300.0 L160.5,301.7 L165.1,303.9 L165.2,303.9 L169.9,306.9 L174.6,310.4 L176.6,311.8 L179.3,313.7 L184.1,316.8 L188.8,320.0 L191.0,321.5 L193.5,323.2 L198.2,326.4 L202.9,329.6 L207.6,332.9 L212.3,336.2 L217.0,339.6 L217.4,339.9 L221.7,343.1 L226.4,346.7 L231.1,350.3 L235.8,354.0 L240.6,357.7 L242.0,358.9 L245.3,361.4 L250.0,365.1 L252.2,366.8 L254.7,368.7 L259.4,372.2 L264.1,375.6 L268.3,378.7 L268.8,379.0 L273.5,382.5 L278.2,386.0 L282.9,389.4 L285.3,391.0 L287.6,392.5 L292.3,395.5 L297.1,398.4 L301.8,401.2 L306.5,403.9 L311.2,406.6 L312.9,407.6 L315.9,409.2 L320.6,411.7 L325.3,414.1 L330.0,416.7 L333.3,418.6 L334.7,419.4 L339.4,422.4 L342.7,425.1 L344.1,426.7 L347.8,432.6 L348.9,436.2 L351.2,446.6 L353.6,456.5 L354.6,460.5 L358.3,475.3 L359.7,479.4 L363.0,486.4 L366.9,491.5 L367.7,492.1 L372.4,494.1"/>
<path d="M47.5,278.4 L52.1,278.4 L56.8,278.4 L61.4,278.4 L66.1,278.5 L70.7,278.5 L75.4,278.5 L80.0,278.6 L84.7,278.7 L89.3,278.8 L94.0,278.9 L98.6,279.0 L103.3,279.1 L107.9,279.2 L112.6,279.4 L115.5,279.5 L117.2,279.6 L121.9,280.7 L126.5,282.3 L131.1,284.3 L132.4,284.9 L135.8,286.5 L140.4,289.2 L145.1,292.4 L149.4,295.7 L149.7,295.9 L154.4,299.9 L159.0,304.5 L163.7,309.2 L166.4,311.8 L168.3,313.6 L173.0,318.0 L177.6,322.3 L182.3,326.6 L186.9,330.6 L191.0,333.8 L191.6,334.2 L196.2,337.5 L200.9,340.6 L205.5,343.6 L210.1,346.4 L214.8,349.1 L217.4,350.7 L219.4,351.9 L224.1,354.4 L228.7,356.9 L233.4,359.3 L238.0,361.7 L242.7,364.2 L247.3,366.7 L252.0,369.5 L252.2,369.6 L256.6,372.6 L261.3,375.9 L265.9,379.2 L268.3,380.9 L270.6,382.2 L275.2,385.0 L279.9,387.6 L284.5,390.5 L285.3,391.0 L289.1,393.5 L293.8,396.8 L298.4,400.2 L303.1,403.7 L307.7,407.2 L312.4,410.6 L312.9,411.1 L317.0,414.1 L321.7,417.5 L326.3,421.0 L331.0,424.6 L333.3,426.4 L335.6,428.0 L340.3,431.1 L343.9,434.8 L344.9,436.3 L348.2,444.5 L349.6,451.1 L352.0,465.2 L354.2,473.6 L357.1,481.8 L358.9,485.4 L363.5,492.2 L364.3,492.8 L368.1,494.1"/>
<path d="M47.5,278.4 L52.1,278.4 L56.8,278.5 L61.4,278.5 L66.1,278.6 L70.7,278.8 L75.4,278.9 L80.0,279.2 L84.7,279.4 L85.7,279.5 L89.3,280.3 L94.0,282.7 L98.6,286.0 L102.7,289.2 L103.3,289.6 L107.9,293.9 L112.6,299.3 L117.2,305.0 L121.9,310.6 L123.9,312.9 L126.5,315.6 L131.1,320.6 L135.8,325.5 L140.4,330.3 L145.1,335.0 L149.7,339.5 L153.7,343.1 L154.4,343.7 L159.0,347.7 L163.7,351.5 L168.3,355.1 L173.0,358.6 L177.6,362.0 L182.3,365.5 L186.9,369.1 L191.0,372.4 L191.6,372.9 L196.2,376.8 L200.9,380.8 L205.5,384.8 L210.1,388.9 L214.8,392.8 L217.4,394.9 L219.4,396.5 L224.1,400.3 L228.7,404.1 L233.4,407.9 L238.0,411.5 L242.7,414.9 L247.3,418.0 L252.0,420.8 L252.2,421.0 L256.6,423.3 L261.3,425.6 L265.9,427.7 L270.6,429.7 L275.2,431.7 L279.9,433.6 L283.6,435.2 L284.5,435.6 L289.1,437.6 L293.8,439.5 L298.4,441.4 L303.1,443.3 L307.7,445.2 L312.4,447.1 L315.5,448.4 L317.0,449.0 L321.7,450.7 L326.3,452.3 L331.0,454.0 L335.6,455.8 L340.3,457.9 L344.8,460.5 L344.9,460.5 L349.6,464.1 L354.2,469.5 L354.6,469.9 L358.9,480.1 L361.8,486.8 L363.5,489.3 L368.1,494.1"/>
<path d="M47.5,278.4 L51.1,278.4 L54.6,278.4 L58.2,278.5 L61.8,278.6 L65.3,278.7 L68.9,278.8 L72.5,279.0 L76.1,279.1 L79.6,279.4 L81.5,279.5 L83.2,279.8 L86.8,281.4 L90.3,284.0 L93.9,287.2 L97.5,290.5 L98.5,291.3 L101.0,293.8 L104.6,297.8 L108.2,302.2 L111.8,306.9 L115.3,311.6 L118.9,316.2 L119.7,317.2 L122.5,320.7 L126.0,325.2 L129.6,329.9 L133.2,334.5 L136.7,339.1 L140.3,343.5 L143.9,347.8 L147.5,351.8 L149.4,353.9 L151.0,355.5 L154.6,359.0 L158.2,362.4 L161.7,365.6 L165.3,368.7 L168.9,371.7 L172.4,374.6 L176.0,377.5 L179.6,380.4 L183.2,383.3 L186.7,386.3 L190.3,389.3 L191.0,389.9 L193.9,392.3 L197.4,395.4 L201.0,398.6 L204.6,401.7 L208.1,404.7 L211.7,407.7 L215.3,410.5 L217.4,412.1 L218.9,413.2 L222.4,415.9 L226.0,418.5 L229.6,421.1 L233.1,423.6 L236.7,426.0 L240.3,428.4 L243.8,430.7 L247.4,433.0 L251.0,435.1 L252.2,435.9 L254.6,437.1 L258.1,438.8 L261.7,440.5 L265.3,442.6 L266.6,443.6 L268.8,445.5 L272.4,449.7 L274.7,453.1 L276.0,455.4 L279.0,462.8 L279.5,464.8 L283.1,480.2 L283.6,481.8 L286.7,488.8 L288.7,491.5 L290.3,492.7 L293.8,494.1"/>
<path d="M47.5,278.4 L52.2,278.4 L56.9,278.4 L61.5,278.4 L66.2,278.4 L70.9,278.4 L75.6,278.4 L80.2,278.4 L84.9,278.4 L89.6,278.4 L94.3,278.4 L99.0,278.4 L103.6,278.4 L108.3,278.4 L113.0,278.4 L117.7,278.4 L122.3,278.4 L127.0,278.4 L131.7,278.4 L136.4,278.4 L141.1,278.4 L145.7,278.4 L148.2,278.4 L150.4,278.7 L154.1,279.9 L155.1,280.3 L159.8,283.3 L160.9,284.2 L164.4,287.8 L167.7,292.0 L169.1,294.2 L173.2,301.9 L173.8,303.2 L177.5,311.8 L178.5,314.1 L182.1,321.8 L183.2,323.8 L185.5,328.4 L187.8,333.0 L191.9,341.0 L192.5,342.1 L197.2,350.1 L200.0,355.0 L201.9,358.6 L206.5,368.0 L208.5,371.4 L211.2,375.9 L215.9,382.5 L217.4,384.1 L220.6,386.6 L225.0,389.9 L225.3,390.1 L229.9,395.7 L234.4,401.3 L234.6,401.6 L239.3,406.7 L244.0,411.5 L248.6,416.0 L251.4,418.6 L253.3,420.4 L258.0,424.7 L262.7,428.7 L267.4,432.8 L268.3,433.7 L272.0,437.0 L276.7,441.3 L281.4,445.5 L285.3,448.8 L286.1,449.4 L290.7,453.2 L295.4,456.8 L300.1,460.2 L302.3,461.7 L304.8,463.4 L309.5,466.4 L314.1,469.3 L318.8,472.0 L323.5,474.7 L323.6,474.7 L328.2,477.2 L332.8,479.7 L337.5,482.1 L342.2,484.3 L344.8,485.5 L346.9,486.4 L351.6,488.3 L356.2,490.1 L360.9,491.7 L361.8,491.9 L365.6,493.0 L370.3,494.1"/>
<path d="M47.5,278.4 L52.0,278.4 L56.5,278.4 L61.1,278.5 L65.6,278.5 L70.1,278.6 L74.6,278.7 L79.2,278.9 L83.7,279.0 L88.2,279.2 L92.7,279.4 L94.2,279.5 L97.3,280.1 L101.8,282.4 L106.3,285.6 L110.8,288.9 L111.2,289.2 L115.4,292.4 L119.9,296.4 L124.4,300.7 L128.9,305.2 L132.4,308.6 L133.5,309.6 L138.0,314.0 L142.5,318.6 L147.0,323.2 L151.6,327.9 L156.1,332.6 L160.6,337.2 L162.2,338.8 L165.1,341.8 L169.6,346.4 L174.2,351.1 L178.7,355.7 L183.2,360.3 L187.7,364.9 L191.9,369.0 L192.3,369.4 L196.8,373.8 L201.3,378.1 L205.8,382.5 L210.4,386.7 L214.9,390.9 L219.4,395.0 L221.6,397.0 L223.9,399.1 L228.5,403.2 L233.0,407.2 L237.5,411.2 L242.0,415.0 L246.6,418.7 L251.1,422.1 L252.2,422.9 L255.6,425.3 L260.1,428.3 L264.7,431.3 L269.2,434.0 L273.7,436.6 L278.2,439.0 L280.2,440.0 L282.7,441.1 L287.3,443.0 L291.8,444.7 L296.3,446.4 L300.8,448.2 L302.3,448.8 L305.4,450.1 L309.9,452.2 L314.4,454.3 L318.9,456.5 L323.5,458.5 L323.6,458.5 L328.0,460.2 L332.5,461.8 L336.7,463.9 L337.0,464.1 L341.6,468.5 L345.6,473.8 L346.1,474.5 L350.6,483.0 L354.1,488.9 L355.1,490.1 L359.7,494.1"/>
</g>
<path d="M47.5,278.4 L50.2,278.4 L53.0,278.4 L55.7,278.4 L58.4,278.4 L61.2,278.4 L63.9,278.4 L66.6,278.5 L69.3,278.5 L72.1,278.5 L74.8,278.5 L77.5,278.6 L80.3,278.6 L83.0,278.7 L85.7,278.7 L88.5,278.8 L91.2,278.9 L93.9,279.0 L96.6,279.1 L99.4,279.2 L101.9,279.3 L102.1,279.3 L104.8,281.7 L107.4,285.7 L107.6,286.1 L110.3,293.3 L111.6,297.0 L113.0,300.3 L115.8,306.6 L118.4,312.5 L118.5,312.6 L121.2,318.4 L123.9,324.0 L126.1,328.0 L126.7,329.1 L129.4,333.7 L132.1,338.1 L134.1,341.4 L134.9,342.7 L137.6,347.5 L140.3,352.5 L142.6,356.7 L143.1,357.5 L145.8,362.3 L148.5,367.1 L151.2,371.9 L151.6,372.4 L154.0,376.7 L156.7,381.5 L159.4,386.2 L160.5,388.0 L162.2,390.8 L164.9,395.4 L167.6,399.8 L169.4,402.4 L170.4,403.8 L173.1,407.7 L175.8,411.3 L178.6,414.8 L180.4,417.1 L181.3,418.1 L184.0,421.3 L186.7,424.4 L189.5,427.3 L191.5,429.2 L192.2,429.8 L194.9,432.1 L197.7,434.3 L200.4,436.3 L202.9,438.0 L203.1,438.1 L205.9,439.9 L208.6,441.5 L211.3,443.1 L214.0,444.7 L214.0,444.7 L216.8,446.6 L219.5,448.6 L222.2,450.4 L225.0,452.0 L225.0,452.0 L227.7,453.3 L230.4,454.3 L233.2,455.3 L235.9,456.3 L236.1,456.4 L238.6,457.2 L241.3,458.1 L244.1,458.9 L245.0,459.2 L246.8,459.6 L249.5,460.3 L252.3,460.9 L255.0,461.6 L255.6,461.7 L257.7,462.3 L260.5,463.0 L263.2,463.7 L265.9,464.4 L268.3,465.0 L268.6,465.1 L271.4,465.7 L274.1,466.4 L276.8,467.1 L279.6,467.7 L282.3,468.4 L285.0,469.0 L285.3,469.1 L287.8,469.6 L290.5,470.3 L293.2,470.9 L295.9,471.5 L298.7,472.1 L301.4,472.7 L302.3,473.0 L304.1,473.4 L306.9,474.1 L309.6,474.8 L312.3,475.5 L315.1,476.2 L315.1,476.2 L317.8,476.9 L320.5,477.6 L323.3,478.3 L326.0,479.0 L327.8,479.4 L328.7,479.6 L331.4,480.3 L334.2,480.9 L336.9,481.5 L339.6,482.1 L342.4,482.7 L344.8,483.3 L345.1,483.4 L347.8,484.1 L350.6,485.0 L353.3,485.9 L356.0,487.0 L358.7,488.3 L361.5,489.6 L361.8,489.8 L364.2,491.1 L366.9,492.5 L368.1,493.0 L369.7,493.5 L372.4,494.1" fill="none" stroke="#1f97c8" stroke-width="2.1" stroke-linejoin="round"/>
<text x="40.5" y="499.3" text-anchor="end" class="t">0</text>
<text x="40.5" y="477.7" text-anchor="end" class="t">10</text>
<text x="40.5" y="456.2" text-anchor="end" class="t">20</text>
<text x="40.5" y="434.6" text-anchor="end" class="t">30</text>
<text x="40.5" y="413.0" text-anchor="end" class="t">40</text>
<text x="40.5" y="391.4" text-anchor="end" class="t">50</text>
<text x="40.5" y="369.9" text-anchor="end" class="t">60</text>
<text x="40.5" y="348.3" text-anchor="end" class="t">70</text>
<text x="40.5" y="326.7" text-anchor="end" class="t">80</text>
<text x="40.5" y="305.2" text-anchor="end" class="t">90</text>
<text x="40.5" y="283.6" text-anchor="end" class="t">100</text>
<text x="46.7" y="510.7" text-anchor="middle" class="t">0</text>
<text x="76.4" y="510.7" text-anchor="middle" class="t">7</text>
<text x="106.2" y="510.7" text-anchor="middle" class="t">14</text>
<text x="135.9" y="510.7" text-anchor="middle" class="t">21</text>
<text x="165.6" y="510.7" text-anchor="middle" class="t">28</text>
<text x="195.3" y="510.7" text-anchor="middle" class="t">35</text>
<text x="225.1" y="510.7" text-anchor="middle" class="t">42</text>
<text x="254.8" y="510.7" text-anchor="middle" class="t">49</text>
<text x="284.5" y="510.7" text-anchor="middle" class="t">56</text>
<text x="314.3" y="510.7" text-anchor="middle" class="t">63</text>
<text x="344.0" y="510.7" text-anchor="middle" class="t">70</text>
<text x="373.7" y="510.7" text-anchor="middle" class="t">77</text>
<text x="219" y="530.7" text-anchor="middle" class="ti" style="font-size:13px">Dose (Gy)</text>
<text transform="translate(17.3,384.1) rotate(-90)" text-anchor="middle" class="ti" style="font-size:13.4px">Volume (%)</text></g>
<rect x="432.0" y="37.31" width="344.0" height="1.5" fill="#5e5e5e"/>
<rect x="432.0" y="74.83" width="344.0" height="1.5" fill="#5e5e5e"/>
<rect x="432.0" y="112.35" width="344.0" height="1.5" fill="#5e5e5e"/>
<rect x="432.0" y="149.87" width="344.0" height="1.5" fill="#5e5e5e"/>
<rect x="432.0" y="187.39" width="344.0" height="1.5" fill="#5e5e5e"/>
<rect x="432.0" y="224.91" width="344.0" height="1.5" fill="#5e5e5e"/>
<rect x="466.65" y="3.0" width="1.5" height="227.8" fill="#4e4e4e"/>
<rect x="502.95" y="3.0" width="1.5" height="227.8" fill="#4e4e4e"/>
<rect x="539.25" y="3.0" width="1.5" height="227.8" fill="#4e4e4e"/>
<rect x="575.55" y="3.0" width="1.5" height="227.8" fill="#4e4e4e"/>
<rect x="611.85" y="3.0" width="1.5" height="227.8" fill="#4e4e4e"/>
<rect x="648.15" y="3.0" width="1.5" height="227.8" fill="#4e4e4e"/>
<rect x="684.45" y="3.0" width="1.5" height="227.8" fill="#4e4e4e"/>
<rect x="720.75" y="3.0" width="1.5" height="227.8" fill="#4e4e4e"/>
<rect x="757.05" y="3.0" width="1.5" height="227.8" fill="#4e4e4e"/>
<line x1="438.9" y1="180.4" x2="770.7" y2="8.9" stroke="#8a8a8a" stroke-width="1"/>
<line x1="438.9" y1="225.4" x2="770.7" y2="53.9" stroke="#8a8a8a" stroke-width="1"/>
<line x1="438.9" y1="202.9" x2="770.7" y2="31.4" stroke="#e6e6e6" stroke-width="1.4" stroke-dasharray="1.4 1.4"/>
<path d="M439.0 191.7h6M442.0 188.7v6M480.1 175.0h6M483.1 172.0v6M490.3 176.9h6M493.3 173.9v6M497.0 164.3h6M500.0 161.3v6M510.7 149.3h6M513.7 146.3v6M515.1 165.2h6M518.1 162.2v6M521.1 156.3h6M524.1 153.3v6M525.5 154.1h6M528.5 151.1v6M527.0 163.7h6M530.0 160.7v6M530.7 153.1h6M533.7 150.1v6M526.3 184.3h6M529.3 181.3v6M538.1 177.8h6M541.1 174.8v6M540.9 149.8h6M543.9 146.8v6M547.0 168.9h6M550.0 165.9v6M546.4 143.9h6M549.4 140.9v6M549.6 146.3h6M552.6 143.3v6M554.8 141.1h6M557.8 138.1v6M610.5 105.0h6M613.5 102.0v6M616.6 102.6h6M619.6 99.6v6M642.6 109.3h6M645.6 106.3v6M651.3 108.1h6M654.3 105.1v6M569.4 110.6h6M572.4 107.6v6M570.9 114.8h6M573.9 111.8v6M579.2 113.3h6M582.2 110.3v6M587.4 109.6h6M590.4 106.6v6M601.4 114.3h6M604.4 111.3v6M611.1 113.9h6M614.1 110.9v6M608.9 118.5h6M611.9 115.5v6M557.0 123.0h6M560.0 120.0v6M590.7 126.3h6M593.7 123.3v6M624.0 123.7h6M627.0 120.7v6M627.4 122.2h6M630.4 119.2v6M640.7 128.1h6M643.7 125.1v6M649.0 125.0h6M652.0 122.0v6M564.4 134.1h6M567.4 131.1v6M560.1 136.1h6M563.1 133.1v6M558.9 138.9h6M561.9 135.9v6M572.2 135.0h6M575.2 132.0v6M582.4 133.3h6M585.4 130.3v6M586.6 137.4h6M589.6 134.4v6M605.5 132.8h6M608.5 129.8v6M602.7 135.6h6M605.7 132.6v6M634.8 138.9h6M637.8 135.9v6M554.2 141.1h6M557.2 138.1v6M645.9 147.0h6M648.9 144.0v6M590.1 156.5h6M593.1 153.5v6M645.9 158.7h6M648.9 155.7v6M735.9 21.3h6M738.9 18.3v6M719.8 35.2h6M722.8 32.2v6M746.6 40.4h6M749.6 37.4v6M765.1 48.7h6M768.1 45.7v6M737.4 64.4h6M740.4 61.4v6M677.6 47.8h6M680.6 44.8v6M685.9 49.6h6M688.9 46.6v6M682.6 53.1h6M685.6 50.1v6M692.0 55.0h6M695.0 52.0v6M675.7 63.3h6M678.7 60.3v6M685.5 64.3h6M688.5 61.3v6M656.3 71.3h6M659.3 68.3v6M647.9 75.9h6M650.9 72.9v6M679.4 78.1h6M682.4 75.1v6M671.6 81.5h6M674.6 78.5v6M652.2 85.6h6M655.2 82.6v6M667.4 93.5h6M670.4 90.5v6M682.6 92.6h6M685.6 89.6v6M669.4 102.6h6M672.4 99.6v6M681.4 103.3h6M684.4 100.3v6M622.6 70.4h6M625.6 67.4v6M618.5 76.3h6M621.5 73.3v6M634.8 79.0h6M637.8 76.0v6M611.4 83.0h6M614.4 80.0v6M623.2 87.1h6M626.2 84.1v6M580.7 93.0h6M583.7 90.0v6M636.3 96.7h6M639.3 93.7v6M645.4 93.3h6M648.4 90.3v6" stroke="#d6bb3e" stroke-width="1.35" fill="none"/>
<path d="M633.6 30.7h6M636.6 27.7v6" stroke="#28a0d8" stroke-width="1.8" fill="none"/>
<text x="431.0" y="42.4" text-anchor="end" class="ts">2.0</text>
<text x="431.0" y="79.9" text-anchor="end" class="ts">1.0</text>
<text x="431.0" y="117.4" text-anchor="end" class="ts">0.0</text>
<text x="431.0" y="154.9" text-anchor="end" class="ts">-1.0</text>
<text x="431.0" y="192.4" text-anchor="end" class="ts">-2.0</text>
<text x="431.0" y="230.0" text-anchor="end" class="ts">-3.0</text>
<text x="465.9" y="242.8" text-anchor="middle" class="ts">-2.0</text>
<text x="502.2" y="242.8" text-anchor="middle" class="ts">-1.5</text>
<text x="538.5" y="242.8" text-anchor="middle" class="ts">-1.0</text>
<text x="574.8" y="242.8" text-anchor="middle" class="ts">-0.5</text>
<text x="612.6" y="242.8" text-anchor="middle" class="ts">0.0</text>
<text x="648.9" y="242.8" text-anchor="middle" class="ts">0.5</text>
<text x="685.2" y="242.8" text-anchor="middle" class="ts">1.0</text>
<text x="721.5" y="242.8" text-anchor="middle" class="ts">1.5</text>
<text x="757.8" y="242.8" text-anchor="middle" class="ts">2.0</text>
<text x="606.2" y="260.8" text-anchor="middle" class="ti" style="font-size:12.7px">Estimated DVH principal component score 1</text>
<text transform="translate(406.0,116.7) rotate(-90)" text-anchor="middle" class="ti">DVH principal component score 1</text>
<rect x="428.5" y="314.25" width="347.5" height="1.5" fill="#5e5e5e"/>
<rect x="428.5" y="353.55" width="347.5" height="1.5" fill="#5e5e5e"/>
<rect x="428.5" y="392.85" width="347.5" height="1.5" fill="#5e5e5e"/>
<rect x="428.5" y="432.15" width="347.5" height="1.5" fill="#5e5e5e"/>
<rect x="428.5" y="471.45" width="347.5" height="1.5" fill="#5e5e5e"/>
<rect x="447.55" y="276.3" width="1.5" height="225.7" fill="#4e4e4e"/>
<rect x="483.85" y="276.3" width="1.5" height="225.7" fill="#4e4e4e"/>
<rect x="520.15" y="276.3" width="1.5" height="225.7" fill="#4e4e4e"/>
<rect x="556.45" y="276.3" width="1.5" height="225.7" fill="#4e4e4e"/>
<rect x="592.75" y="276.3" width="1.5" height="225.7" fill="#4e4e4e"/>
<rect x="629.05" y="276.3" width="1.5" height="225.7" fill="#4e4e4e"/>
<rect x="665.35" y="276.3" width="1.5" height="225.7" fill="#4e4e4e"/>
<rect x="701.65" y="276.3" width="1.5" height="225.7" fill="#4e4e4e"/>
<rect x="737.95" y="276.3" width="1.5" height="225.7" fill="#4e4e4e"/>
<line x1="434.1" y1="462.2" x2="766.0" y2="282.5" stroke="#8a8a8a" stroke-width="1"/>
<line x1="434.1" y1="497.6" x2="766.0" y2="317.9" stroke="#8a8a8a" stroke-width="1"/>
<line x1="434.1" y1="479.9" x2="766.0" y2="300.2" stroke="#e6e6e6" stroke-width="1.4" stroke-dasharray="1.4 1.4"/>
<path d="M434.8 470.7h6M437.8 467.7v6M464.0 463.9h6M467.0 460.9v6M476.6 459.3h6M479.6 456.3v6M487.7 446.9h6M490.7 443.9v6M484.8 431.5h6M487.8 428.5v6M503.5 439.8h6M506.5 436.8v6M510.9 444.4h6M513.9 441.4v6M507.2 424.6h6M510.2 421.6v6M508.5 463.0h6M511.5 460.0v6M522.4 429.6h6M525.4 426.6v6M524.8 445.4h6M527.8 442.4v6M527.0 440.7h6M530.0 437.7v6M528.5 438.5h6M531.5 435.5v6M532.6 419.4h6M535.6 416.4v6M536.3 418.5h6M539.3 415.5v6M532.6 429.6h6M535.6 426.6v6M534.0 427.8h6M537.0 424.8v6M534.8 432.4h6M537.8 429.4v6M535.0 441.7h6M538.0 438.7v6M541.8 407.8h6M544.8 404.8v6M547.4 410.2h6M550.4 407.2v6M543.3 415.7h6M546.3 412.7v6M541.4 422.2h6M544.4 419.2v6M613.9 341.9h6M616.9 338.9v6M605.0 347.8h6M608.0 344.8v6M589.8 353.9h6M592.8 350.9v6M607.4 358.5h6M610.4 355.5v6M651.8 347.4h6M654.8 344.4v6M655.5 351.5h6M658.5 348.5v6M580.9 366.3h6M583.9 363.3v6M634.2 365.4h6M637.2 362.4v6M638.9 363.1h6M641.9 360.1v6M635.1 368.7h6M638.1 365.7v6M653.1 365.0h6M656.1 362.0v6M657.0 365.9h6M660.0 362.9v6M659.2 366.9h6M662.2 363.9v6M662.0 366.9h6M665.0 363.9v6M645.7 375.2h6M648.7 372.2v6M590.3 378.0h6M593.3 375.0v6M581.4 382.2h6M584.4 379.2v6M631.4 379.8h6M634.4 376.8v6M612.0 383.5h6M615.0 380.5v6M610.1 385.4h6M613.1 382.4v6M632.9 385.4h6M635.9 382.4v6M629.6 387.8h6M632.6 384.8v6M563.9 389.1h6M566.9 386.1v6M593.5 388.5h6M596.5 385.5v6M584.8 393.7h6M587.8 390.7v6M600.0 395.6h6M603.0 392.6v6M621.8 393.7h6M624.8 390.7v6M642.6 399.3h6M645.6 396.3v6M560.1 399.6h6M563.1 396.6v6M591.6 403.9h6M594.6 400.9v6M628.7 402.0h6M631.7 399.0v6M562.9 405.7h6M565.9 402.7v6M559.2 409.4h6M562.2 406.4v6M562.6 413.1h6M565.6 410.1v6M570.0 411.3h6M573.0 408.3v6M574.6 412.2h6M577.6 409.2v6M623.7 413.7h6M626.7 410.7v6M573.1 420.6h6M576.1 417.6v6M623.1 421.5h6M626.1 418.5v6M570.3 432.6h6M573.3 429.6v6M759.8 308.0h6M762.8 305.0v6M718.5 326.7h6M721.5 323.7v6M689.4 323.7h6M692.4 320.7v6M667.2 319.3h6M670.2 316.3v6M671.8 327.4h6M674.8 324.4v6M671.3 335.4h6M674.3 332.4v6M679.2 335.4h6M682.2 332.4v6M671.3 349.6h6M674.3 346.6v6M675.0 353.9h6M678.0 350.9v6M673.7 362.8h6M676.7 359.8v6M532.6 430.4h6M535.6 427.4v6" stroke="#d6bb3e" stroke-width="1.35" fill="none"/>
<path d="M604.0 358.0h6M607.0 355.0v6" stroke="#28a0d8" stroke-width="1.8" fill="none"/>
<text x="427.5" y="319.3" text-anchor="end" class="ts">2.0</text>
<text x="427.5" y="358.6" text-anchor="end" class="ts">1.0</text>
<text x="427.5" y="397.9" text-anchor="end" class="ts">0.0</text>
<text x="427.5" y="437.2" text-anchor="end" class="ts">-1.0</text>
<text x="427.5" y="476.5" text-anchor="end" class="ts">-2.0</text>
<text x="446.8" y="514.2" text-anchor="middle" class="ts">-2.0</text>
<text x="483.1" y="514.2" text-anchor="middle" class="ts">-1.5</text>
<text x="519.4" y="514.2" text-anchor="middle" class="ts">-1.0</text>
<text x="555.7" y="514.2" text-anchor="middle" class="ts">-0.5</text>
<text x="593.5" y="514.2" text-anchor="middle" class="ts">0.0</text>
<text x="629.8" y="514.2" text-anchor="middle" class="ts">0.5</text>
<text x="666.1" y="514.2" text-anchor="middle" class="ts">1.0</text>
<text x="702.4" y="514.2" text-anchor="middle" class="ts">1.5</text>
<text x="738.7" y="514.2" text-anchor="middle" class="ts">2.0</text>
<text x="591.7" y="531.6" text-anchor="middle" class="ti" style="font-size:12.7px">Estimated DVH principal component score 1</text>
<text transform="translate(402.6,382.3) rotate(-90)" text-anchor="middle" class="ti">DVH principal component score 1</text>
<text x="348.3" y="26.7" class="L">A</text>
<text x="354.6" y="297" class="L">B</text>
<text x="691.3" y="28.7" class="L">C</text>
<text x="711.2" y="302" class="L">D</text>
<rect x="388" y="0" width="2" height="540" fill="#b4b4b4"/>
<rect x="0" y="269" width="778" height="2" fill="#b4b4b4"/>
<rect x="0" y="0" width="778" height="1" fill="#e6e6e6"/>
<rect x="0" y="0" width="1" height="540" fill="#e6e6e6"/>
<rect x="777" y="0" width="1" height="540" fill="#eeeeee"/>
<rect x="0" y="539" width="778" height="1" fill="#eeeeee"/>
</svg>
</body></html>
